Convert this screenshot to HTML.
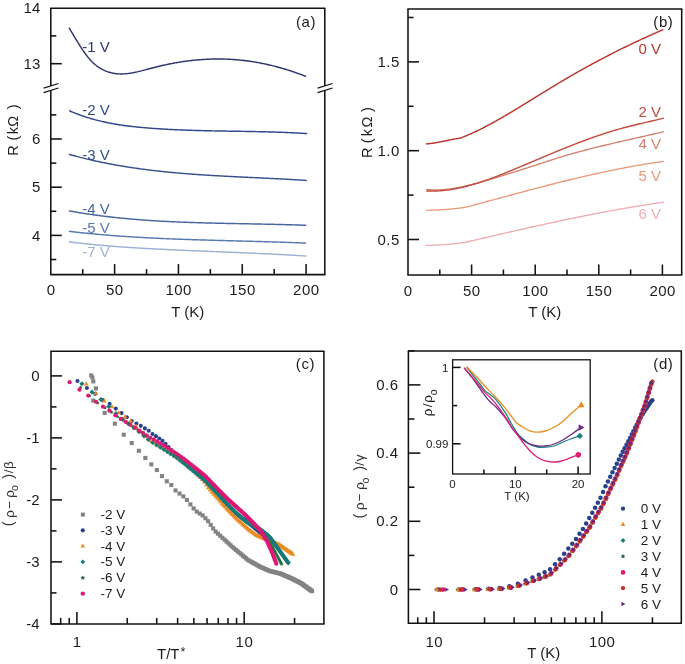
<!DOCTYPE html>
<html><head><meta charset="utf-8"><style>
html,body{margin:0;padding:0;background:#fff;}
svg{display:block;font-family:"Liberation Sans", sans-serif;will-change:transform;}
</style></head><body>
<svg width="685" height="664" viewBox="0 0 685 664">
<rect width="685" height="664" fill="#fff"/>
<line x1="50.15" y1="8.20" x2="325.45" y2="8.20" stroke="#121212" stroke-width="1.55"/>
<line x1="50.15" y1="274.60" x2="325.45" y2="274.60" stroke="#121212" stroke-width="1.55"/>
<line x1="50.80" y1="8.20" x2="50.80" y2="85.90" stroke="#121212" stroke-width="1.55"/>
<line x1="50.80" y1="90.30" x2="50.80" y2="274.60" stroke="#121212" stroke-width="1.55"/>
<line x1="324.80" y1="8.20" x2="324.80" y2="85.90" stroke="#121212" stroke-width="1.55"/>
<line x1="324.80" y1="90.30" x2="324.80" y2="274.60" stroke="#121212" stroke-width="1.55"/>
<line x1="43.60" y1="88.20" x2="58.50" y2="83.50" stroke="#121212" stroke-width="1.3"/>
<line x1="43.60" y1="92.70" x2="58.50" y2="88.00" stroke="#121212" stroke-width="1.3"/>
<line x1="317.60" y1="88.20" x2="332.50" y2="83.50" stroke="#121212" stroke-width="1.3"/>
<line x1="317.60" y1="92.70" x2="332.50" y2="88.00" stroke="#121212" stroke-width="1.3"/>
<line x1="82.71" y1="274.60" x2="82.71" y2="269.10" stroke="#121212" stroke-width="1.55"/>
<line x1="114.62" y1="274.60" x2="114.62" y2="264.10" stroke="#121212" stroke-width="1.55"/>
<line x1="146.53" y1="274.60" x2="146.53" y2="269.10" stroke="#121212" stroke-width="1.55"/>
<line x1="178.44" y1="274.60" x2="178.44" y2="264.10" stroke="#121212" stroke-width="1.55"/>
<line x1="210.35" y1="274.60" x2="210.35" y2="269.10" stroke="#121212" stroke-width="1.55"/>
<line x1="242.26" y1="274.60" x2="242.26" y2="264.10" stroke="#121212" stroke-width="1.55"/>
<line x1="274.17" y1="274.60" x2="274.17" y2="269.10" stroke="#121212" stroke-width="1.55"/>
<line x1="306.08" y1="274.60" x2="306.08" y2="264.10" stroke="#121212" stroke-width="1.55"/>
<text x="51.05" y="295.30" font-size="15" text-anchor="middle" fill="#1c1c1c"  letter-spacing="0.5">0</text>
<text x="114.87" y="295.30" font-size="15" text-anchor="middle" fill="#1c1c1c"  letter-spacing="0.5">50</text>
<text x="178.69" y="295.30" font-size="15" text-anchor="middle" fill="#1c1c1c"  letter-spacing="0.5">100</text>
<text x="242.51" y="295.30" font-size="15" text-anchor="middle" fill="#1c1c1c"  letter-spacing="0.5">150</text>
<text x="306.33" y="295.30" font-size="15" text-anchor="middle" fill="#1c1c1c"  letter-spacing="0.5">200</text>
<text x="187.80" y="317.20" font-size="15" text-anchor="middle" fill="#1c1c1c" >T (K)</text>
<line x1="50.80" y1="63.70" x2="61.80" y2="63.70" stroke="#121212" stroke-width="1.55"/>
<line x1="50.80" y1="35.90" x2="56.30" y2="35.90" stroke="#121212" stroke-width="1.55"/>
<line x1="50.80" y1="139.00" x2="61.80" y2="139.00" stroke="#121212" stroke-width="1.55"/>
<line x1="50.80" y1="187.20" x2="61.80" y2="187.20" stroke="#121212" stroke-width="1.55"/>
<line x1="50.80" y1="235.40" x2="61.80" y2="235.40" stroke="#121212" stroke-width="1.55"/>
<line x1="50.80" y1="114.90" x2="56.30" y2="114.90" stroke="#121212" stroke-width="1.55"/>
<line x1="50.80" y1="163.10" x2="56.30" y2="163.10" stroke="#121212" stroke-width="1.55"/>
<line x1="50.80" y1="211.30" x2="56.30" y2="211.30" stroke="#121212" stroke-width="1.55"/>
<line x1="50.80" y1="259.50" x2="56.30" y2="259.50" stroke="#121212" stroke-width="1.55"/>
<text x="40.30" y="13.20" font-size="15" text-anchor="end" fill="#1c1c1c" >14</text>
<text x="40.30" y="68.80" font-size="15" text-anchor="end" fill="#1c1c1c" >13</text>
<text x="40.30" y="144.10" font-size="15" text-anchor="end" fill="#1c1c1c" >6</text>
<text x="40.30" y="192.30" font-size="15" text-anchor="end" fill="#1c1c1c" >5</text>
<text x="40.30" y="240.50" font-size="15" text-anchor="end" fill="#1c1c1c" >4</text>
<text transform="translate(17.89,155.64) rotate(-90)" font-size="14.5" fill="#1c1c1c">R</text>
<text transform="translate(17.75,140.52) rotate(-90)" font-size="14.5" fill="#1c1c1c">(</text>
<text transform="translate(17.65,134.17) rotate(-90)" font-size="14.5" fill="#1c1c1c">k</text>
<text transform="translate(17.91,126.67) rotate(-90)" font-size="14.5" fill="#1c1c1c">Ω</text>
<text transform="translate(17.95,109.21) rotate(-90)" font-size="14.5" fill="#1c1c1c">)</text>
<text x="295.90" y="26.60" font-size="15" text-anchor="start" fill="#1c1c1c"  letter-spacing="0.6">(a)</text>
<path d="M69.30,28.25 L70.30,29.90 L71.30,31.56 L72.30,33.22 L73.30,34.89 L74.30,36.55 L75.30,38.21 L76.30,39.86 L77.30,41.49 L78.30,43.11 L79.30,44.71 L80.30,46.29 L81.30,47.84 L82.30,49.35 L83.30,50.83 L84.30,52.28 L85.30,53.68 L86.30,55.03 L87.30,56.33 L88.30,57.58 L89.30,58.78 L90.30,59.91 L91.30,60.98 L92.30,62.00 L93.30,62.97 L94.30,63.88 L95.30,64.74 L96.30,65.55 L97.30,66.31 L98.30,67.03 L99.30,67.70 L100.30,68.32 L101.30,68.91 L102.30,69.45 L103.30,69.96 L104.30,70.43 L105.30,70.87 L106.30,71.27 L107.30,71.64 L108.30,71.97 L109.30,72.28 L110.30,72.56 L111.30,72.82 L112.30,73.04 L113.30,73.24 L114.30,73.41 L115.30,73.55 L116.30,73.67 L117.30,73.77 L118.30,73.85 L119.30,73.90 L120.30,73.93 L121.30,73.94 L122.30,73.93 L123.30,73.90 L124.30,73.85 L125.30,73.78 L126.30,73.70 L127.30,73.60 L128.30,73.49 L129.30,73.36 L130.30,73.21 L131.30,73.05 L132.30,72.88 L133.30,72.70 L134.30,72.51 L135.30,72.30 L136.30,72.09 L137.30,71.87 L138.30,71.64 L139.30,71.40 L140.30,71.16 L141.30,70.91 L142.30,70.65 L143.30,70.39 L144.30,70.13 L145.30,69.86 L146.30,69.59 L147.30,69.32 L148.30,69.05 L149.30,68.78 L150.30,68.51 L151.30,68.25 L152.30,67.98 L153.30,67.72 L154.30,67.46 L155.30,67.20 L156.30,66.95 L157.30,66.71 L158.30,66.46 L159.30,66.22 L160.30,65.98 L161.30,65.75 L162.30,65.52 L163.30,65.30 L164.30,65.07 L165.30,64.85 L166.30,64.64 L167.30,64.43 L168.30,64.22 L169.30,64.02 L170.30,63.82 L171.30,63.63 L172.30,63.43 L173.30,63.25 L174.30,63.06 L175.30,62.88 L176.30,62.71 L177.30,62.53 L178.30,62.37 L179.30,62.20 L180.30,62.04 L181.30,61.88 L182.30,61.73 L183.30,61.58 L184.30,61.44 L185.30,61.30 L186.30,61.16 L187.30,61.03 L188.30,60.90 L189.30,60.78 L190.30,60.66 L191.30,60.54 L192.30,60.43 L193.30,60.32 L194.30,60.22 L195.30,60.12 L196.30,60.02 L197.30,59.93 L198.30,59.84 L199.30,59.76 L200.30,59.68 L201.30,59.60 L202.30,59.53 L203.30,59.47 L204.30,59.41 L205.30,59.35 L206.30,59.29 L207.30,59.25 L208.30,59.20 L209.30,59.16 L210.30,59.12 L211.30,59.09 L212.30,59.06 L213.30,59.04 L214.30,59.02 L215.30,59.01 L216.30,59.00 L217.30,58.99 L218.30,58.99 L219.30,58.99 L220.30,59.00 L221.30,59.01 L222.30,59.03 L223.30,59.05 L224.30,59.08 L225.30,59.11 L226.30,59.14 L227.30,59.18 L228.30,59.22 L229.30,59.27 L230.30,59.32 L231.30,59.38 L232.30,59.44 L233.30,59.51 L234.30,59.58 L235.30,59.66 L236.30,59.74 L237.30,59.82 L238.30,59.91 L239.30,60.01 L240.30,60.11 L241.30,60.21 L242.30,60.32 L243.30,60.43 L244.30,60.55 L245.30,60.67 L246.30,60.79 L247.30,60.92 L248.30,61.06 L249.30,61.20 L250.30,61.34 L251.30,61.49 L252.30,61.65 L253.30,61.80 L254.30,61.97 L255.30,62.13 L256.30,62.31 L257.30,62.48 L258.30,62.66 L259.30,62.85 L260.30,63.04 L261.30,63.23 L262.30,63.43 L263.30,63.63 L264.30,63.84 L265.30,64.05 L266.30,64.27 L267.30,64.49 L268.30,64.72 L269.30,64.95 L270.30,65.18 L271.30,65.42 L272.30,65.66 L273.30,65.91 L274.30,66.17 L275.30,66.42 L276.30,66.68 L277.30,66.95 L278.30,67.22 L279.30,67.49 L280.30,67.77 L281.30,68.06 L282.30,68.35 L283.30,68.64 L284.30,68.94 L285.30,69.24 L286.30,69.54 L287.30,69.85 L288.30,70.17 L289.30,70.49 L290.30,70.81 L291.30,71.14 L292.30,71.47 L293.30,71.81 L294.30,72.15 L295.30,72.50 L296.30,72.85 L297.30,73.20 L298.30,73.56 L299.30,73.92 L300.30,74.29 L301.30,74.66 L302.30,75.04 L303.30,75.42 L304.30,75.80 L305.30,76.19 L305.50,76.27" fill="none" stroke="#2d3673" stroke-width="1.45" stroke-linecap="round" stroke-linejoin="round"/>
<path d="M69.60,110.86 L70.60,111.29 L71.60,111.72 L72.60,112.14 L73.60,112.55 L74.60,112.95 L75.60,113.35 L76.60,113.74 L77.60,114.12 L78.60,114.49 L79.60,114.86 L80.60,115.22 L81.60,115.58 L82.60,115.93 L83.60,116.27 L84.60,116.60 L85.60,116.93 L86.60,117.25 L87.60,117.57 L88.60,117.88 L89.60,118.18 L90.60,118.48 L91.60,118.77 L92.60,119.05 L93.60,119.33 L94.60,119.61 L95.60,119.88 L96.60,120.14 L97.60,120.40 L98.60,120.65 L99.60,120.90 L100.60,121.14 L101.60,121.37 L102.60,121.60 L103.60,121.83 L104.60,122.05 L105.60,122.27 L106.60,122.48 L107.60,122.68 L108.60,122.89 L109.60,123.08 L110.60,123.28 L111.60,123.46 L112.60,123.65 L113.60,123.83 L114.60,124.00 L115.60,124.18 L116.60,124.34 L117.60,124.51 L118.60,124.67 L119.60,124.82 L120.60,124.98 L121.60,125.12 L122.60,125.27 L123.60,125.41 L124.60,125.55 L125.60,125.68 L126.60,125.82 L127.60,125.95 L128.60,126.07 L129.60,126.19 L130.60,126.31 L131.60,126.43 L132.60,126.54 L133.60,126.65 L134.60,126.76 L135.60,126.87 L136.60,126.97 L137.60,127.07 L138.60,127.17 L139.60,127.27 L140.60,127.37 L141.60,127.46 L142.60,127.55 L143.60,127.64 L144.60,127.72 L145.60,127.81 L146.60,127.89 L147.60,127.98 L148.60,128.06 L149.60,128.13 L150.60,128.21 L151.60,128.29 L152.60,128.36 L153.60,128.44 L154.60,128.51 L155.60,128.58 L156.60,128.65 L157.60,128.71 L158.60,128.78 L159.60,128.84 L160.60,128.91 L161.60,128.97 L162.60,129.03 L163.60,129.09 L164.60,129.15 L165.60,129.21 L166.60,129.26 L167.60,129.32 L168.60,129.37 L169.60,129.43 L170.60,129.48 L171.60,129.53 L172.60,129.58 L173.60,129.62 L174.60,129.67 L175.60,129.72 L176.60,129.76 L177.60,129.81 L178.60,129.85 L179.60,129.89 L180.60,129.93 L181.60,129.97 L182.60,130.01 L183.60,130.05 L184.60,130.09 L185.60,130.13 L186.60,130.16 L187.60,130.20 L188.60,130.23 L189.60,130.26 L190.60,130.30 L191.60,130.33 L192.60,130.36 L193.60,130.39 L194.60,130.42 L195.60,130.45 L196.60,130.48 L197.60,130.51 L198.60,130.53 L199.60,130.56 L200.60,130.59 L201.60,130.61 L202.60,130.64 L203.60,130.66 L204.60,130.68 L205.60,130.71 L206.60,130.73 L207.60,130.75 L208.60,130.77 L209.60,130.79 L210.60,130.82 L211.60,130.84 L212.60,130.86 L213.60,130.88 L214.60,130.90 L215.60,130.91 L216.60,130.93 L217.60,130.95 L218.60,130.97 L219.60,130.99 L220.60,131.01 L221.60,131.02 L222.60,131.04 L223.60,131.06 L224.60,131.07 L225.60,131.09 L226.60,131.11 L227.60,131.12 L228.60,131.14 L229.60,131.16 L230.60,131.17 L231.60,131.19 L232.60,131.20 L233.60,131.22 L234.60,131.24 L235.60,131.25 L236.60,131.27 L237.60,131.29 L238.60,131.30 L239.60,131.32 L240.60,131.33 L241.60,131.35 L242.60,131.37 L243.60,131.38 L244.60,131.40 L245.60,131.42 L246.60,131.44 L247.60,131.45 L248.60,131.47 L249.60,131.49 L250.60,131.51 L251.60,131.53 L252.60,131.55 L253.60,131.57 L254.60,131.59 L255.60,131.61 L256.60,131.63 L257.60,131.65 L258.60,131.67 L259.60,131.69 L260.60,131.71 L261.60,131.74 L262.60,131.76 L263.60,131.78 L264.60,131.81 L265.60,131.83 L266.60,131.86 L267.60,131.88 L268.60,131.91 L269.60,131.94 L270.60,131.97 L271.60,131.99 L272.60,132.02 L273.60,132.05 L274.60,132.08 L275.60,132.12 L276.60,132.15 L277.60,132.18 L278.60,132.21 L279.60,132.25 L280.60,132.28 L281.60,132.32 L282.60,132.36 L283.60,132.39 L284.60,132.43 L285.60,132.47 L286.60,132.51 L287.60,132.55 L288.60,132.60 L289.60,132.64 L290.60,132.69 L291.60,132.73 L292.60,132.78 L293.60,132.82 L294.60,132.87 L295.60,132.92 L296.60,132.97 L297.60,133.02 L298.60,133.08 L299.60,133.13 L300.60,133.19 L301.60,133.24 L302.60,133.30 L303.60,133.36 L304.60,133.42 L305.60,133.48 L306.50,133.54" fill="none" stroke="#30468a" stroke-width="1.45" stroke-linecap="round" stroke-linejoin="round"/>
<path d="M69.40,154.42 L70.40,154.70 L71.40,154.98 L72.40,155.25 L73.40,155.53 L74.40,155.80 L75.40,156.07 L76.40,156.33 L77.40,156.59 L78.40,156.85 L79.40,157.11 L80.40,157.37 L81.40,157.62 L82.40,157.87 L83.40,158.12 L84.40,158.37 L85.40,158.61 L86.40,158.85 L87.40,159.09 L88.40,159.33 L89.40,159.57 L90.40,159.80 L91.40,160.03 L92.40,160.26 L93.40,160.48 L94.40,160.71 L95.40,160.93 L96.40,161.15 L97.40,161.36 L98.40,161.58 L99.40,161.79 L100.40,162.00 L101.40,162.21 L102.40,162.42 L103.40,162.62 L104.40,162.83 L105.40,163.03 L106.40,163.22 L107.40,163.42 L108.40,163.62 L109.40,163.81 L110.40,164.00 L111.40,164.19 L112.40,164.37 L113.40,164.56 L114.40,164.74 L115.40,164.92 L116.40,165.10 L117.40,165.28 L118.40,165.45 L119.40,165.63 L120.40,165.80 L121.40,165.97 L122.40,166.13 L123.40,166.30 L124.40,166.46 L125.40,166.63 L126.40,166.79 L127.40,166.95 L128.40,167.10 L129.40,167.26 L130.40,167.41 L131.40,167.56 L132.40,167.71 L133.40,167.86 L134.40,168.01 L135.40,168.15 L136.40,168.30 L137.40,168.44 L138.40,168.58 L139.40,168.72 L140.40,168.86 L141.40,168.99 L142.40,169.13 L143.40,169.26 L144.40,169.39 L145.40,169.52 L146.40,169.65 L147.40,169.78 L148.40,169.90 L149.40,170.02 L150.40,170.15 L151.40,170.27 L152.40,170.39 L153.40,170.50 L154.40,170.62 L155.40,170.74 L156.40,170.85 L157.40,170.96 L158.40,171.07 L159.40,171.18 L160.40,171.29 L161.40,171.40 L162.40,171.51 L163.40,171.61 L164.40,171.72 L165.40,171.82 L166.40,171.92 L167.40,172.02 L168.40,172.12 L169.40,172.22 L170.40,172.31 L171.40,172.41 L172.40,172.50 L173.40,172.59 L174.40,172.69 L175.40,172.78 L176.40,172.87 L177.40,172.96 L178.40,173.04 L179.40,173.13 L180.40,173.22 L181.40,173.30 L182.40,173.38 L183.40,173.47 L184.40,173.55 L185.40,173.63 L186.40,173.71 L187.40,173.79 L188.40,173.86 L189.40,173.94 L190.40,174.02 L191.40,174.09 L192.40,174.17 L193.40,174.24 L194.40,174.31 L195.40,174.38 L196.40,174.46 L197.40,174.53 L198.40,174.59 L199.40,174.66 L200.40,174.73 L201.40,174.80 L202.40,174.86 L203.40,174.93 L204.40,175.00 L205.40,175.06 L206.40,175.12 L207.40,175.19 L208.40,175.25 L209.40,175.31 L210.40,175.37 L211.40,175.43 L212.40,175.49 L213.40,175.55 L214.40,175.61 L215.40,175.67 L216.40,175.72 L217.40,175.78 L218.40,175.84 L219.40,175.89 L220.40,175.95 L221.40,176.00 L222.40,176.06 L223.40,176.11 L224.40,176.17 L225.40,176.22 L226.40,176.27 L227.40,176.33 L228.40,176.38 L229.40,176.43 L230.40,176.48 L231.40,176.53 L232.40,176.58 L233.40,176.63 L234.40,176.68 L235.40,176.73 L236.40,176.78 L237.40,176.83 L238.40,176.88 L239.40,176.93 L240.40,176.98 L241.40,177.03 L242.40,177.08 L243.40,177.13 L244.40,177.17 L245.40,177.22 L246.40,177.27 L247.40,177.32 L248.40,177.36 L249.40,177.41 L250.40,177.46 L251.40,177.51 L252.40,177.55 L253.40,177.60 L254.40,177.65 L255.40,177.70 L256.40,177.74 L257.40,177.79 L258.40,177.84 L259.40,177.88 L260.40,177.93 L261.40,177.98 L262.40,178.03 L263.40,178.07 L264.40,178.12 L265.40,178.17 L266.40,178.22 L267.40,178.27 L268.40,178.32 L269.40,178.36 L270.40,178.41 L271.40,178.46 L272.40,178.51 L273.40,178.56 L274.40,178.61 L275.40,178.66 L276.40,178.71 L277.40,178.76 L278.40,178.81 L279.40,178.86 L280.40,178.91 L281.40,178.97 L282.40,179.02 L283.40,179.07 L284.40,179.12 L285.40,179.18 L286.40,179.23 L287.40,179.28 L288.40,179.34 L289.40,179.39 L290.40,179.45 L291.40,179.51 L292.40,179.56 L293.40,179.62 L294.40,179.68 L295.40,179.74 L296.40,179.79 L297.40,179.85 L298.40,179.91 L299.40,179.97 L300.40,180.03 L301.40,180.10 L302.40,180.16 L303.40,180.22 L304.40,180.28 L305.40,180.35 L306.30,180.41" fill="none" stroke="#37508f" stroke-width="1.45" stroke-linecap="round" stroke-linejoin="round"/>
<path d="M69.40,210.95 L70.40,211.13 L71.40,211.31 L72.40,211.48 L73.40,211.66 L74.40,211.83 L75.40,212.00 L76.40,212.17 L77.40,212.34 L78.40,212.50 L79.40,212.67 L80.40,212.83 L81.40,212.99 L82.40,213.15 L83.40,213.30 L84.40,213.46 L85.40,213.61 L86.40,213.77 L87.40,213.92 L88.40,214.06 L89.40,214.21 L90.40,214.36 L91.40,214.50 L92.40,214.64 L93.40,214.78 L94.40,214.92 L95.40,215.06 L96.40,215.19 L97.40,215.33 L98.40,215.46 L99.40,215.59 L100.40,215.72 L101.40,215.85 L102.40,215.98 L103.40,216.10 L104.40,216.23 L105.40,216.35 L106.40,216.47 L107.40,216.59 L108.40,216.71 L109.40,216.82 L110.40,216.94 L111.40,217.05 L112.40,217.16 L113.40,217.27 L114.40,217.38 L115.40,217.49 L116.40,217.60 L117.40,217.70 L118.40,217.81 L119.40,217.91 L120.40,218.01 L121.40,218.11 L122.40,218.21 L123.40,218.31 L124.40,218.40 L125.40,218.50 L126.40,218.59 L127.40,218.68 L128.40,218.77 L129.40,218.86 L130.40,218.95 L131.40,219.04 L132.40,219.13 L133.40,219.21 L134.40,219.30 L135.40,219.38 L136.40,219.46 L137.40,219.54 L138.40,219.62 L139.40,219.70 L140.40,219.78 L141.40,219.85 L142.40,219.93 L143.40,220.00 L144.40,220.07 L145.40,220.14 L146.40,220.22 L147.40,220.29 L148.40,220.35 L149.40,220.42 L150.40,220.49 L151.40,220.55 L152.40,220.62 L153.40,220.68 L154.40,220.74 L155.40,220.81 L156.40,220.87 L157.40,220.93 L158.40,220.99 L159.40,221.04 L160.40,221.10 L161.40,221.16 L162.40,221.21 L163.40,221.27 L164.40,221.32 L165.40,221.37 L166.40,221.43 L167.40,221.48 L168.40,221.53 L169.40,221.58 L170.40,221.63 L171.40,221.67 L172.40,221.72 L173.40,221.77 L174.40,221.81 L175.40,221.86 L176.40,221.90 L177.40,221.95 L178.40,221.99 L179.40,222.03 L180.40,222.07 L181.40,222.11 L182.40,222.15 L183.40,222.19 L184.40,222.23 L185.40,222.27 L186.40,222.31 L187.40,222.34 L188.40,222.38 L189.40,222.42 L190.40,222.45 L191.40,222.48 L192.40,222.52 L193.40,222.55 L194.40,222.58 L195.40,222.62 L196.40,222.65 L197.40,222.68 L198.40,222.71 L199.40,222.74 L200.40,222.77 L201.40,222.80 L202.40,222.83 L203.40,222.86 L204.40,222.88 L205.40,222.91 L206.40,222.94 L207.40,222.97 L208.40,222.99 L209.40,223.02 L210.40,223.04 L211.40,223.07 L212.40,223.09 L213.40,223.12 L214.40,223.14 L215.40,223.17 L216.40,223.19 L217.40,223.21 L218.40,223.23 L219.40,223.26 L220.40,223.28 L221.40,223.30 L222.40,223.32 L223.40,223.34 L224.40,223.37 L225.40,223.39 L226.40,223.41 L227.40,223.43 L228.40,223.45 L229.40,223.47 L230.40,223.49 L231.40,223.51 L232.40,223.53 L233.40,223.55 L234.40,223.57 L235.40,223.59 L236.40,223.61 L237.40,223.63 L238.40,223.64 L239.40,223.66 L240.40,223.68 L241.40,223.70 L242.40,223.72 L243.40,223.74 L244.40,223.76 L245.40,223.78 L246.40,223.80 L247.40,223.81 L248.40,223.83 L249.40,223.85 L250.40,223.87 L251.40,223.89 L252.40,223.91 L253.40,223.93 L254.40,223.95 L255.40,223.97 L256.40,223.99 L257.40,224.00 L258.40,224.02 L259.40,224.04 L260.40,224.06 L261.40,224.08 L262.40,224.10 L263.40,224.12 L264.40,224.14 L265.40,224.16 L266.40,224.19 L267.40,224.21 L268.40,224.23 L269.40,224.25 L270.40,224.27 L271.40,224.29 L272.40,224.32 L273.40,224.34 L274.40,224.36 L275.40,224.38 L276.40,224.41 L277.40,224.43 L278.40,224.46 L279.40,224.48 L280.40,224.51 L281.40,224.53 L282.40,224.56 L283.40,224.58 L284.40,224.61 L285.40,224.63 L286.40,224.66 L287.40,224.69 L288.40,224.72 L289.40,224.75 L290.40,224.77 L291.40,224.80 L292.40,224.83 L293.40,224.86 L294.40,224.89 L295.40,224.93 L296.40,224.96 L297.40,224.99 L298.40,225.02 L299.40,225.06 L300.40,225.09 L301.40,225.13 L302.40,225.16 L303.40,225.20 L304.40,225.23 L305.40,225.27 L305.70,225.28" fill="none" stroke="#47659f" stroke-width="1.45" stroke-linecap="round" stroke-linejoin="round"/>
<path d="M69.40,231.36 L70.40,231.48 L71.40,231.59 L72.40,231.71 L73.40,231.82 L74.40,231.94 L75.40,232.05 L76.40,232.16 L77.40,232.27 L78.40,232.38 L79.40,232.49 L80.40,232.60 L81.40,232.71 L82.40,232.81 L83.40,232.91 L84.40,233.02 L85.40,233.12 L86.40,233.22 L87.40,233.32 L88.40,233.42 L89.40,233.52 L90.40,233.62 L91.40,233.71 L92.40,233.81 L93.40,233.90 L94.40,234.00 L95.40,234.09 L96.40,234.18 L97.40,234.27 L98.40,234.36 L99.40,234.45 L100.40,234.54 L101.40,234.63 L102.40,234.71 L103.40,234.80 L104.40,234.88 L105.40,234.97 L106.40,235.05 L107.40,235.13 L108.40,235.21 L109.40,235.29 L110.40,235.37 L111.40,235.45 L112.40,235.53 L113.40,235.61 L114.40,235.68 L115.40,235.76 L116.40,235.83 L117.40,235.91 L118.40,235.98 L119.40,236.05 L120.40,236.12 L121.40,236.19 L122.40,236.26 L123.40,236.33 L124.40,236.40 L125.40,236.47 L126.40,236.53 L127.40,236.60 L128.40,236.67 L129.40,236.73 L130.40,236.79 L131.40,236.86 L132.40,236.92 L133.40,236.98 L134.40,237.04 L135.40,237.10 L136.40,237.16 L137.40,237.22 L138.40,237.28 L139.40,237.34 L140.40,237.40 L141.40,237.45 L142.40,237.51 L143.40,237.57 L144.40,237.62 L145.40,237.67 L146.40,237.73 L147.40,237.78 L148.40,237.83 L149.40,237.89 L150.40,237.94 L151.40,237.99 L152.40,238.04 L153.40,238.09 L154.40,238.14 L155.40,238.18 L156.40,238.23 L157.40,238.28 L158.40,238.33 L159.40,238.37 L160.40,238.42 L161.40,238.46 L162.40,238.51 L163.40,238.55 L164.40,238.60 L165.40,238.64 L166.40,238.68 L167.40,238.73 L168.40,238.77 L169.40,238.81 L170.40,238.85 L171.40,238.89 L172.40,238.93 L173.40,238.97 L174.40,239.01 L175.40,239.05 L176.40,239.09 L177.40,239.13 L178.40,239.16 L179.40,239.20 L180.40,239.24 L181.40,239.28 L182.40,239.31 L183.40,239.35 L184.40,239.38 L185.40,239.42 L186.40,239.45 L187.40,239.49 L188.40,239.52 L189.40,239.56 L190.40,239.59 L191.40,239.62 L192.40,239.66 L193.40,239.69 L194.40,239.72 L195.40,239.75 L196.40,239.79 L197.40,239.82 L198.40,239.85 L199.40,239.88 L200.40,239.91 L201.40,239.94 L202.40,239.97 L203.40,240.00 L204.40,240.03 L205.40,240.06 L206.40,240.09 L207.40,240.12 L208.40,240.15 L209.40,240.18 L210.40,240.21 L211.40,240.24 L212.40,240.26 L213.40,240.29 L214.40,240.32 L215.40,240.35 L216.40,240.38 L217.40,240.40 L218.40,240.43 L219.40,240.46 L220.40,240.49 L221.40,240.51 L222.40,240.54 L223.40,240.57 L224.40,240.59 L225.40,240.62 L226.40,240.65 L227.40,240.67 L228.40,240.70 L229.40,240.73 L230.40,240.75 L231.40,240.78 L232.40,240.81 L233.40,240.83 L234.40,240.86 L235.40,240.89 L236.40,240.91 L237.40,240.94 L238.40,240.97 L239.40,240.99 L240.40,241.02 L241.40,241.05 L242.40,241.07 L243.40,241.10 L244.40,241.12 L245.40,241.15 L246.40,241.18 L247.40,241.20 L248.40,241.23 L249.40,241.26 L250.40,241.28 L251.40,241.31 L252.40,241.34 L253.40,241.37 L254.40,241.39 L255.40,241.42 L256.40,241.45 L257.40,241.48 L258.40,241.50 L259.40,241.53 L260.40,241.56 L261.40,241.59 L262.40,241.62 L263.40,241.65 L264.40,241.67 L265.40,241.70 L266.40,241.73 L267.40,241.76 L268.40,241.79 L269.40,241.82 L270.40,241.85 L271.40,241.88 L272.40,241.91 L273.40,241.94 L274.40,241.97 L275.40,242.00 L276.40,242.04 L277.40,242.07 L278.40,242.10 L279.40,242.13 L280.40,242.16 L281.40,242.20 L282.40,242.23 L283.40,242.26 L284.40,242.30 L285.40,242.33 L286.40,242.36 L287.40,242.40 L288.40,242.43 L289.40,242.47 L290.40,242.51 L291.40,242.54 L292.40,242.58 L293.40,242.61 L294.40,242.65 L295.40,242.69 L296.40,242.73 L297.40,242.76 L298.40,242.80 L299.40,242.84 L300.40,242.88 L301.40,242.92 L302.40,242.96 L303.40,243.00 L304.40,243.04 L305.40,243.09 L305.70,243.10" fill="none" stroke="#5778b0" stroke-width="1.45" stroke-linecap="round" stroke-linejoin="round"/>
<path d="M69.40,241.93 L70.40,242.05 L71.40,242.18 L72.40,242.30 L73.40,242.42 L74.40,242.54 L75.40,242.66 L76.40,242.78 L77.40,242.89 L78.40,243.01 L79.40,243.12 L80.40,243.23 L81.40,243.34 L82.40,243.45 L83.40,243.56 L84.40,243.67 L85.40,243.77 L86.40,243.88 L87.40,243.98 L88.40,244.09 L89.40,244.19 L90.40,244.29 L91.40,244.39 L92.40,244.48 L93.40,244.58 L94.40,244.68 L95.40,244.77 L96.40,244.87 L97.40,244.96 L98.40,245.05 L99.40,245.14 L100.40,245.23 L101.40,245.32 L102.40,245.41 L103.40,245.50 L104.40,245.58 L105.40,245.67 L106.40,245.75 L107.40,245.83 L108.40,245.92 L109.40,246.00 L110.40,246.08 L111.40,246.16 L112.40,246.24 L113.40,246.31 L114.40,246.39 L115.40,246.47 L116.40,246.54 L117.40,246.62 L118.40,246.69 L119.40,246.76 L120.40,246.84 L121.40,246.91 L122.40,246.98 L123.40,247.05 L124.40,247.12 L125.40,247.18 L126.40,247.25 L127.40,247.32 L128.40,247.39 L129.40,247.45 L130.40,247.52 L131.40,247.58 L132.40,247.64 L133.40,247.71 L134.40,247.77 L135.40,247.83 L136.40,247.89 L137.40,247.95 L138.40,248.01 L139.40,248.07 L140.40,248.13 L141.40,248.19 L142.40,248.25 L143.40,248.31 L144.40,248.36 L145.40,248.42 L146.40,248.48 L147.40,248.53 L148.40,248.59 L149.40,248.64 L150.40,248.70 L151.40,248.75 L152.40,248.80 L153.40,248.86 L154.40,248.91 L155.40,248.96 L156.40,249.01 L157.40,249.06 L158.40,249.12 L159.40,249.17 L160.40,249.22 L161.40,249.27 L162.40,249.32 L163.40,249.37 L164.40,249.42 L165.40,249.46 L166.40,249.51 L167.40,249.56 L168.40,249.61 L169.40,249.66 L170.40,249.70 L171.40,249.75 L172.40,249.80 L173.40,249.84 L174.40,249.89 L175.40,249.94 L176.40,249.98 L177.40,250.03 L178.40,250.07 L179.40,250.12 L180.40,250.16 L181.40,250.21 L182.40,250.25 L183.40,250.30 L184.40,250.34 L185.40,250.39 L186.40,250.43 L187.40,250.47 L188.40,250.52 L189.40,250.56 L190.40,250.60 L191.40,250.65 L192.40,250.69 L193.40,250.73 L194.40,250.77 L195.40,250.82 L196.40,250.86 L197.40,250.90 L198.40,250.94 L199.40,250.98 L200.40,251.03 L201.40,251.07 L202.40,251.11 L203.40,251.15 L204.40,251.19 L205.40,251.23 L206.40,251.27 L207.40,251.32 L208.40,251.36 L209.40,251.40 L210.40,251.44 L211.40,251.48 L212.40,251.52 L213.40,251.56 L214.40,251.60 L215.40,251.64 L216.40,251.68 L217.40,251.72 L218.40,251.77 L219.40,251.81 L220.40,251.85 L221.40,251.89 L222.40,251.93 L223.40,251.97 L224.40,252.01 L225.40,252.05 L226.40,252.09 L227.40,252.13 L228.40,252.17 L229.40,252.22 L230.40,252.26 L231.40,252.30 L232.40,252.34 L233.40,252.38 L234.40,252.42 L235.40,252.46 L236.40,252.51 L237.40,252.55 L238.40,252.59 L239.40,252.63 L240.40,252.68 L241.40,252.72 L242.40,252.76 L243.40,252.80 L244.40,252.85 L245.40,252.89 L246.40,252.93 L247.40,252.98 L248.40,253.02 L249.40,253.06 L250.40,253.11 L251.40,253.15 L252.40,253.19 L253.40,253.24 L254.40,253.28 L255.40,253.33 L256.40,253.37 L257.40,253.42 L258.40,253.46 L259.40,253.51 L260.40,253.56 L261.40,253.60 L262.40,253.65 L263.40,253.70 L264.40,253.74 L265.40,253.79 L266.40,253.84 L267.40,253.89 L268.40,253.93 L269.40,253.98 L270.40,254.03 L271.40,254.08 L272.40,254.13 L273.40,254.18 L274.40,254.23 L275.40,254.28 L276.40,254.33 L277.40,254.38 L278.40,254.43 L279.40,254.49 L280.40,254.54 L281.40,254.59 L282.40,254.64 L283.40,254.70 L284.40,254.75 L285.40,254.81 L286.40,254.86 L287.40,254.91 L288.40,254.97 L289.40,255.03 L290.40,255.08 L291.40,255.14 L292.40,255.20 L293.40,255.25 L294.40,255.31 L295.40,255.37 L296.40,255.43 L297.40,255.49 L298.40,255.55 L299.40,255.61 L300.40,255.67 L301.40,255.73 L302.40,255.79 L303.40,255.85 L304.40,255.91 L305.40,255.98 L305.70,256.00" fill="none" stroke="#9cb2d8" stroke-width="1.45" stroke-linecap="round" stroke-linejoin="round"/>
<text x="82.30" y="51.50" font-size="15" text-anchor="start" fill="#2d3673" >-1 V</text>
<text x="82.30" y="115.30" font-size="15" text-anchor="start" fill="#30468a" >-2 V</text>
<text x="82.30" y="159.70" font-size="15" text-anchor="start" fill="#37508f" >-3 V</text>
<text x="82.30" y="213.80" font-size="15" text-anchor="start" fill="#47659f" >-4 V</text>
<text x="82.30" y="232.70" font-size="15" text-anchor="start" fill="#5778b0" >-5 V</text>
<text x="82.30" y="257.20" font-size="15" text-anchor="start" fill="#9cb2d8" >-7 V</text>
<line x1="407.35" y1="9.00" x2="682.35" y2="9.00" stroke="#121212" stroke-width="1.55"/>
<line x1="407.35" y1="275.00" x2="682.35" y2="275.00" stroke="#121212" stroke-width="1.55"/>
<line x1="408.00" y1="9.00" x2="408.00" y2="275.00" stroke="#121212" stroke-width="1.55"/>
<line x1="681.70" y1="9.00" x2="681.70" y2="275.00" stroke="#121212" stroke-width="1.55"/>
<line x1="439.80" y1="275.00" x2="439.80" y2="269.50" stroke="#121212" stroke-width="1.55"/>
<line x1="471.60" y1="275.00" x2="471.60" y2="264.50" stroke="#121212" stroke-width="1.55"/>
<line x1="503.40" y1="275.00" x2="503.40" y2="269.50" stroke="#121212" stroke-width="1.55"/>
<line x1="535.20" y1="275.00" x2="535.20" y2="264.50" stroke="#121212" stroke-width="1.55"/>
<line x1="567.00" y1="275.00" x2="567.00" y2="269.50" stroke="#121212" stroke-width="1.55"/>
<line x1="598.80" y1="275.00" x2="598.80" y2="264.50" stroke="#121212" stroke-width="1.55"/>
<line x1="630.60" y1="275.00" x2="630.60" y2="269.50" stroke="#121212" stroke-width="1.55"/>
<line x1="662.40" y1="275.00" x2="662.40" y2="264.50" stroke="#121212" stroke-width="1.55"/>
<text x="408.25" y="295.80" font-size="15" text-anchor="middle" fill="#1c1c1c"  letter-spacing="0.5">0</text>
<text x="471.85" y="295.80" font-size="15" text-anchor="middle" fill="#1c1c1c"  letter-spacing="0.5">50</text>
<text x="535.45" y="295.80" font-size="15" text-anchor="middle" fill="#1c1c1c"  letter-spacing="0.5">100</text>
<text x="599.05" y="295.80" font-size="15" text-anchor="middle" fill="#1c1c1c"  letter-spacing="0.5">150</text>
<text x="662.65" y="295.80" font-size="15" text-anchor="middle" fill="#1c1c1c"  letter-spacing="0.5">200</text>
<text x="544.85" y="317.20" font-size="15" text-anchor="middle" fill="#1c1c1c" >T (K)</text>
<line x1="408.00" y1="239.50" x2="419.00" y2="239.50" stroke="#121212" stroke-width="1.55"/>
<line x1="408.00" y1="150.70" x2="419.00" y2="150.70" stroke="#121212" stroke-width="1.55"/>
<line x1="408.00" y1="61.90" x2="419.00" y2="61.90" stroke="#121212" stroke-width="1.55"/>
<line x1="408.00" y1="195.10" x2="413.50" y2="195.10" stroke="#121212" stroke-width="1.55"/>
<line x1="408.00" y1="106.30" x2="413.50" y2="106.30" stroke="#121212" stroke-width="1.55"/>
<line x1="408.00" y1="17.50" x2="413.50" y2="17.50" stroke="#121212" stroke-width="1.55"/>
<text x="399.80" y="244.60" font-size="15" text-anchor="end" fill="#1c1c1c"  letter-spacing="0.5">0.5</text>
<text x="399.80" y="155.80" font-size="15" text-anchor="end" fill="#1c1c1c"  letter-spacing="0.5">1.0</text>
<text x="399.80" y="67.00" font-size="15" text-anchor="end" fill="#1c1c1c"  letter-spacing="0.5">1.5</text>
<text transform="translate(371.74,158.09) rotate(-90)" font-size="14.5" fill="#1c1c1c">R</text>
<text transform="translate(371.85,143.27) rotate(-90)" font-size="14.5" fill="#1c1c1c">(</text>
<text transform="translate(371.75,136.22) rotate(-90)" font-size="14.5" fill="#1c1c1c">k</text>
<text transform="translate(372.01,127.57) rotate(-90)" font-size="14.5" fill="#1c1c1c">Ω</text>
<text transform="translate(372.05,111.91) rotate(-90)" font-size="14.5" fill="#1c1c1c">)</text>
<text x="653.30" y="27.30" font-size="15" text-anchor="start" fill="#1c1c1c"  letter-spacing="0.6">(b)</text>
<path d="M426.40,245.50 L427.40,245.47 L428.40,245.43 L429.40,245.39 L430.40,245.36 L431.40,245.32 L432.40,245.28 L433.40,245.23 L434.40,245.19 L435.40,245.14 L436.40,245.10 L437.40,245.05 L438.40,245.00 L439.40,244.94 L440.40,244.89 L441.40,244.83 L442.40,244.76 L443.40,244.70 L444.40,244.63 L445.40,244.56 L446.40,244.49 L447.40,244.41 L448.40,244.33 L449.40,244.25 L450.40,244.16 L451.40,244.07 L452.40,243.97 L453.40,243.87 L454.40,243.76 L455.40,243.66 L456.40,243.54 L457.40,243.42 L458.40,243.30 L459.40,243.17 L460.40,243.04 L461.40,242.90 L462.40,242.76 L463.40,242.61 L464.40,242.46 L465.40,242.30 L466.00,242.20 L467.00,241.97 L468.00,241.73 L469.00,241.50 L470.00,241.26 L471.00,241.03 L472.00,240.79 L473.00,240.56 L474.00,240.32 L475.00,240.09 L476.00,239.86 L477.00,239.62 L478.00,239.39 L479.00,239.15 L480.00,238.92 L481.00,238.69 L482.00,238.45 L483.00,238.22 L484.00,237.99 L485.00,237.75 L486.00,237.52 L487.00,237.29 L488.00,237.05 L489.00,236.82 L490.00,236.59 L491.00,236.36 L492.00,236.12 L493.00,235.89 L494.00,235.66 L495.00,235.43 L496.00,235.20 L497.00,234.96 L498.00,234.73 L499.00,234.50 L500.00,234.27 L501.00,234.04 L502.00,233.81 L503.00,233.58 L504.00,233.35 L505.00,233.12 L506.00,232.89 L507.00,232.66 L508.00,232.43 L509.00,232.20 L510.00,231.97 L511.00,231.74 L512.00,231.52 L513.00,231.29 L514.00,231.06 L515.00,230.83 L516.00,230.60 L517.00,230.38 L518.00,230.15 L519.00,229.92 L520.00,229.70 L521.00,229.47 L522.00,229.24 L523.00,229.02 L524.00,228.79 L525.00,228.57 L526.00,228.34 L527.00,228.12 L528.00,227.90 L529.00,227.67 L530.00,227.45 L531.00,227.23 L532.00,227.00 L533.00,226.78 L534.00,226.56 L535.00,226.34 L536.00,226.11 L537.00,225.89 L538.00,225.67 L539.00,225.45 L540.00,225.23 L541.00,225.01 L542.00,224.79 L543.00,224.57 L544.00,224.35 L545.00,224.14 L546.00,223.92 L547.00,223.70 L548.00,223.48 L549.00,223.27 L550.00,223.05 L551.00,222.83 L552.00,222.62 L553.00,222.40 L554.00,222.19 L555.00,221.98 L556.00,221.76 L557.00,221.55 L558.00,221.33 L559.00,221.12 L560.00,220.91 L561.00,220.70 L562.00,220.49 L563.00,220.28 L564.00,220.07 L565.00,219.86 L566.00,219.65 L567.00,219.44 L568.00,219.23 L569.00,219.02 L570.00,218.81 L571.00,218.61 L572.00,218.40 L573.00,218.19 L574.00,217.99 L575.00,217.78 L576.00,217.58 L577.00,217.38 L578.00,217.17 L579.00,216.97 L580.00,216.77 L581.00,216.57 L582.00,216.36 L583.00,216.16 L584.00,215.96 L585.00,215.76 L586.00,215.56 L587.00,215.37 L588.00,215.17 L589.00,214.97 L590.00,214.77 L591.00,214.58 L592.00,214.38 L593.00,214.19 L594.00,213.99 L595.00,213.80 L596.00,213.60 L597.00,213.41 L598.00,213.22 L599.00,213.03 L600.00,212.84 L601.00,212.65 L602.00,212.46 L603.00,212.27 L604.00,212.08 L605.00,211.89 L606.00,211.71 L607.00,211.52 L608.00,211.33 L609.00,211.15 L610.00,210.96 L611.00,210.78 L612.00,210.60 L613.00,210.41 L614.00,210.23 L615.00,210.05 L616.00,209.87 L617.00,209.69 L618.00,209.51 L619.00,209.33 L620.00,209.16 L621.00,208.98 L622.00,208.80 L623.00,208.63 L624.00,208.45 L625.00,208.28 L626.00,208.10 L627.00,207.93 L628.00,207.76 L629.00,207.59 L630.00,207.42 L631.00,207.25 L632.00,207.08 L633.00,206.91 L634.00,206.74 L635.00,206.58 L636.00,206.41 L637.00,206.25 L638.00,206.08 L639.00,205.92 L640.00,205.76 L641.00,205.60 L642.00,205.43 L643.00,205.27 L644.00,205.11 L645.00,204.96 L646.00,204.80 L647.00,204.64 L648.00,204.48 L649.00,204.33 L650.00,204.17 L651.00,204.02 L652.00,203.87 L653.00,203.72 L654.00,203.56 L655.00,203.41 L656.00,203.26 L657.00,203.12 L658.00,202.97 L659.00,202.82 L660.00,202.68 L661.00,202.53 L662.00,202.39 L663.00,202.24 L663.30,202.20" fill="none" stroke="#efadb2" stroke-width="1.35" stroke-linecap="round" stroke-linejoin="round"/>
<path d="M426.40,210.40 L427.40,210.37 L428.40,210.34 L429.40,210.30 L430.40,210.27 L431.40,210.23 L432.40,210.19 L433.40,210.15 L434.40,210.11 L435.40,210.06 L436.40,210.01 L437.40,209.96 L438.40,209.91 L439.40,209.85 L440.40,209.79 L441.40,209.73 L442.40,209.67 L443.40,209.60 L444.40,209.53 L445.40,209.46 L446.40,209.38 L447.40,209.30 L448.40,209.22 L449.40,209.14 L450.40,209.05 L451.40,208.96 L452.40,208.86 L453.40,208.76 L454.40,208.66 L455.40,208.56 L456.40,208.45 L457.40,208.34 L458.40,208.22 L459.40,208.10 L460.40,207.97 L461.40,207.84 L462.40,207.71 L463.40,207.58 L464.40,207.43 L465.40,207.29 L466.00,207.20 L467.00,206.93 L468.00,206.66 L469.00,206.39 L470.00,206.12 L471.00,205.85 L472.00,205.58 L473.00,205.31 L474.00,205.04 L475.00,204.77 L476.00,204.50 L477.00,204.23 L478.00,203.96 L479.00,203.69 L480.00,203.42 L481.00,203.14 L482.00,202.87 L483.00,202.60 L484.00,202.33 L485.00,202.06 L486.00,201.79 L487.00,201.52 L488.00,201.24 L489.00,200.97 L490.00,200.70 L491.00,200.43 L492.00,200.16 L493.00,199.89 L494.00,199.62 L495.00,199.34 L496.00,199.07 L497.00,198.80 L498.00,198.53 L499.00,198.26 L500.00,197.99 L501.00,197.72 L502.00,197.45 L503.00,197.18 L504.00,196.91 L505.00,196.63 L506.00,196.36 L507.00,196.09 L508.00,195.82 L509.00,195.55 L510.00,195.29 L511.00,195.02 L512.00,194.75 L513.00,194.48 L514.00,194.21 L515.00,193.94 L516.00,193.67 L517.00,193.40 L518.00,193.14 L519.00,192.87 L520.00,192.60 L521.00,192.33 L522.00,192.07 L523.00,191.80 L524.00,191.53 L525.00,191.27 L526.00,191.00 L527.00,190.74 L528.00,190.47 L529.00,190.21 L530.00,189.94 L531.00,189.68 L532.00,189.42 L533.00,189.15 L534.00,188.89 L535.00,188.63 L536.00,188.37 L537.00,188.10 L538.00,187.84 L539.00,187.58 L540.00,187.32 L541.00,187.06 L542.00,186.80 L543.00,186.54 L544.00,186.28 L545.00,186.03 L546.00,185.77 L547.00,185.51 L548.00,185.26 L549.00,185.00 L550.00,184.74 L551.00,184.49 L552.00,184.24 L553.00,183.98 L554.00,183.73 L555.00,183.48 L556.00,183.22 L557.00,182.97 L558.00,182.72 L559.00,182.47 L560.00,182.22 L561.00,181.97 L562.00,181.72 L563.00,181.48 L564.00,181.23 L565.00,180.98 L566.00,180.74 L567.00,180.49 L568.00,180.25 L569.00,180.00 L570.00,179.76 L571.00,179.52 L572.00,179.28 L573.00,179.04 L574.00,178.80 L575.00,178.56 L576.00,178.32 L577.00,178.08 L578.00,177.84 L579.00,177.61 L580.00,177.37 L581.00,177.14 L582.00,176.90 L583.00,176.67 L584.00,176.44 L585.00,176.21 L586.00,175.98 L587.00,175.75 L588.00,175.52 L589.00,175.29 L590.00,175.06 L591.00,174.84 L592.00,174.61 L593.00,174.39 L594.00,174.16 L595.00,173.94 L596.00,173.72 L597.00,173.50 L598.00,173.28 L599.00,173.06 L600.00,172.84 L601.00,172.62 L602.00,172.41 L603.00,172.19 L604.00,171.98 L605.00,171.77 L606.00,171.55 L607.00,171.34 L608.00,171.13 L609.00,170.92 L610.00,170.72 L611.00,170.51 L612.00,170.30 L613.00,170.10 L614.00,169.90 L615.00,169.69 L616.00,169.49 L617.00,169.29 L618.00,169.09 L619.00,168.90 L620.00,168.70 L621.00,168.50 L622.00,168.31 L623.00,168.12 L624.00,167.92 L625.00,167.73 L626.00,167.54 L627.00,167.35 L628.00,167.17 L629.00,166.98 L630.00,166.80 L631.00,166.61 L632.00,166.43 L633.00,166.25 L634.00,166.07 L635.00,165.89 L636.00,165.71 L637.00,165.54 L638.00,165.36 L639.00,165.19 L640.00,165.02 L641.00,164.85 L642.00,164.68 L643.00,164.51 L644.00,164.34 L645.00,164.18 L646.00,164.01 L647.00,163.85 L648.00,163.69 L649.00,163.53 L650.00,163.37 L651.00,163.21 L652.00,163.06 L653.00,162.90 L654.00,162.75 L655.00,162.60 L656.00,162.45 L657.00,162.30 L658.00,162.15 L659.00,162.01 L660.00,161.86 L661.00,161.72 L662.00,161.58 L663.00,161.44 L663.30,161.40" fill="none" stroke="#eb9a7b" stroke-width="1.35" stroke-linecap="round" stroke-linejoin="round"/>
<path d="M426.80,189.49 L427.80,189.59 L428.80,189.67 L429.80,189.74 L430.80,189.80 L431.80,189.85 L432.80,189.88 L433.80,189.91 L434.80,189.92 L435.80,189.92 L436.80,189.91 L437.80,189.90 L438.80,189.87 L439.80,189.83 L440.80,189.78 L441.80,189.73 L442.80,189.66 L443.80,189.58 L444.80,189.50 L445.80,189.40 L446.80,189.30 L447.80,189.19 L448.80,189.07 L449.80,188.94 L450.80,188.81 L451.80,188.67 L452.80,188.52 L453.80,188.36 L454.80,188.20 L455.80,188.02 L456.80,187.85 L457.80,187.66 L458.80,187.47 L459.80,187.28 L460.80,187.07 L461.80,186.86 L462.80,186.65 L463.80,186.43 L464.80,186.21 L465.80,185.98 L466.80,185.74 L467.80,185.51 L468.80,185.26 L469.80,185.02 L470.80,184.76 L471.80,184.51 L472.80,184.25 L473.80,183.99 L474.80,183.72 L475.80,183.46 L476.80,183.18 L477.80,182.91 L478.80,182.63 L479.80,182.35 L480.80,182.07 L481.80,181.79 L482.80,181.50 L483.80,181.21 L484.80,180.92 L485.80,180.63 L486.80,180.34 L487.80,180.04 L488.80,179.75 L489.80,179.45 L490.80,179.15 L491.80,178.85 L492.80,178.56 L493.80,178.26 L494.80,177.96 L495.80,177.66 L496.80,177.35 L497.80,177.05 L498.80,176.75 L499.80,176.45 L500.80,176.15 L501.80,175.85 L502.80,175.55 L503.80,175.24 L504.80,174.94 L505.80,174.63 L506.80,174.33 L507.80,174.02 L508.80,173.72 L509.80,173.41 L510.80,173.10 L511.80,172.79 L512.80,172.48 L513.80,172.17 L514.80,171.86 L515.80,171.55 L516.80,171.23 L517.80,170.92 L518.80,170.60 L519.80,170.28 L520.80,169.96 L521.80,169.64 L522.80,169.32 L523.80,169.00 L524.80,168.67 L525.80,168.35 L526.80,168.02 L527.80,167.70 L528.80,167.37 L529.80,167.04 L530.80,166.72 L531.80,166.39 L532.80,166.06 L533.80,165.73 L534.80,165.40 L535.80,165.07 L536.80,164.75 L537.80,164.42 L538.80,164.09 L539.80,163.76 L540.80,163.43 L541.80,163.10 L542.80,162.78 L543.80,162.45 L544.80,162.12 L545.80,161.80 L546.80,161.47 L547.80,161.15 L548.80,160.83 L549.80,160.51 L550.80,160.18 L551.80,159.86 L552.80,159.55 L553.80,159.23 L554.80,158.91 L555.80,158.60 L556.80,158.28 L557.80,157.97 L558.80,157.66 L559.80,157.35 L560.80,157.05 L561.80,156.74 L562.80,156.44 L563.80,156.14 L564.80,155.84 L565.80,155.54 L566.80,155.25 L567.80,154.95 L568.80,154.66 L569.80,154.37 L570.80,154.09 L571.80,153.80 L572.80,153.52 L573.80,153.24 L574.80,152.96 L575.80,152.68 L576.80,152.40 L577.80,152.13 L578.80,151.86 L579.80,151.59 L580.80,151.32 L581.80,151.05 L582.80,150.78 L583.80,150.52 L584.80,150.25 L585.80,149.99 L586.80,149.73 L587.80,149.47 L588.80,149.22 L589.80,148.96 L590.80,148.71 L591.80,148.45 L592.80,148.20 L593.80,147.95 L594.80,147.70 L595.80,147.45 L596.80,147.20 L597.80,146.96 L598.80,146.71 L599.80,146.47 L600.80,146.23 L601.80,145.98 L602.80,145.74 L603.80,145.50 L604.80,145.26 L605.80,145.02 L606.80,144.79 L607.80,144.55 L608.80,144.31 L609.80,144.08 L610.80,143.85 L611.80,143.61 L612.80,143.38 L613.80,143.15 L614.80,142.92 L615.80,142.68 L616.80,142.45 L617.80,142.22 L618.80,141.99 L619.80,141.77 L620.80,141.54 L621.80,141.31 L622.80,141.08 L623.80,140.85 L624.80,140.63 L625.80,140.40 L626.80,140.17 L627.80,139.95 L628.80,139.72 L629.80,139.50 L630.80,139.27 L631.80,139.04 L632.80,138.82 L633.80,138.59 L634.80,138.37 L635.80,138.14 L636.80,137.92 L637.80,137.69 L638.80,137.46 L639.80,137.24 L640.80,137.01 L641.80,136.78 L642.80,136.56 L643.80,136.33 L644.80,136.10 L645.80,135.87 L646.80,135.65 L647.80,135.42 L648.80,135.19 L649.80,134.96 L650.80,134.73 L651.80,134.50 L652.80,134.26 L653.80,134.03 L654.80,133.80 L655.80,133.56 L656.80,133.33 L657.80,133.09 L658.80,132.86 L659.80,132.62 L660.80,132.38 L661.80,132.14 L662.80,131.90 L663.30,131.78" fill="none" stroke="#d3806f" stroke-width="1.35" stroke-linecap="round" stroke-linejoin="round"/>
<path d="M426.80,190.94 L427.80,190.99 L428.80,191.02 L429.80,191.05 L430.80,191.06 L431.80,191.07 L432.80,191.07 L433.80,191.06 L434.80,191.04 L435.80,191.01 L436.80,190.97 L437.80,190.93 L438.80,190.87 L439.80,190.81 L440.80,190.74 L441.80,190.65 L442.80,190.57 L443.80,190.47 L444.80,190.36 L445.80,190.25 L446.80,190.13 L447.80,190.00 L448.80,189.87 L449.80,189.72 L450.80,189.57 L451.80,189.41 L452.80,189.25 L453.80,189.07 L454.80,188.89 L455.80,188.71 L456.80,188.51 L457.80,188.31 L458.80,188.11 L459.80,187.89 L460.80,187.67 L461.80,187.45 L462.80,187.21 L463.80,186.97 L464.80,186.73 L465.80,186.48 L466.80,186.22 L467.80,185.96 L468.80,185.69 L469.80,185.42 L470.80,185.14 L471.80,184.86 L472.80,184.57 L473.80,184.27 L474.80,183.97 L475.80,183.67 L476.80,183.36 L477.80,183.05 L478.80,182.73 L479.80,182.40 L480.80,182.08 L481.80,181.74 L482.80,181.41 L483.80,181.07 L484.80,180.72 L485.80,180.38 L486.80,180.03 L487.80,179.67 L488.80,179.31 L489.80,178.95 L490.80,178.58 L491.80,178.21 L492.80,177.84 L493.80,177.47 L494.80,177.09 L495.80,176.71 L496.80,176.32 L497.80,175.93 L498.80,175.55 L499.80,175.15 L500.80,174.76 L501.80,174.36 L502.80,173.96 L503.80,173.56 L504.80,173.16 L505.80,172.76 L506.80,172.35 L507.80,171.94 L508.80,171.53 L509.80,171.12 L510.80,170.71 L511.80,170.29 L512.80,169.88 L513.80,169.46 L514.80,169.05 L515.80,168.63 L516.80,168.21 L517.80,167.79 L518.80,167.37 L519.80,166.95 L520.80,166.53 L521.80,166.11 L522.80,165.69 L523.80,165.26 L524.80,164.84 L525.80,164.42 L526.80,164.00 L527.80,163.57 L528.80,163.15 L529.80,162.73 L530.80,162.31 L531.80,161.88 L532.80,161.46 L533.80,161.04 L534.80,160.61 L535.80,160.19 L536.80,159.77 L537.80,159.34 L538.80,158.92 L539.80,158.50 L540.80,158.08 L541.80,157.66 L542.80,157.24 L543.80,156.82 L544.80,156.39 L545.80,155.98 L546.80,155.56 L547.80,155.14 L548.80,154.72 L549.80,154.30 L550.80,153.88 L551.80,153.47 L552.80,153.05 L553.80,152.64 L554.80,152.22 L555.80,151.81 L556.80,151.40 L557.80,150.99 L558.80,150.58 L559.80,150.17 L560.80,149.76 L561.80,149.35 L562.80,148.95 L563.80,148.54 L564.80,148.14 L565.80,147.74 L566.80,147.34 L567.80,146.94 L568.80,146.54 L569.80,146.14 L570.80,145.75 L571.80,145.35 L572.80,144.96 L573.80,144.57 L574.80,144.18 L575.80,143.79 L576.80,143.40 L577.80,143.02 L578.80,142.64 L579.80,142.26 L580.80,141.88 L581.80,141.50 L582.80,141.12 L583.80,140.75 L584.80,140.38 L585.80,140.01 L586.80,139.64 L587.80,139.27 L588.80,138.91 L589.80,138.55 L590.80,138.19 L591.80,137.83 L592.80,137.48 L593.80,137.12 L594.80,136.77 L595.80,136.42 L596.80,136.08 L597.80,135.73 L598.80,135.39 L599.80,135.05 L600.80,134.72 L601.80,134.39 L602.80,134.05 L603.80,133.73 L604.80,133.40 L605.80,133.08 L606.80,132.76 L607.80,132.44 L608.80,132.13 L609.80,131.82 L610.80,131.51 L611.80,131.20 L612.80,130.90 L613.80,130.60 L614.80,130.30 L615.80,130.01 L616.80,129.72 L617.80,129.43 L618.80,129.15 L619.80,128.87 L620.80,128.59 L621.80,128.31 L622.80,128.04 L623.80,127.77 L624.80,127.51 L625.80,127.25 L626.80,126.99 L627.80,126.73 L628.80,126.47 L629.80,126.22 L630.80,125.97 L631.80,125.72 L632.80,125.47 L633.80,125.23 L634.80,124.99 L635.80,124.74 L636.80,124.50 L637.80,124.26 L638.80,124.03 L639.80,123.79 L640.80,123.56 L641.80,123.32 L642.80,123.09 L643.80,122.86 L644.80,122.62 L645.80,122.39 L646.80,122.16 L647.80,121.93 L648.80,121.70 L649.80,121.47 L650.80,121.24 L651.80,121.01 L652.80,120.78 L653.80,120.54 L654.80,120.31 L655.80,120.08 L656.80,119.85 L657.80,119.61 L658.80,119.38 L659.80,119.14 L660.80,118.90 L661.80,118.66 L662.80,118.42 L663.30,118.30" fill="none" stroke="#c24b3d" stroke-width="1.4" stroke-linecap="round" stroke-linejoin="round"/>
<path d="M426.40,143.90 L427.40,143.81 L428.40,143.72 L429.40,143.61 L430.40,143.49 L431.40,143.36 L432.40,143.22 L433.40,143.08 L434.40,142.92 L435.40,142.76 L436.40,142.59 L437.40,142.42 L438.40,142.24 L439.40,142.05 L440.40,141.86 L441.40,141.67 L442.40,141.47 L443.40,141.27 L444.40,141.07 L445.40,140.87 L446.40,140.67 L447.40,140.46 L448.40,140.26 L449.40,140.06 L450.40,139.86 L451.40,139.66 L452.40,139.47 L453.40,139.28 L454.40,139.09 L455.40,138.91 L456.40,138.73 L457.40,138.56 L458.40,138.39 L459.40,138.24 L460.30,138.10 L461.30,137.72 L462.30,137.33 L463.30,136.94 L464.30,136.54 L465.30,136.13 L466.30,135.72 L467.30,135.30 L468.30,134.87 L469.30,134.44 L470.30,134.00 L471.30,133.55 L472.30,133.10 L473.30,132.64 L474.30,132.18 L475.30,131.71 L476.30,131.24 L477.30,130.76 L478.30,130.28 L479.30,129.79 L480.30,129.29 L481.30,128.79 L482.30,128.29 L483.30,127.78 L484.30,127.27 L485.30,126.75 L486.30,126.23 L487.30,125.70 L488.30,125.17 L489.30,124.64 L490.30,124.10 L491.30,123.56 L492.30,123.01 L493.30,122.47 L494.30,121.91 L495.30,121.36 L496.30,120.80 L497.30,120.24 L498.30,119.67 L499.30,119.11 L500.30,118.54 L501.30,117.97 L502.30,117.39 L503.30,116.81 L504.30,116.23 L505.30,115.65 L506.30,115.07 L507.30,114.48 L508.30,113.89 L509.30,113.30 L510.30,112.71 L511.30,112.11 L512.30,111.51 L513.30,110.92 L514.30,110.31 L515.30,109.71 L516.30,109.11 L517.30,108.50 L518.30,107.90 L519.30,107.29 L520.30,106.68 L521.30,106.07 L522.30,105.46 L523.30,104.85 L524.30,104.23 L525.30,103.62 L526.30,103.00 L527.30,102.39 L528.30,101.77 L529.30,101.16 L530.30,100.54 L531.30,99.92 L532.30,99.30 L533.30,98.68 L534.30,98.07 L535.30,97.45 L536.30,96.83 L537.30,96.21 L538.30,95.59 L539.30,94.97 L540.30,94.35 L541.30,93.74 L542.30,93.12 L543.30,92.50 L544.30,91.88 L545.30,91.27 L546.30,90.65 L547.30,90.04 L548.30,89.42 L549.30,88.81 L550.30,88.20 L551.30,87.59 L552.30,86.98 L553.30,86.37 L554.30,85.76 L555.30,85.16 L556.30,84.55 L557.30,83.95 L558.30,83.35 L559.30,82.75 L560.30,82.15 L561.30,81.56 L562.30,80.96 L563.30,80.37 L564.30,79.78 L565.30,79.19 L566.30,78.60 L567.30,78.02 L568.30,77.44 L569.30,76.85 L570.30,76.27 L571.30,75.70 L572.30,75.12 L573.30,74.55 L574.30,73.97 L575.30,73.40 L576.30,72.83 L577.30,72.26 L578.30,71.70 L579.30,71.13 L580.30,70.57 L581.30,70.01 L582.30,69.45 L583.30,68.89 L584.30,68.34 L585.30,67.79 L586.30,67.23 L587.30,66.68 L588.30,66.13 L589.30,65.59 L590.30,65.04 L591.30,64.50 L592.30,63.96 L593.30,63.42 L594.30,62.88 L595.30,62.34 L596.30,61.80 L597.30,61.27 L598.30,60.74 L599.30,60.21 L600.30,59.68 L601.30,59.15 L602.30,58.63 L603.30,58.10 L604.30,57.58 L605.30,57.06 L606.30,56.54 L607.30,56.03 L608.30,55.51 L609.30,55.00 L610.30,54.49 L611.30,53.97 L612.30,53.47 L613.30,52.96 L614.30,52.45 L615.30,51.95 L616.30,51.45 L617.30,50.95 L618.30,50.45 L619.30,49.95 L620.30,49.45 L621.30,48.96 L622.30,48.47 L623.30,47.97 L624.30,47.48 L625.30,47.00 L626.30,46.51 L627.30,46.03 L628.30,45.54 L629.30,45.06 L630.30,44.58 L631.30,44.10 L632.30,43.62 L633.30,43.15 L634.30,42.67 L635.30,42.20 L636.30,41.73 L637.30,41.26 L638.30,40.79 L639.30,40.33 L640.30,39.86 L641.30,39.40 L642.30,38.94 L643.30,38.48 L644.30,38.02 L645.30,37.56 L646.30,37.11 L647.30,36.65 L648.30,36.20 L649.30,35.75 L650.30,35.30 L651.30,34.85 L652.30,34.40 L653.30,33.96 L654.30,33.51 L655.30,33.07 L656.30,32.63 L657.30,32.19 L658.30,31.75 L659.30,31.32 L660.30,30.88 L661.30,30.45 L662.30,30.02 L662.80,29.80" fill="none" stroke="#b8382e" stroke-width="1.45" stroke-linecap="round" stroke-linejoin="round"/>
<text x="638.60" y="53.80" font-size="15" text-anchor="start" fill="#b8382e" >0 V</text>
<text x="638.60" y="117.00" font-size="15" text-anchor="start" fill="#c24b3d" >2 V</text>
<text x="638.60" y="148.50" font-size="15" text-anchor="start" fill="#d3806f" >4 V</text>
<text x="638.60" y="180.60" font-size="15" text-anchor="start" fill="#eb9a7b" >5 V</text>
<text x="638.60" y="219.30" font-size="15" text-anchor="start" fill="#efadb2" >6 V</text>
<line x1="50.35" y1="351.30" x2="324.55" y2="351.30" stroke="#121212" stroke-width="1.55"/>
<line x1="50.35" y1="623.90" x2="324.55" y2="623.90" stroke="#121212" stroke-width="1.55"/>
<line x1="51.00" y1="351.30" x2="51.00" y2="623.90" stroke="#121212" stroke-width="1.55"/>
<line x1="323.90" y1="351.30" x2="323.90" y2="623.90" stroke="#121212" stroke-width="1.55"/>
<line x1="60.69" y1="623.90" x2="60.69" y2="617.90" stroke="#121212" stroke-width="1.55"/>
<line x1="69.24" y1="623.90" x2="69.24" y2="617.90" stroke="#121212" stroke-width="1.55"/>
<line x1="127.26" y1="623.90" x2="127.26" y2="617.90" stroke="#121212" stroke-width="1.55"/>
<line x1="156.72" y1="623.90" x2="156.72" y2="617.90" stroke="#121212" stroke-width="1.55"/>
<line x1="177.62" y1="623.90" x2="177.62" y2="617.90" stroke="#121212" stroke-width="1.55"/>
<line x1="193.84" y1="623.90" x2="193.84" y2="617.90" stroke="#121212" stroke-width="1.55"/>
<line x1="207.08" y1="623.90" x2="207.08" y2="617.90" stroke="#121212" stroke-width="1.55"/>
<line x1="218.28" y1="623.90" x2="218.28" y2="617.90" stroke="#121212" stroke-width="1.55"/>
<line x1="227.99" y1="623.90" x2="227.99" y2="617.90" stroke="#121212" stroke-width="1.55"/>
<line x1="236.54" y1="623.90" x2="236.54" y2="617.90" stroke="#121212" stroke-width="1.55"/>
<line x1="294.56" y1="623.90" x2="294.56" y2="617.90" stroke="#121212" stroke-width="1.55"/>
<line x1="76.90" y1="623.90" x2="76.90" y2="611.90" stroke="#121212" stroke-width="1.55"/>
<line x1="244.20" y1="623.90" x2="244.20" y2="611.90" stroke="#121212" stroke-width="1.55"/>
<text x="76.90" y="646.50" font-size="15" text-anchor="middle" fill="#1c1c1c" >1</text>
<text x="244.45" y="646.50" font-size="15" text-anchor="middle" fill="#1c1c1c"  letter-spacing="0.5">10</text>
<text x="157.0" y="658.5" font-size="15" fill="#1c1c1c">T/T<tspan font-size="12.5" dx="1.0" dy="-2.9">*</tspan></text>
<line x1="51.00" y1="375.90" x2="62.00" y2="375.90" stroke="#121212" stroke-width="1.55"/>
<line x1="51.00" y1="437.90" x2="62.00" y2="437.90" stroke="#121212" stroke-width="1.55"/>
<line x1="51.00" y1="499.90" x2="62.00" y2="499.90" stroke="#121212" stroke-width="1.55"/>
<line x1="51.00" y1="561.90" x2="62.00" y2="561.90" stroke="#121212" stroke-width="1.55"/>
<line x1="51.00" y1="623.90" x2="62.00" y2="623.90" stroke="#121212" stroke-width="1.55"/>
<line x1="51.00" y1="406.90" x2="56.50" y2="406.90" stroke="#121212" stroke-width="1.55"/>
<line x1="51.00" y1="468.90" x2="56.50" y2="468.90" stroke="#121212" stroke-width="1.55"/>
<line x1="51.00" y1="530.90" x2="56.50" y2="530.90" stroke="#121212" stroke-width="1.55"/>
<line x1="51.00" y1="592.90" x2="56.50" y2="592.90" stroke="#121212" stroke-width="1.55"/>
<text x="39.60" y="381.00" font-size="15" text-anchor="end" fill="#1c1c1c" >0</text>
<text x="39.60" y="443.00" font-size="15" text-anchor="end" fill="#1c1c1c" >-1</text>
<text x="39.60" y="505.00" font-size="15" text-anchor="end" fill="#1c1c1c" >-2</text>
<text x="39.60" y="567.00" font-size="15" text-anchor="end" fill="#1c1c1c" >-3</text>
<text x="39.60" y="629.00" font-size="15" text-anchor="end" fill="#1c1c1c" >-4</text>
<text x="295.80" y="369.20" font-size="15" text-anchor="start" fill="#1c1c1c"  letter-spacing="0.6">(c)</text>
<text transform="translate(13.10,526.22) rotate(-90)" font-size="14.5" fill="#333">(</text>
<text transform="translate(13.53,517.65) rotate(-90)" font-size="13.5" fill="#333">ρ</text>
<text transform="translate(13.99,508.85) rotate(-90)" font-size="13.5" fill="#333">−</text>
<text transform="translate(13.53,497.75) rotate(-90)" font-size="13.5" fill="#333">ρ</text>
<text transform="translate(18.47,491.02) rotate(-90)" font-size="10.5" fill="#333">o</text>
<text transform="translate(13.25,478.71) rotate(-90)" font-size="14.5" fill="#333">)</text>
<text transform="translate(12.98,473.33) rotate(-90)" font-size="13.5" fill="#333">/</text>
<text transform="translate(13.29,469.03) rotate(-90)" font-size="13.5" fill="#333">β</text>
<rect x="89.15" y="373.35" width="4.1" height="4.1" fill="#838383"/>
<rect x="90.35" y="375.45" width="4.1" height="4.1" fill="#838383"/>
<rect x="91.25" y="379.35" width="4.1" height="4.1" fill="#838383"/>
<rect x="93.85" y="386.35" width="4.1" height="4.1" fill="#838383"/>
<rect x="91.20" y="398.50" width="4.2" height="4.2" fill="#858585"/>
<rect x="102.65" y="410.85" width="4.1" height="4.1" fill="#838383"/>
<rect x="112.81" y="421.59" width="4.1" height="4.1" fill="#838383"/>
<rect x="121.72" y="432.67" width="4.1" height="4.1" fill="#838383"/>
<rect x="129.66" y="441.01" width="4.1" height="4.1" fill="#838383"/>
<rect x="136.81" y="448.76" width="4.1" height="4.1" fill="#838383"/>
<rect x="143.32" y="455.90" width="4.1" height="4.1" fill="#838383"/>
<rect x="149.30" y="462.30" width="4.1" height="4.1" fill="#838383"/>
<rect x="154.82" y="467.99" width="4.1" height="4.1" fill="#838383"/>
<rect x="159.95" y="474.04" width="4.1" height="4.1" fill="#838383"/>
<rect x="164.75" y="479.24" width="4.1" height="4.1" fill="#838383"/>
<rect x="169.24" y="483.02" width="4.1" height="4.1" fill="#838383"/>
<rect x="173.48" y="488.36" width="4.1" height="4.1" fill="#838383"/>
<rect x="177.48" y="491.51" width="4.1" height="4.1" fill="#838383"/>
<rect x="181.27" y="494.32" width="4.1" height="4.1" fill="#838383"/>
<rect x="184.87" y="497.89" width="4.1" height="4.1" fill="#838383"/>
<rect x="188.31" y="502.38" width="4.1" height="4.1" fill="#838383"/>
<rect x="191.59" y="506.34" width="4.1" height="4.1" fill="#838383"/>
<rect x="194.72" y="509.58" width="4.1" height="4.1" fill="#838383"/>
<rect x="197.73" y="511.51" width="4.1" height="4.1" fill="#838383"/>
<rect x="200.62" y="513.36" width="4.1" height="4.1" fill="#838383"/>
<rect x="203.40" y="516.25" width="4.1" height="4.1" fill="#838383"/>
<rect x="206.07" y="519.12" width="4.1" height="4.1" fill="#838383"/>
<rect x="208.65" y="522.81" width="4.1" height="4.1" fill="#838383"/>
<rect x="211.14" y="526.37" width="4.1" height="4.1" fill="#838383"/>
<rect x="213.55" y="529.50" width="4.1" height="4.1" fill="#838383"/>
<rect x="215.88" y="531.63" width="4.1" height="4.1" fill="#838383"/>
<rect x="218.14" y="533.70" width="4.1" height="4.1" fill="#838383"/>
<rect x="220.33" y="535.70" width="4.1" height="4.1" fill="#838383"/>
<rect x="222.46" y="537.65" width="4.1" height="4.1" fill="#838383"/>
<rect x="224.53" y="539.54" width="4.1" height="4.1" fill="#838383"/>
<rect x="226.53" y="541.38" width="4.1" height="4.1" fill="#838383"/>
<rect x="228.49" y="543.17" width="4.1" height="4.1" fill="#838383"/>
<rect x="230.39" y="544.91" width="4.1" height="4.1" fill="#838383"/>
<rect x="232.25" y="546.47" width="4.1" height="4.1" fill="#838383"/>
<rect x="234.06" y="547.99" width="4.1" height="4.1" fill="#838383"/>
<rect x="235.82" y="549.47" width="4.1" height="4.1" fill="#838383"/>
<rect x="237.55" y="550.91" width="4.1" height="4.1" fill="#838383"/>
<rect x="239.23" y="552.32" width="4.1" height="4.1" fill="#838383"/>
<rect x="240.88" y="553.70" width="4.1" height="4.1" fill="#838383"/>
<rect x="242.48" y="555.05" width="4.1" height="4.1" fill="#838383"/>
<rect x="244.06" y="556.37" width="4.1" height="4.1" fill="#838383"/>
<rect x="245.60" y="557.66" width="4.1" height="4.1" fill="#838383"/>
<rect x="247.11" y="558.60" width="4.1" height="4.1" fill="#838383"/>
<rect x="248.59" y="559.43" width="4.1" height="4.1" fill="#838383"/>
<rect x="250.03" y="560.24" width="4.1" height="4.1" fill="#838383"/>
<rect x="251.45" y="561.04" width="4.1" height="4.1" fill="#838383"/>
<rect x="252.85" y="561.82" width="4.1" height="4.1" fill="#838383"/>
<rect x="254.21" y="562.59" width="4.1" height="4.1" fill="#838383"/>
<rect x="255.55" y="563.34" width="4.1" height="4.1" fill="#838383"/>
<rect x="256.87" y="564.08" width="4.1" height="4.1" fill="#838383"/>
<rect x="258.17" y="564.80" width="4.1" height="4.1" fill="#838383"/>
<rect x="259.44" y="565.36" width="4.1" height="4.1" fill="#838383"/>
<rect x="260.69" y="565.90" width="4.1" height="4.1" fill="#838383"/>
<rect x="261.91" y="566.43" width="4.1" height="4.1" fill="#838383"/>
<rect x="263.12" y="566.95" width="4.1" height="4.1" fill="#838383"/>
<rect x="264.31" y="567.47" width="4.1" height="4.1" fill="#838383"/>
<rect x="265.48" y="567.97" width="4.1" height="4.1" fill="#838383"/>
<rect x="266.63" y="568.47" width="4.1" height="4.1" fill="#838383"/>
<rect x="267.76" y="568.95" width="4.1" height="4.1" fill="#838383"/>
<rect x="268.88" y="569.23" width="4.1" height="4.1" fill="#838383"/>
<rect x="269.97" y="569.50" width="4.1" height="4.1" fill="#838383"/>
<rect x="271.06" y="569.77" width="4.1" height="4.1" fill="#838383"/>
<rect x="272.12" y="570.03" width="4.1" height="4.1" fill="#838383"/>
<rect x="273.17" y="570.29" width="4.1" height="4.1" fill="#838383"/>
<rect x="274.21" y="570.55" width="4.1" height="4.1" fill="#838383"/>
<rect x="275.23" y="570.80" width="4.1" height="4.1" fill="#838383"/>
<rect x="276.24" y="571.05" width="4.1" height="4.1" fill="#838383"/>
<rect x="277.23" y="571.30" width="4.1" height="4.1" fill="#838383"/>
<rect x="278.21" y="571.54" width="4.1" height="4.1" fill="#838383"/>
<rect x="279.18" y="571.88" width="4.1" height="4.1" fill="#838383"/>
<rect x="280.13" y="572.29" width="4.1" height="4.1" fill="#838383"/>
<rect x="281.07" y="572.70" width="4.1" height="4.1" fill="#838383"/>
<rect x="282.00" y="573.11" width="4.1" height="4.1" fill="#838383"/>
<rect x="282.92" y="573.51" width="4.1" height="4.1" fill="#838383"/>
<rect x="283.82" y="573.90" width="4.1" height="4.1" fill="#838383"/>
<rect x="284.72" y="574.29" width="4.1" height="4.1" fill="#838383"/>
<rect x="285.60" y="574.68" width="4.1" height="4.1" fill="#838383"/>
<rect x="286.48" y="575.06" width="4.1" height="4.1" fill="#838383"/>
<rect x="287.34" y="575.43" width="4.1" height="4.1" fill="#838383"/>
<rect x="288.19" y="575.80" width="4.1" height="4.1" fill="#838383"/>
<rect x="289.04" y="576.17" width="4.1" height="4.1" fill="#838383"/>
<rect x="289.87" y="576.56" width="4.1" height="4.1" fill="#838383"/>
<rect x="290.70" y="576.98" width="4.1" height="4.1" fill="#838383"/>
<rect x="291.51" y="577.39" width="4.1" height="4.1" fill="#838383"/>
<rect x="292.32" y="577.80" width="4.1" height="4.1" fill="#838383"/>
<rect x="293.11" y="578.20" width="4.1" height="4.1" fill="#838383"/>
<rect x="293.90" y="578.60" width="4.1" height="4.1" fill="#838383"/>
<rect x="294.68" y="578.99" width="4.1" height="4.1" fill="#838383"/>
<rect x="295.45" y="579.38" width="4.1" height="4.1" fill="#838383"/>
<rect x="296.22" y="579.77" width="4.1" height="4.1" fill="#838383"/>
<rect x="296.97" y="580.15" width="4.1" height="4.1" fill="#838383"/>
<rect x="297.72" y="580.53" width="4.1" height="4.1" fill="#838383"/>
<rect x="298.46" y="580.90" width="4.1" height="4.1" fill="#838383"/>
<rect x="299.19" y="581.33" width="4.1" height="4.1" fill="#838383"/>
<rect x="299.92" y="581.85" width="4.1" height="4.1" fill="#838383"/>
<rect x="300.64" y="582.37" width="4.1" height="4.1" fill="#838383"/>
<rect x="301.35" y="582.88" width="4.1" height="4.1" fill="#838383"/>
<rect x="302.05" y="583.39" width="4.1" height="4.1" fill="#838383"/>
<rect x="302.75" y="583.89" width="4.1" height="4.1" fill="#838383"/>
<rect x="303.44" y="584.39" width="4.1" height="4.1" fill="#838383"/>
<rect x="304.12" y="584.88" width="4.1" height="4.1" fill="#838383"/>
<rect x="304.80" y="585.37" width="4.1" height="4.1" fill="#838383"/>
<rect x="305.47" y="585.86" width="4.1" height="4.1" fill="#838383"/>
<rect x="306.14" y="586.34" width="4.1" height="4.1" fill="#838383"/>
<rect x="306.80" y="586.82" width="4.1" height="4.1" fill="#838383"/>
<rect x="307.45" y="587.29" width="4.1" height="4.1" fill="#838383"/>
<rect x="308.10" y="587.75" width="4.1" height="4.1" fill="#838383"/>
<rect x="308.74" y="588.22" width="4.1" height="4.1" fill="#838383"/>
<rect x="309.38" y="588.68" width="4.1" height="4.1" fill="#838383"/>
<rect x="310.01" y="589.13" width="4.1" height="4.1" fill="#838383"/>
<circle cx="77.50" cy="381.00" r="2.05" fill="#27418f"/>
<circle cx="86.95" cy="387.95" r="2.05" fill="#27418f"/>
<circle cx="95.31" cy="393.87" r="2.05" fill="#27418f"/>
<circle cx="102.80" cy="400.10" r="2.05" fill="#27418f"/>
<circle cx="109.59" cy="403.80" r="2.05" fill="#27418f"/>
<circle cx="115.81" cy="408.61" r="2.05" fill="#27418f"/>
<circle cx="121.53" cy="413.11" r="2.05" fill="#27418f"/>
<circle cx="126.84" cy="417.21" r="2.05" fill="#27418f"/>
<circle cx="131.78" cy="421.12" r="2.05" fill="#27418f"/>
<circle cx="136.41" cy="423.50" r="2.05" fill="#27418f"/>
<circle cx="140.76" cy="425.87" r="2.05" fill="#27418f"/>
<circle cx="144.87" cy="428.38" r="2.05" fill="#27418f"/>
<circle cx="148.75" cy="430.75" r="2.05" fill="#27418f"/>
<circle cx="152.44" cy="433.95" r="2.05" fill="#27418f"/>
<circle cx="155.95" cy="436.17" r="2.05" fill="#27418f"/>
<circle cx="159.30" cy="438.56" r="2.05" fill="#27418f"/>
<circle cx="162.50" cy="440.86" r="2.05" fill="#27418f"/>
<circle cx="165.57" cy="443.83" r="2.05" fill="#27418f"/>
<circle cx="168.51" cy="447.00" r="2.05" fill="#27418f"/>
<circle cx="171.33" cy="450.05" r="2.05" fill="#27418f"/>
<circle cx="174.06" cy="452.98" r="2.05" fill="#27418f"/>
<circle cx="176.68" cy="455.30" r="2.05" fill="#27418f"/>
<circle cx="179.21" cy="457.25" r="2.05" fill="#27418f"/>
<circle cx="181.66" cy="459.14" r="2.05" fill="#27418f"/>
<circle cx="184.02" cy="460.97" r="2.05" fill="#27418f"/>
<circle cx="186.32" cy="462.76" r="2.05" fill="#27418f"/>
<circle cx="188.54" cy="464.61" r="2.05" fill="#27418f"/>
<circle cx="190.69" cy="466.40" r="2.05" fill="#27418f"/>
<circle cx="192.79" cy="468.13" r="2.05" fill="#27418f"/>
<circle cx="194.82" cy="469.82" r="2.05" fill="#27418f"/>
<circle cx="196.80" cy="471.51" r="2.05" fill="#27418f"/>
<circle cx="198.73" cy="473.23" r="2.05" fill="#27418f"/>
<circle cx="200.61" cy="474.90" r="2.05" fill="#27418f"/>
<circle cx="202.44" cy="476.52" r="2.05" fill="#27418f"/>
<circle cx="204.22" cy="478.11" r="2.05" fill="#27418f"/>
<circle cx="205.97" cy="479.93" r="2.05" fill="#27418f"/>
<circle cx="207.67" cy="481.92" r="2.05" fill="#27418f"/>
<circle cx="209.33" cy="483.87" r="2.05" fill="#27418f"/>
<circle cx="210.96" cy="485.78" r="2.05" fill="#27418f"/>
<circle cx="212.55" cy="487.61" r="2.05" fill="#27418f"/>
<circle cx="214.10" cy="489.36" r="2.05" fill="#27418f"/>
<circle cx="215.62" cy="491.08" r="2.05" fill="#27418f"/>
<circle cx="217.12" cy="492.76" r="2.05" fill="#27418f"/>
<circle cx="218.58" cy="494.40" r="2.05" fill="#27418f"/>
<circle cx="220.01" cy="496.01" r="2.05" fill="#27418f"/>
<circle cx="221.42" cy="497.55" r="2.05" fill="#27418f"/>
<circle cx="222.80" cy="499.06" r="2.05" fill="#27418f"/>
<circle cx="224.15" cy="500.54" r="2.05" fill="#27418f"/>
<circle cx="225.48" cy="501.99" r="2.05" fill="#27418f"/>
<circle cx="226.78" cy="503.42" r="2.05" fill="#27418f"/>
<circle cx="228.06" cy="504.82" r="2.05" fill="#27418f"/>
<circle cx="229.32" cy="506.20" r="2.05" fill="#27418f"/>
<circle cx="230.56" cy="507.55" r="2.05" fill="#27418f"/>
<circle cx="231.78" cy="508.88" r="2.05" fill="#27418f"/>
<circle cx="232.97" cy="510.19" r="2.05" fill="#27418f"/>
<circle cx="234.15" cy="511.48" r="2.05" fill="#27418f"/>
<circle cx="235.31" cy="512.74" r="2.05" fill="#27418f"/>
<circle cx="236.45" cy="513.84" r="2.05" fill="#27418f"/>
<circle cx="237.57" cy="514.68" r="2.05" fill="#27418f"/>
<circle cx="238.68" cy="515.51" r="2.05" fill="#27418f"/>
<circle cx="239.77" cy="516.33" r="2.05" fill="#27418f"/>
<circle cx="240.84" cy="517.13" r="2.05" fill="#27418f"/>
<circle cx="241.90" cy="517.92" r="2.05" fill="#27418f"/>
<circle cx="242.94" cy="518.71" r="2.05" fill="#27418f"/>
<circle cx="243.97" cy="519.48" r="2.05" fill="#27418f"/>
<circle cx="244.98" cy="520.24" r="2.05" fill="#27418f"/>
<circle cx="245.98" cy="520.99" r="2.05" fill="#27418f"/>
<circle cx="246.97" cy="521.73" r="2.05" fill="#27418f"/>
<circle cx="247.94" cy="522.46" r="2.05" fill="#27418f"/>
<circle cx="248.90" cy="523.18" r="2.05" fill="#27418f"/>
<circle cx="249.85" cy="523.89" r="2.05" fill="#27418f"/>
<circle cx="250.78" cy="524.65" r="2.05" fill="#27418f"/>
<circle cx="251.71" cy="525.42" r="2.05" fill="#27418f"/>
<circle cx="252.62" cy="526.18" r="2.05" fill="#27418f"/>
<circle cx="253.52" cy="526.93" r="2.05" fill="#27418f"/>
<circle cx="254.41" cy="527.67" r="2.05" fill="#27418f"/>
<circle cx="255.29" cy="528.40" r="2.05" fill="#27418f"/>
<circle cx="256.15" cy="529.13" r="2.05" fill="#27418f"/>
<circle cx="257.01" cy="529.84" r="2.05" fill="#27418f"/>
<circle cx="257.86" cy="530.55" r="2.05" fill="#27418f"/>
<circle cx="258.70" cy="531.25" r="2.05" fill="#27418f"/>
<circle cx="259.53" cy="531.94" r="2.05" fill="#27418f"/>
<circle cx="260.34" cy="532.62" r="2.05" fill="#27418f"/>
<circle cx="261.15" cy="533.30" r="2.05" fill="#27418f"/>
<circle cx="261.96" cy="533.96" r="2.05" fill="#27418f"/>
<circle cx="262.75" cy="534.75" r="2.05" fill="#27418f"/>
<circle cx="263.53" cy="535.53" r="2.05" fill="#27418f"/>
<circle cx="264.31" cy="536.31" r="2.05" fill="#27418f"/>
<circle cx="265.07" cy="537.07" r="2.05" fill="#27418f"/>
<circle cx="265.83" cy="537.83" r="2.05" fill="#27418f"/>
<circle cx="266.59" cy="538.59" r="2.05" fill="#27418f"/>
<circle cx="267.33" cy="539.33" r="2.05" fill="#27418f"/>
<circle cx="268.07" cy="540.07" r="2.05" fill="#27418f"/>
<circle cx="268.79" cy="540.79" r="2.05" fill="#27418f"/>
<circle cx="269.52" cy="541.52" r="2.05" fill="#27418f"/>
<path d="M86.30,381.16 L88.65,385.39 L83.95,385.39Z" fill="#ea8c22"/>
<path d="M95.86,390.64 L98.21,394.87 L93.51,394.87Z" fill="#ea8c22"/>
<path d="M104.30,398.16 L106.65,402.39 L101.95,402.39Z" fill="#ea8c22"/>
<path d="M111.87,404.06 L114.22,408.29 L109.52,408.29Z" fill="#ea8c22"/>
<path d="M118.72,410.07 L121.07,414.30 L116.37,414.30Z" fill="#ea8c22"/>
<path d="M124.98,414.31 L127.33,418.54 L122.63,418.54Z" fill="#ea8c22"/>
<path d="M130.74,418.50 L133.09,422.73 L128.39,422.73Z" fill="#ea8c22"/>
<path d="M136.08,423.74 L138.43,427.97 L133.73,427.97Z" fill="#ea8c22"/>
<path d="M141.06,429.00 L143.41,433.23 L138.71,433.23Z" fill="#ea8c22"/>
<path d="M145.71,433.95 L148.06,438.18 L143.36,438.18Z" fill="#ea8c22"/>
<path d="M150.09,437.81 L152.44,442.04 L147.74,442.04Z" fill="#ea8c22"/>
<path d="M154.21,440.34 L156.56,444.57 L151.86,444.57Z" fill="#ea8c22"/>
<path d="M158.12,442.72 L160.47,446.95 L155.77,446.95Z" fill="#ea8c22"/>
<path d="M161.82,444.99 L164.17,449.22 L159.47,449.22Z" fill="#ea8c22"/>
<path d="M165.35,447.14 L167.70,451.37 L163.00,451.37Z" fill="#ea8c22"/>
<path d="M168.71,449.24 L171.06,453.47 L166.36,453.47Z" fill="#ea8c22"/>
<path d="M171.92,451.38 L174.27,455.61 L169.57,455.61Z" fill="#ea8c22"/>
<path d="M175.00,453.43 L177.35,457.66 L172.65,457.66Z" fill="#ea8c22"/>
<path d="M177.95,455.50 L180.30,459.73 L175.60,459.73Z" fill="#ea8c22"/>
<path d="M180.79,457.71 L183.14,461.94 L178.44,461.94Z" fill="#ea8c22"/>
<path d="M183.52,459.83 L185.87,464.06 L181.17,464.06Z" fill="#ea8c22"/>
<path d="M186.15,461.89 L188.50,466.12 L183.80,466.12Z" fill="#ea8c22"/>
<path d="M188.69,464.05 L191.04,468.28 L186.34,468.28Z" fill="#ea8c22"/>
<path d="M191.15,466.14 L193.50,470.37 L188.80,470.37Z" fill="#ea8c22"/>
<path d="M193.52,468.15 L195.87,472.38 L191.17,472.38Z" fill="#ea8c22"/>
<path d="M195.82,470.11 L198.17,474.34 L193.47,474.34Z" fill="#ea8c22"/>
<path d="M198.05,472.37 L200.40,476.60 L195.70,476.60Z" fill="#ea8c22"/>
<path d="M200.21,474.59 L202.56,478.82 L197.86,478.82Z" fill="#ea8c22"/>
<path d="M202.31,476.75 L204.66,480.98 L199.96,480.98Z" fill="#ea8c22"/>
<path d="M204.35,479.37 L206.70,483.60 L202.00,483.60Z" fill="#ea8c22"/>
<path d="M206.33,482.18 L208.68,486.41 L203.98,486.41Z" fill="#ea8c22"/>
<path d="M208.26,484.92 L210.61,489.15 L205.91,489.15Z" fill="#ea8c22"/>
<path d="M210.15,487.28 L212.50,491.51 L207.80,491.51Z" fill="#ea8c22"/>
<path d="M211.98,489.40 L214.33,493.63 L209.63,493.63Z" fill="#ea8c22"/>
<path d="M213.77,491.46 L216.12,495.69 L211.42,495.69Z" fill="#ea8c22"/>
<path d="M215.51,493.48 L217.86,497.71 L213.16,497.71Z" fill="#ea8c22"/>
<path d="M217.22,495.45 L219.57,499.68 L214.87,499.68Z" fill="#ea8c22"/>
<path d="M218.89,497.33 L221.24,501.56 L216.54,501.56Z" fill="#ea8c22"/>
<path d="M220.51,499.14 L222.86,503.37 L218.16,503.37Z" fill="#ea8c22"/>
<path d="M222.11,500.91 L224.46,505.14 L219.76,505.14Z" fill="#ea8c22"/>
<path d="M223.67,502.65 L226.02,506.88 L221.32,506.88Z" fill="#ea8c22"/>
<path d="M225.19,504.34 L227.54,508.57 L222.84,508.57Z" fill="#ea8c22"/>
<path d="M226.69,506.00 L229.04,510.23 L224.34,510.23Z" fill="#ea8c22"/>
<path d="M228.15,507.54 L230.50,511.77 L225.80,511.77Z" fill="#ea8c22"/>
<path d="M229.59,509.00 L231.94,513.23 L227.24,513.23Z" fill="#ea8c22"/>
<path d="M230.99,510.44 L233.34,514.67 L228.64,514.67Z" fill="#ea8c22"/>
<path d="M232.38,511.85 L234.73,516.08 L230.03,516.08Z" fill="#ea8c22"/>
<path d="M233.73,513.24 L236.08,517.47 L231.38,517.47Z" fill="#ea8c22"/>
<path d="M235.06,514.60 L237.41,518.83 L232.71,518.83Z" fill="#ea8c22"/>
<path d="M236.37,515.90 L238.72,520.13 L234.02,520.13Z" fill="#ea8c22"/>
<path d="M237.65,517.04 L240.00,521.27 L235.30,521.27Z" fill="#ea8c22"/>
<path d="M238.91,518.17 L241.26,522.40 L236.56,522.40Z" fill="#ea8c22"/>
<path d="M240.15,519.27 L242.50,523.50 L237.80,523.50Z" fill="#ea8c22"/>
<path d="M241.37,520.35 L243.72,524.58 L239.02,524.58Z" fill="#ea8c22"/>
<path d="M242.57,521.42 L244.92,525.65 L240.22,525.65Z" fill="#ea8c22"/>
<path d="M243.75,522.47 L246.10,526.70 L241.40,526.70Z" fill="#ea8c22"/>
<path d="M244.91,523.50 L247.26,527.73 L242.56,527.73Z" fill="#ea8c22"/>
<path d="M246.05,524.51 L248.40,528.74 L243.70,528.74Z" fill="#ea8c22"/>
<path d="M247.18,525.49 L249.53,529.72 L244.83,529.72Z" fill="#ea8c22"/>
<path d="M248.28,526.46 L250.63,530.69 L245.93,530.69Z" fill="#ea8c22"/>
<path d="M249.37,527.41 L251.72,531.64 L247.02,531.64Z" fill="#ea8c22"/>
<path d="M250.45,528.29 L252.80,532.52 L248.10,532.52Z" fill="#ea8c22"/>
<path d="M251.51,529.06 L253.86,533.29 L249.16,533.29Z" fill="#ea8c22"/>
<path d="M252.55,529.83 L254.90,534.06 L250.20,534.06Z" fill="#ea8c22"/>
<path d="M253.58,530.58 L255.93,534.81 L251.23,534.81Z" fill="#ea8c22"/>
<path d="M254.60,531.32 L256.95,535.55 L252.25,535.55Z" fill="#ea8c22"/>
<path d="M255.60,532.05 L257.95,536.28 L253.25,536.28Z" fill="#ea8c22"/>
<path d="M256.58,532.68 L258.93,536.91 L254.23,536.91Z" fill="#ea8c22"/>
<path d="M257.56,533.09 L259.91,537.32 L255.21,537.32Z" fill="#ea8c22"/>
<path d="M258.52,533.49 L260.87,537.72 L256.17,537.72Z" fill="#ea8c22"/>
<path d="M259.47,533.89 L261.82,538.12 L257.12,538.12Z" fill="#ea8c22"/>
<path d="M260.40,534.28 L262.75,538.51 L258.05,538.51Z" fill="#ea8c22"/>
<path d="M261.33,534.67 L263.68,538.90 L258.98,538.90Z" fill="#ea8c22"/>
<path d="M262.24,535.05 L264.59,539.28 L259.89,539.28Z" fill="#ea8c22"/>
<path d="M263.14,535.43 L265.49,539.66 L260.79,539.66Z" fill="#ea8c22"/>
<path d="M264.03,535.80 L266.38,540.03 L261.68,540.03Z" fill="#ea8c22"/>
<path d="M264.91,536.17 L267.26,540.40 L262.56,540.40Z" fill="#ea8c22"/>
<path d="M265.78,536.53 L268.13,540.76 L263.43,540.76Z" fill="#ea8c22"/>
<path d="M266.64,536.89 L268.99,541.12 L264.29,541.12Z" fill="#ea8c22"/>
<path d="M267.49,537.25 L269.84,541.48 L265.14,541.48Z" fill="#ea8c22"/>
<path d="M268.33,537.59 L270.68,541.82 L265.98,541.82Z" fill="#ea8c22"/>
<path d="M269.15,537.93 L271.50,542.16 L266.80,542.16Z" fill="#ea8c22"/>
<path d="M269.97,538.27 L272.32,542.50 L267.62,542.50Z" fill="#ea8c22"/>
<path d="M270.79,538.60 L273.14,542.83 L268.44,542.83Z" fill="#ea8c22"/>
<path d="M271.59,538.92 L273.94,543.15 L269.24,543.15Z" fill="#ea8c22"/>
<path d="M272.38,539.25 L274.73,543.48 L270.03,543.48Z" fill="#ea8c22"/>
<path d="M273.16,539.56 L275.51,543.79 L270.81,543.79Z" fill="#ea8c22"/>
<path d="M273.94,539.88 L276.29,544.11 L271.59,544.11Z" fill="#ea8c22"/>
<path d="M274.71,540.19 L277.06,544.42 L272.36,544.42Z" fill="#ea8c22"/>
<path d="M275.47,540.50 L277.82,544.73 L273.12,544.73Z" fill="#ea8c22"/>
<path d="M276.22,540.81 L278.57,545.04 L273.87,545.04Z" fill="#ea8c22"/>
<path d="M276.97,541.11 L279.32,545.34 L274.62,545.34Z" fill="#ea8c22"/>
<path d="M277.70,541.41 L280.05,545.64 L275.35,545.64Z" fill="#ea8c22"/>
<path d="M278.43,541.71 L280.78,545.94 L276.08,545.94Z" fill="#ea8c22"/>
<path d="M279.15,542.00 L281.50,546.23 L276.80,546.23Z" fill="#ea8c22"/>
<path d="M279.87,542.46 L282.22,546.69 L277.52,546.69Z" fill="#ea8c22"/>
<path d="M280.58,542.94 L282.93,547.17 L278.23,547.17Z" fill="#ea8c22"/>
<path d="M281.28,543.43 L283.63,547.66 L278.93,547.66Z" fill="#ea8c22"/>
<path d="M281.97,543.91 L284.32,548.14 L279.62,548.14Z" fill="#ea8c22"/>
<path d="M282.66,544.38 L285.01,548.61 L280.31,548.61Z" fill="#ea8c22"/>
<path d="M283.34,544.86 L285.69,549.09 L280.99,549.09Z" fill="#ea8c22"/>
<path d="M284.02,545.32 L286.37,549.55 L281.67,549.55Z" fill="#ea8c22"/>
<path d="M284.69,545.78 L287.04,550.01 L282.34,550.01Z" fill="#ea8c22"/>
<path d="M285.35,546.24 L287.70,550.47 L283.00,550.47Z" fill="#ea8c22"/>
<path d="M286.01,546.70 L288.36,550.93 L283.66,550.93Z" fill="#ea8c22"/>
<path d="M286.66,547.15 L289.01,551.38 L284.31,551.38Z" fill="#ea8c22"/>
<path d="M287.30,547.59 L289.65,551.82 L284.95,551.82Z" fill="#ea8c22"/>
<path d="M287.94,548.03 L290.29,552.26 L285.59,552.26Z" fill="#ea8c22"/>
<path d="M288.58,548.47 L290.93,552.70 L286.23,552.70Z" fill="#ea8c22"/>
<path d="M289.20,548.91 L291.55,553.14 L286.85,553.14Z" fill="#ea8c22"/>
<path d="M289.83,549.34 L292.18,553.57 L287.48,553.57Z" fill="#ea8c22"/>
<path d="M290.44,549.77 L292.79,554.00 L288.09,554.00Z" fill="#ea8c22"/>
<path d="M291.06,550.19 L293.41,554.42 L288.71,554.42Z" fill="#ea8c22"/>
<path d="M291.66,550.61 L294.01,554.84 L289.31,554.84Z" fill="#ea8c22"/>
<path d="M292.27,551.02 L294.62,555.25 L289.92,555.25Z" fill="#ea8c22"/>
<path d="M292.86,551.44 L295.21,555.67 L290.51,555.67Z" fill="#ea8c22"/>
<path d="M81.90,381.15 L84.45,383.70 L81.90,386.25 L79.35,383.70Z" fill="#167b76"/>
<path d="M92.01,389.61 L94.56,392.16 L92.01,394.71 L89.46,392.16Z" fill="#167b76"/>
<path d="M100.89,396.88 L103.44,399.43 L100.89,401.98 L98.34,399.43Z" fill="#167b76"/>
<path d="M108.80,403.95 L111.35,406.50 L108.80,409.05 L106.25,406.50Z" fill="#167b76"/>
<path d="M115.93,410.95 L118.48,413.50 L115.93,416.05 L113.38,413.50Z" fill="#167b76"/>
<path d="M122.43,416.76 L124.98,419.31 L122.43,421.86 L119.88,419.31Z" fill="#167b76"/>
<path d="M128.39,421.19 L130.94,423.74 L128.39,426.29 L125.84,423.74Z" fill="#167b76"/>
<path d="M133.90,425.29 L136.45,427.84 L133.90,430.39 L131.35,427.84Z" fill="#167b76"/>
<path d="M139.02,429.26 L141.57,431.81 L139.02,434.36 L136.47,431.81Z" fill="#167b76"/>
<path d="M143.80,433.16 L146.35,435.71 L143.80,438.26 L141.25,435.71Z" fill="#167b76"/>
<path d="M148.29,436.95 L150.84,439.50 L148.29,442.05 L145.74,439.50Z" fill="#167b76"/>
<path d="M152.52,439.99 L155.07,442.54 L152.52,445.09 L149.97,442.54Z" fill="#167b76"/>
<path d="M156.51,442.43 L159.06,444.98 L156.51,447.53 L153.96,444.98Z" fill="#167b76"/>
<path d="M160.30,444.74 L162.85,447.29 L160.30,449.84 L157.75,447.29Z" fill="#167b76"/>
<path d="M163.89,446.94 L166.44,449.49 L163.89,452.04 L161.34,449.49Z" fill="#167b76"/>
<path d="M167.32,449.04 L169.87,451.59 L167.32,454.14 L164.77,451.59Z" fill="#167b76"/>
<path d="M170.60,451.18 L173.15,453.73 L170.60,456.28 L168.05,453.73Z" fill="#167b76"/>
<path d="M173.73,453.27 L176.28,455.82 L173.73,458.37 L171.18,455.82Z" fill="#167b76"/>
<path d="M176.73,455.27 L179.28,457.82 L176.73,460.37 L174.18,457.82Z" fill="#167b76"/>
<path d="M179.62,457.49 L182.17,460.04 L179.62,462.59 L177.07,460.04Z" fill="#167b76"/>
<path d="M182.39,459.64 L184.94,462.19 L182.39,464.74 L179.84,462.19Z" fill="#167b76"/>
<path d="M185.06,461.72 L187.61,464.27 L185.06,466.82 L182.51,464.27Z" fill="#167b76"/>
<path d="M187.64,463.80 L190.19,466.35 L187.64,468.90 L185.09,466.35Z" fill="#167b76"/>
<path d="M190.13,465.84 L192.68,468.39 L190.13,470.94 L187.58,468.39Z" fill="#167b76"/>
<path d="M192.54,467.81 L195.09,470.36 L192.54,472.91 L189.99,470.36Z" fill="#167b76"/>
<path d="M194.87,469.72 L197.42,472.27 L194.87,474.82 L192.32,472.27Z" fill="#167b76"/>
<path d="M197.12,471.60 L199.67,474.15 L197.12,476.70 L194.57,474.15Z" fill="#167b76"/>
<path d="M199.31,473.45 L201.86,476.00 L199.31,478.55 L196.76,476.00Z" fill="#167b76"/>
<path d="M201.44,475.24 L203.99,477.79 L201.44,480.34 L198.89,477.79Z" fill="#167b76"/>
<path d="M203.50,476.98 L206.05,479.53 L203.50,482.08 L200.95,479.53Z" fill="#167b76"/>
<path d="M205.51,478.77 L208.06,481.32 L205.51,483.87 L202.96,481.32Z" fill="#167b76"/>
<path d="M207.46,480.77 L210.01,483.32 L207.46,485.87 L204.91,483.32Z" fill="#167b76"/>
<path d="M209.36,482.71 L211.91,485.26 L209.36,487.81 L206.81,485.26Z" fill="#167b76"/>
<path d="M211.22,484.61 L213.77,487.16 L211.22,489.71 L208.67,487.16Z" fill="#167b76"/>
<path d="M213.03,486.45 L215.58,489.00 L213.03,491.55 L210.48,489.00Z" fill="#167b76"/>
<path d="M214.79,488.31 L217.34,490.86 L214.79,493.41 L212.24,490.86Z" fill="#167b76"/>
<path d="M216.51,490.19 L219.06,492.74 L216.51,495.29 L213.96,492.74Z" fill="#167b76"/>
<path d="M218.19,492.03 L220.74,494.58 L218.19,497.13 L215.64,494.58Z" fill="#167b76"/>
<path d="M219.84,493.82 L222.39,496.37 L219.84,498.92 L217.29,496.37Z" fill="#167b76"/>
<path d="M221.45,495.58 L224.00,498.13 L221.45,500.68 L218.90,498.13Z" fill="#167b76"/>
<path d="M223.02,497.29 L225.57,499.84 L223.02,502.39 L220.47,499.84Z" fill="#167b76"/>
<path d="M224.56,498.98 L227.11,501.53 L224.56,504.08 L222.01,501.53Z" fill="#167b76"/>
<path d="M226.07,500.62 L228.62,503.17 L226.07,505.72 L223.52,503.17Z" fill="#167b76"/>
<path d="M227.54,502.17 L230.09,504.72 L227.54,507.27 L224.99,504.72Z" fill="#167b76"/>
<path d="M228.99,503.54 L231.54,506.09 L228.99,508.64 L226.44,506.09Z" fill="#167b76"/>
<path d="M230.41,504.88 L232.96,507.43 L230.41,509.98 L227.86,507.43Z" fill="#167b76"/>
<path d="M231.80,506.19 L234.35,508.74 L231.80,511.29 L229.25,508.74Z" fill="#167b76"/>
<path d="M233.17,507.48 L235.72,510.03 L233.17,512.58 L230.62,510.03Z" fill="#167b76"/>
<path d="M234.51,508.75 L237.06,511.30 L234.51,513.85 L231.96,511.30Z" fill="#167b76"/>
<path d="M235.82,509.99 L238.37,512.54 L235.82,515.09 L233.27,512.54Z" fill="#167b76"/>
<path d="M237.12,511.17 L239.67,513.72 L237.12,516.27 L234.57,513.72Z" fill="#167b76"/>
<path d="M238.39,512.31 L240.94,514.86 L238.39,517.41 L235.84,514.86Z" fill="#167b76"/>
<path d="M239.64,513.44 L242.19,515.99 L239.64,518.54 L237.09,515.99Z" fill="#167b76"/>
<path d="M240.86,514.54 L243.41,517.09 L240.86,519.64 L238.31,517.09Z" fill="#167b76"/>
<path d="M242.07,515.63 L244.62,518.18 L242.07,520.73 L239.52,518.18Z" fill="#167b76"/>
<path d="M243.26,516.70 L245.81,519.25 L243.26,521.80 L240.71,519.25Z" fill="#167b76"/>
<path d="M244.43,517.75 L246.98,520.30 L244.43,522.85 L241.88,520.30Z" fill="#167b76"/>
<path d="M245.58,518.67 L248.13,521.22 L245.58,523.77 L243.03,521.22Z" fill="#167b76"/>
<path d="M246.71,519.31 L249.26,521.86 L246.71,524.41 L244.16,521.86Z" fill="#167b76"/>
<path d="M247.82,519.95 L250.37,522.50 L247.82,525.05 L245.27,522.50Z" fill="#167b76"/>
<path d="M248.92,520.58 L251.47,523.13 L248.92,525.68 L246.37,523.13Z" fill="#167b76"/>
<path d="M250.00,521.19 L252.55,523.74 L250.00,526.29 L247.45,523.74Z" fill="#167b76"/>
<path d="M251.07,521.80 L253.62,524.35 L251.07,526.90 L248.52,524.35Z" fill="#167b76"/>
<path d="M252.12,522.40 L254.67,524.95 L252.12,527.50 L249.57,524.95Z" fill="#167b76"/>
<path d="M253.15,522.99 L255.70,525.54 L253.15,528.09 L250.60,525.54Z" fill="#167b76"/>
<path d="M254.17,523.57 L256.72,526.12 L254.17,528.67 L251.62,526.12Z" fill="#167b76"/>
<path d="M255.18,524.13 L257.73,526.68 L255.18,529.23 L252.63,526.68Z" fill="#167b76"/>
<path d="M256.17,524.68 L258.72,527.23 L256.17,529.78 L253.62,527.23Z" fill="#167b76"/>
<path d="M257.15,525.22 L259.70,527.77 L257.15,530.32 L254.60,527.77Z" fill="#167b76"/>
<path d="M258.12,525.76 L260.67,528.31 L258.12,530.86 L255.57,528.31Z" fill="#167b76"/>
<path d="M259.07,526.29 L261.62,528.84 L259.07,531.39 L256.52,528.84Z" fill="#167b76"/>
<path d="M260.01,526.81 L262.56,529.36 L260.01,531.91 L257.46,529.36Z" fill="#167b76"/>
<path d="M260.94,527.33 L263.49,529.88 L260.94,532.43 L258.39,529.88Z" fill="#167b76"/>
<path d="M261.86,527.88 L264.41,530.43 L261.86,532.98 L259.31,530.43Z" fill="#167b76"/>
<path d="M262.76,528.64 L265.31,531.19 L262.76,533.74 L260.21,531.19Z" fill="#167b76"/>
<path d="M263.66,529.40 L266.21,531.95 L263.66,534.50 L261.11,531.95Z" fill="#167b76"/>
<path d="M264.54,530.14 L267.09,532.69 L264.54,535.24 L261.99,532.69Z" fill="#167b76"/>
<path d="M265.42,530.87 L267.97,533.42 L265.42,535.97 L262.87,533.42Z" fill="#167b76"/>
<path d="M266.28,531.60 L268.83,534.15 L266.28,536.70 L263.73,534.15Z" fill="#167b76"/>
<path d="M267.13,532.31 L269.68,534.86 L267.13,537.41 L264.58,534.86Z" fill="#167b76"/>
<path d="M267.98,533.02 L270.53,535.57 L267.98,538.12 L265.43,535.57Z" fill="#167b76"/>
<path d="M268.81,533.72 L271.36,536.27 L268.81,538.82 L266.26,536.27Z" fill="#167b76"/>
<path d="M269.63,534.41 L272.18,536.96 L269.63,539.51 L267.08,536.96Z" fill="#167b76"/>
<path d="M270.45,535.45 L273.00,538.00 L270.45,540.55 L267.90,538.00Z" fill="#167b76"/>
<path d="M271.25,536.58 L273.80,539.13 L271.25,541.68 L268.70,539.13Z" fill="#167b76"/>
<path d="M272.05,537.69 L274.60,540.24 L272.05,542.79 L269.50,540.24Z" fill="#167b76"/>
<path d="M272.84,538.79 L275.39,541.34 L272.84,543.89 L270.29,541.34Z" fill="#167b76"/>
<path d="M273.62,539.88 L276.17,542.43 L273.62,544.98 L271.07,542.43Z" fill="#167b76"/>
<path d="M274.39,540.96 L276.94,543.51 L274.39,546.06 L271.84,543.51Z" fill="#167b76"/>
<path d="M275.15,542.03 L277.70,544.58 L275.15,547.13 L272.60,544.58Z" fill="#167b76"/>
<path d="M275.91,543.08 L278.46,545.63 L275.91,548.18 L273.36,545.63Z" fill="#167b76"/>
<path d="M276.66,544.13 L279.21,546.68 L276.66,549.23 L274.11,546.68Z" fill="#167b76"/>
<path d="M277.40,545.16 L279.95,547.71 L277.40,550.26 L274.85,547.71Z" fill="#167b76"/>
<path d="M278.13,546.18 L280.68,548.73 L278.13,551.28 L275.58,548.73Z" fill="#167b76"/>
<path d="M278.85,547.20 L281.40,549.75 L278.85,552.30 L276.30,549.75Z" fill="#167b76"/>
<path d="M279.57,548.20 L282.12,550.75 L279.57,553.30 L277.02,550.75Z" fill="#167b76"/>
<path d="M280.28,549.19 L282.83,551.74 L280.28,554.29 L277.73,551.74Z" fill="#167b76"/>
<path d="M280.99,550.18 L283.54,552.73 L280.99,555.28 L278.44,552.73Z" fill="#167b76"/>
<path d="M281.68,551.15 L284.23,553.70 L281.68,556.25 L279.13,553.70Z" fill="#167b76"/>
<path d="M282.37,552.12 L284.92,554.67 L282.37,557.22 L279.82,554.67Z" fill="#167b76"/>
<path d="M283.06,553.07 L285.61,555.62 L283.06,558.17 L280.51,555.62Z" fill="#167b76"/>
<path d="M283.74,554.01 L286.29,556.56 L283.74,559.11 L281.19,556.56Z" fill="#167b76"/>
<path d="M284.41,554.93 L286.96,557.48 L284.41,560.03 L281.86,557.48Z" fill="#167b76"/>
<path d="M285.07,555.84 L287.62,558.39 L285.07,560.94 L282.52,558.39Z" fill="#167b76"/>
<path d="M285.73,556.75 L288.28,559.30 L285.73,561.85 L283.18,559.30Z" fill="#167b76"/>
<path d="M286.39,557.64 L288.94,560.19 L286.39,562.74 L283.84,560.19Z" fill="#167b76"/>
<path d="M287.03,558.53 L289.58,561.08 L287.03,563.63 L284.48,561.08Z" fill="#167b76"/>
<path d="M287.67,559.41 L290.22,561.96 L287.67,564.51 L285.12,561.96Z" fill="#167b76"/>
<path d="M288.31,560.28 L290.86,562.83 L288.31,565.38 L285.76,562.83Z" fill="#167b76"/>
<polygon points="80.50,385.45 81.19,386.44 82.35,386.80 81.62,387.77 81.65,388.98 80.50,388.58 79.35,388.98 79.38,387.77 78.65,386.80 79.81,386.44" fill="#2a6e40"/>
<polygon points="89.59,393.89 90.28,394.88 91.44,395.24 90.71,396.20 90.73,397.42 89.59,397.02 88.44,397.42 88.46,396.20 87.73,395.24 88.89,394.88" fill="#2a6e40"/>
<polygon points="97.66,400.92 98.36,401.92 99.52,402.27 98.79,403.24 98.81,404.45 97.66,404.05 96.52,404.45 96.54,403.24 95.81,402.27 96.97,401.92" fill="#2a6e40"/>
<polygon points="104.93,405.75 105.63,406.74 106.79,407.10 106.06,408.06 106.08,409.28 104.93,408.88 103.79,409.28 103.81,408.06 103.08,407.10 104.24,406.74" fill="#2a6e40"/>
<polygon points="111.54,410.27 112.23,411.26 113.39,411.61 112.66,412.58 112.68,413.80 111.54,413.40 110.39,413.80 110.41,412.58 109.68,411.61 110.84,411.26" fill="#2a6e40"/>
<polygon points="117.59,414.70 118.29,415.69 119.45,416.04 118.72,417.01 118.74,418.22 117.59,417.83 116.45,418.22 116.47,417.01 115.74,416.04 116.90,415.69" fill="#2a6e40"/>
<polygon points="123.18,418.46 123.88,419.45 125.04,419.80 124.31,420.77 124.33,421.98 123.18,421.59 122.04,421.98 122.06,420.77 121.33,419.80 122.49,419.45" fill="#2a6e40"/>
<polygon points="128.37,421.64 129.07,422.63 130.23,422.99 129.50,423.95 129.52,425.17 128.37,424.77 127.23,425.17 127.25,423.95 126.52,422.99 127.68,422.63" fill="#2a6e40"/>
<polygon points="133.22,424.73 133.91,425.72 135.07,426.07 134.34,427.04 134.36,428.26 133.22,427.86 132.07,428.26 132.09,427.04 131.36,426.07 132.52,425.72" fill="#2a6e40"/>
<polygon points="137.76,427.75 138.45,428.75 139.61,429.10 138.88,430.07 138.90,431.28 137.76,430.89 136.61,431.28 136.63,430.07 135.90,429.10 137.06,428.75" fill="#2a6e40"/>
<polygon points="142.03,430.58 142.73,431.58 143.89,431.93 143.16,432.90 143.18,434.11 142.03,433.71 140.88,434.11 140.91,432.90 140.18,431.93 141.34,431.58" fill="#2a6e40"/>
<polygon points="146.07,433.10 146.76,434.09 147.92,434.45 147.19,435.41 147.21,436.63 146.07,436.23 144.92,436.63 144.94,435.41 144.21,434.45 145.37,434.09" fill="#2a6e40"/>
<polygon points="149.89,435.48 150.59,436.48 151.75,436.83 151.02,437.80 151.04,439.01 149.89,438.61 148.75,439.01 148.77,437.80 148.04,436.83 149.20,436.48" fill="#2a6e40"/>
<polygon points="153.52,437.51 154.22,438.50 155.38,438.86 154.65,439.82 154.67,441.04 153.52,440.64 152.38,441.04 152.40,439.82 151.67,438.86 152.83,438.50" fill="#2a6e40"/>
<polygon points="156.98,439.43 157.68,440.42 158.84,440.78 158.11,441.74 158.13,442.96 156.98,442.56 155.84,442.96 155.86,441.74 155.13,440.78 156.29,440.42" fill="#2a6e40"/>
<polygon points="160.29,441.34 160.98,442.33 162.14,442.68 161.41,443.65 161.43,444.86 160.29,444.47 159.14,444.86 159.16,443.65 158.43,442.68 159.59,442.33" fill="#2a6e40"/>
<polygon points="163.44,443.27 164.14,444.26 165.30,444.61 164.57,445.58 164.59,446.79 163.44,446.40 162.30,446.79 162.32,445.58 161.59,444.61 162.75,444.26" fill="#2a6e40"/>
<polygon points="166.47,445.12 167.17,446.11 168.33,446.46 167.60,447.43 167.62,448.64 166.47,448.25 165.33,448.64 165.35,447.43 164.62,446.46 165.78,446.11" fill="#2a6e40"/>
<polygon points="169.38,446.97 170.07,447.96 171.23,448.32 170.50,449.28 170.52,450.50 169.38,450.10 168.23,450.50 168.25,449.28 167.52,448.32 168.68,447.96" fill="#2a6e40"/>
<polygon points="172.17,448.83 172.87,449.83 174.03,450.18 173.30,451.15 173.32,452.36 172.17,451.96 171.03,452.36 171.05,451.15 170.32,450.18 171.48,449.83" fill="#2a6e40"/>
<polygon points="174.86,450.63 175.56,451.62 176.72,451.97 175.99,452.94 176.01,454.15 174.86,453.76 173.72,454.15 173.74,452.94 173.01,451.97 174.17,451.62" fill="#2a6e40"/>
<polygon points="177.46,452.38 178.15,453.37 179.31,453.73 178.58,454.70 178.60,455.91 177.46,455.51 176.31,455.91 176.33,454.70 175.60,453.73 176.76,453.37" fill="#2a6e40"/>
<polygon points="179.96,454.19 180.66,455.18 181.82,455.54 181.09,456.50 181.11,457.72 179.96,457.32 178.82,457.72 178.84,456.50 178.11,455.54 179.27,455.18" fill="#2a6e40"/>
<polygon points="182.38,455.94 183.08,456.93 184.24,457.29 183.51,458.25 183.53,459.47 182.38,459.07 181.24,459.47 181.26,458.25 180.53,457.29 181.69,456.93" fill="#2a6e40"/>
<polygon points="184.73,457.63 185.42,458.62 186.58,458.98 185.85,459.95 185.87,461.16 184.73,460.76 183.58,461.16 183.60,459.95 182.87,458.98 184.03,458.62" fill="#2a6e40"/>
<polygon points="187.00,459.34 187.69,460.33 188.85,460.69 188.12,461.65 188.14,462.87 187.00,462.47 185.85,462.87 185.87,461.65 185.14,460.69 186.30,460.33" fill="#2a6e40"/>
<polygon points="189.20,461.08 189.89,462.07 191.05,462.43 190.32,463.39 190.35,464.61 189.20,464.21 188.05,464.61 188.08,463.39 187.34,462.43 188.50,462.07" fill="#2a6e40"/>
<polygon points="191.34,462.77 192.03,463.76 193.19,464.11 192.46,465.08 192.48,466.29 191.34,465.90 190.19,466.29 190.21,465.08 189.48,464.11 190.64,463.76" fill="#2a6e40"/>
<polygon points="193.41,464.41 194.11,465.40 195.27,465.75 194.54,466.72 194.56,467.93 193.41,467.54 192.27,467.93 192.29,466.72 191.56,465.75 192.72,465.40" fill="#2a6e40"/>
<polygon points="195.43,466.00 196.12,466.99 197.28,467.35 196.55,468.32 196.58,469.53 195.43,469.13 194.28,469.53 194.31,468.32 193.58,467.35 194.74,466.99" fill="#2a6e40"/>
<polygon points="197.39,467.60 198.09,468.59 199.25,468.94 198.52,469.91 198.54,471.12 197.39,470.73 196.25,471.12 196.27,469.91 195.54,468.94 196.70,468.59" fill="#2a6e40"/>
<polygon points="199.31,469.17 200.00,470.16 201.16,470.52 200.43,471.48 200.45,472.70 199.31,472.30 198.16,472.70 198.18,471.48 197.45,470.52 198.61,470.16" fill="#2a6e40"/>
<polygon points="201.17,470.70 201.86,471.69 203.02,472.05 202.29,473.01 202.31,474.23 201.17,473.83 200.02,474.23 200.04,473.01 199.31,472.05 200.47,471.69" fill="#2a6e40"/>
<polygon points="202.98,472.19 203.68,473.19 204.84,473.54 204.11,474.51 204.13,475.72 202.98,475.32 201.84,475.72 201.86,474.51 201.13,473.54 202.29,473.19" fill="#2a6e40"/>
<polygon points="204.76,473.65 205.45,474.64 206.61,475.00 205.88,475.97 205.90,477.18 204.76,476.78 203.61,477.18 203.63,475.97 202.90,475.00 204.06,474.64" fill="#2a6e40"/>
<polygon points="206.49,475.37 207.18,476.36 208.34,476.72 207.61,477.68 207.63,478.90 206.49,478.50 205.34,478.90 205.36,477.68 204.63,476.72 205.79,476.36" fill="#2a6e40"/>
<polygon points="208.18,477.10 208.87,478.09 210.03,478.44 209.30,479.41 209.32,480.62 208.18,480.23 207.03,480.62 207.05,479.41 206.32,478.44 207.48,478.09" fill="#2a6e40"/>
<polygon points="209.83,478.78 210.52,479.78 211.68,480.13 210.95,481.10 210.97,482.31 209.83,481.92 208.68,482.31 208.70,481.10 207.97,480.13 209.13,479.78" fill="#2a6e40"/>
<polygon points="211.44,480.43 212.14,481.43 213.30,481.78 212.57,482.75 212.59,483.96 211.44,483.57 210.30,483.96 210.32,482.75 209.59,481.78 210.75,481.43" fill="#2a6e40"/>
<polygon points="213.02,482.05 213.72,483.04 214.88,483.40 214.14,484.36 214.17,485.58 213.02,485.18 211.87,485.58 211.90,484.36 211.17,483.40 212.33,483.04" fill="#2a6e40"/>
<polygon points="214.57,483.64 215.26,484.64 216.42,484.99 215.69,485.96 215.71,487.17 214.57,486.78 213.42,487.17 213.44,485.96 212.71,484.99 213.87,484.64" fill="#2a6e40"/>
<polygon points="216.08,485.23 216.77,486.23 217.93,486.58 217.20,487.55 217.23,488.76 216.08,488.36 214.93,488.76 214.96,487.55 214.23,486.58 215.39,486.23" fill="#2a6e40"/>
<polygon points="217.56,486.79 218.26,487.78 219.42,488.13 218.69,489.10 218.71,490.31 217.56,489.92 216.42,490.31 216.44,489.10 215.71,488.13 216.87,487.78" fill="#2a6e40"/>
<polygon points="219.02,488.28 219.71,489.27 220.87,489.62 220.14,490.59 220.16,491.80 219.02,491.41 217.87,491.80 217.89,490.59 217.16,489.62 218.32,489.27" fill="#2a6e40"/>
<polygon points="220.44,489.72 221.14,490.71 222.30,491.06 221.56,492.03 221.59,493.24 220.44,492.85 219.29,493.24 219.32,492.03 218.59,491.06 219.75,490.71" fill="#2a6e40"/>
<polygon points="221.84,491.13 222.53,492.12 223.69,492.48 222.96,493.44 222.98,494.66 221.84,494.26 220.69,494.66 220.71,493.44 219.98,492.48 221.14,492.12" fill="#2a6e40"/>
<polygon points="223.21,492.52 223.90,493.51 225.06,493.86 224.33,494.83 224.35,496.04 223.21,495.65 222.06,496.04 222.08,494.83 221.35,493.86 222.51,493.51" fill="#2a6e40"/>
<polygon points="224.55,493.88 225.25,494.87 226.41,495.22 225.68,496.19 225.70,497.40 224.55,497.01 223.41,497.40 223.43,496.19 222.70,495.22 223.86,494.87" fill="#2a6e40"/>
<polygon points="225.87,495.21 226.57,496.21 227.73,496.56 227.00,497.53 227.02,498.74 225.87,498.34 224.73,498.74 224.75,497.53 224.02,496.56 225.18,496.21" fill="#2a6e40"/>
<polygon points="227.17,496.52 227.87,497.51 229.03,497.86 228.30,498.83 228.32,500.04 227.17,499.65 226.03,500.04 226.05,498.83 225.32,497.86 226.48,497.51" fill="#2a6e40"/>
<polygon points="228.45,497.68 229.14,498.67 230.30,499.02 229.57,499.99 229.59,501.20 228.45,500.81 227.30,501.20 227.32,499.99 226.59,499.02 227.75,498.67" fill="#2a6e40"/>
<polygon points="229.70,498.82 230.39,499.81 231.55,500.17 230.82,501.13 230.85,502.35 229.70,501.95 228.55,502.35 228.58,501.13 227.84,500.17 229.00,499.81" fill="#2a6e40"/>
<polygon points="230.93,499.94 231.63,500.93 232.79,501.29 232.05,502.26 232.08,503.47 230.93,503.07 229.78,503.47 229.81,502.26 229.08,501.29 230.24,500.93" fill="#2a6e40"/>
<polygon points="232.14,501.04 232.84,502.04 234.00,502.39 233.27,503.36 233.29,504.57 232.14,504.18 231.00,504.57 231.02,503.36 230.29,502.39 231.45,502.04" fill="#2a6e40"/>
<polygon points="233.33,502.13 234.03,503.12 235.19,503.48 234.46,504.44 234.48,505.66 233.33,505.26 232.19,505.66 232.21,504.44 231.48,503.48 232.64,503.12" fill="#2a6e40"/>
<polygon points="234.50,503.20 235.20,504.19 236.36,504.54 235.63,505.51 235.65,506.72 234.50,506.33 233.36,506.72 233.38,505.51 232.65,504.54 233.81,504.19" fill="#2a6e40"/>
<polygon points="235.66,504.25 236.35,505.24 237.51,505.59 236.78,506.56 236.80,507.77 235.66,507.38 234.51,507.77 234.53,506.56 233.80,505.59 234.96,505.24" fill="#2a6e40"/>
<polygon points="236.79,505.27 237.49,506.27 238.65,506.62 237.92,507.59 237.94,508.80 236.79,508.41 235.65,508.80 235.67,507.59 234.94,506.62 236.10,506.27" fill="#2a6e40"/>
<polygon points="237.91,506.28 238.61,507.28 239.77,507.63 239.03,508.60 239.06,509.81 237.91,509.41 236.76,509.81 236.79,508.60 236.06,507.63 237.22,507.28" fill="#2a6e40"/>
<polygon points="239.01,507.27 239.71,508.27 240.87,508.62 240.14,509.59 240.16,510.80 239.01,510.41 237.87,510.80 237.89,509.59 237.16,508.62 238.32,508.27" fill="#2a6e40"/>
<polygon points="240.10,508.25 240.79,509.24 241.95,509.60 241.22,510.57 241.24,511.78 240.10,511.38 238.95,511.78 238.97,510.57 238.24,509.60 239.40,509.24" fill="#2a6e40"/>
<polygon points="241.16,509.21 241.86,510.21 243.02,510.56 242.29,511.53 242.31,512.74 241.16,512.35 240.02,512.74 240.04,511.53 239.31,510.56 240.47,510.21" fill="#2a6e40"/>
<polygon points="242.22,510.16 242.91,511.16 244.07,511.51 243.34,512.48 243.36,513.69 242.22,513.29 241.07,513.69 241.09,512.48 240.36,511.51 241.52,511.16" fill="#2a6e40"/>
<polygon points="243.26,511.10 243.95,512.09 245.11,512.44 244.38,513.41 244.40,514.63 243.26,514.23 242.11,514.63 242.13,513.41 241.40,512.44 242.56,512.09" fill="#2a6e40"/>
<polygon points="244.28,512.02 244.97,513.01 246.13,513.37 245.40,514.33 245.42,515.55 244.28,515.15 243.13,515.55 243.15,514.33 242.42,513.37 243.58,513.01" fill="#2a6e40"/>
<polygon points="245.29,512.94 245.98,513.93 247.14,514.29 246.41,515.25 246.43,516.47 245.29,516.07 244.14,516.47 244.16,515.25 243.43,514.29 244.59,513.93" fill="#2a6e40"/>
<polygon points="246.28,513.96 246.98,514.95 248.14,515.30 247.41,516.27 247.43,517.48 246.28,517.09 245.14,517.48 245.16,516.27 244.43,515.30 245.59,514.95" fill="#2a6e40"/>
<polygon points="247.26,514.96 247.96,515.95 249.12,516.31 248.39,517.28 248.41,518.49 247.26,518.09 246.12,518.49 246.14,517.28 245.41,516.31 246.57,515.95" fill="#2a6e40"/>
<polygon points="248.23,515.95 248.93,516.94 250.09,517.30 249.36,518.27 249.38,519.48 248.23,519.08 247.09,519.48 247.11,518.27 246.38,517.30 247.54,516.94" fill="#2a6e40"/>
<polygon points="249.19,516.93 249.88,517.92 251.04,518.28 250.31,519.24 250.34,520.46 249.19,520.06 248.04,520.46 248.07,519.24 247.33,518.28 248.49,517.92" fill="#2a6e40"/>
<polygon points="250.13,517.89 250.83,518.89 251.99,519.24 251.26,520.21 251.28,521.42 250.13,521.02 248.99,521.42 249.01,520.21 248.28,519.24 249.44,518.89" fill="#2a6e40"/>
<polygon points="251.06,518.84 251.76,519.84 252.92,520.19 252.19,521.16 252.21,522.37 251.06,521.98 249.92,522.37 249.94,521.16 249.21,520.19 250.37,519.84" fill="#2a6e40"/>
<polygon points="251.98,519.78 252.68,520.78 253.84,521.13 253.11,522.10 253.13,523.31 251.98,522.92 250.84,523.31 250.86,522.10 250.13,521.13 251.29,520.78" fill="#2a6e40"/>
<polygon points="252.89,520.71 253.59,521.71 254.75,522.06 254.02,523.03 254.04,524.24 252.89,523.84 251.75,524.24 251.77,523.03 251.04,522.06 252.20,521.71" fill="#2a6e40"/>
<polygon points="253.79,521.63 254.48,522.62 255.64,522.98 254.91,523.95 254.94,525.16 253.79,524.76 252.64,525.16 252.66,523.95 251.93,522.98 253.09,522.62" fill="#2a6e40"/>
<polygon points="254.67,522.57 255.37,523.56 256.53,523.92 255.80,524.89 255.82,526.10 254.67,525.70 253.53,526.10 253.55,524.89 252.82,523.92 253.98,523.56" fill="#2a6e40"/>
<polygon points="255.55,523.53 256.24,524.52 257.40,524.88 256.67,525.85 256.70,527.06 255.55,526.66 254.40,527.06 254.43,525.85 253.70,524.88 254.86,524.52" fill="#2a6e40"/>
<polygon points="256.42,524.48 257.11,525.47 258.27,525.83 257.54,526.79 257.56,528.01 256.42,527.61 255.27,528.01 255.29,526.79 254.56,525.83 255.72,525.47" fill="#2a6e40"/>
<polygon points="257.27,525.42 257.96,526.41 259.12,526.76 258.39,527.73 258.42,528.94 257.27,528.55 256.12,528.94 256.15,527.73 255.42,526.76 256.58,526.41" fill="#2a6e40"/>
<polygon points="258.11,526.34 258.81,527.34 259.97,527.69 259.24,528.66 259.26,529.87 258.11,529.48 256.97,529.87 256.99,528.66 256.26,527.69 257.42,527.34" fill="#2a6e40"/>
<polygon points="258.95,527.26 259.64,528.25 260.80,528.61 260.07,529.57 260.10,530.79 258.95,530.39 257.80,530.79 257.83,529.57 257.10,528.61 258.26,528.25" fill="#2a6e40"/>
<polygon points="259.78,528.17 260.47,529.16 261.63,529.51 260.90,530.48 260.92,531.69 259.78,531.30 258.63,531.69 258.65,530.48 257.92,529.51 259.08,529.16" fill="#2a6e40"/>
<polygon points="260.59,529.11 261.29,530.11 262.45,530.46 261.72,531.43 261.74,532.64 260.59,532.25 259.45,532.64 259.47,531.43 258.74,530.46 259.90,530.11" fill="#2a6e40"/>
<polygon points="261.40,530.22 262.09,531.22 263.25,531.57 262.52,532.54 262.55,533.75 261.40,533.36 260.25,533.75 260.28,532.54 259.54,531.57 260.70,531.22" fill="#2a6e40"/>
<polygon points="262.20,531.32 262.89,532.32 264.05,532.67 263.32,533.64 263.34,534.85 262.20,534.45 261.05,534.85 261.07,533.64 260.34,532.67 261.50,532.32" fill="#2a6e40"/>
<polygon points="262.99,532.41 263.68,533.40 264.84,533.75 264.11,534.72 264.13,535.93 262.99,535.54 261.84,535.93 261.86,534.72 261.13,533.75 262.29,533.40" fill="#2a6e40"/>
<polygon points="263.77,533.48 264.46,534.48 265.62,534.83 264.89,535.80 264.91,537.01 263.77,536.61 262.62,537.01 262.64,535.80 261.91,534.83 263.07,534.48" fill="#2a6e40"/>
<polygon points="264.54,534.54 265.24,535.54 266.40,535.89 265.67,536.86 265.69,538.07 264.54,537.68 263.40,538.07 263.42,536.86 262.69,535.89 263.85,535.54" fill="#2a6e40"/>
<polygon points="265.31,535.60 266.00,536.59 267.16,536.94 266.43,537.91 266.45,539.12 265.31,538.73 264.16,539.12 264.18,537.91 263.45,536.94 264.61,536.59" fill="#2a6e40"/>
<polygon points="266.06,536.63 266.76,537.62 267.92,537.98 267.19,538.94 267.21,540.16 266.06,539.76 264.92,540.16 264.94,538.94 264.21,537.98 265.37,537.62" fill="#2a6e40"/>
<polygon points="266.81,537.56 267.51,538.56 268.67,538.91 267.94,539.88 267.96,541.09 266.81,540.70 265.67,541.09 265.69,539.88 264.96,538.91 266.12,538.56" fill="#2a6e40"/>
<polygon points="267.55,538.49 268.25,539.49 269.41,539.84 268.68,540.81 268.70,542.02 267.55,541.62 266.41,542.02 266.43,540.81 265.70,539.84 266.86,539.49" fill="#2a6e40"/>
<polygon points="268.29,539.41 268.98,540.40 270.14,540.76 269.41,541.72 269.43,542.94 268.29,542.54 267.14,542.94 267.16,541.72 266.43,540.76 267.59,540.40" fill="#2a6e40"/>
<polygon points="269.01,540.32 269.71,541.31 270.87,541.66 270.14,542.63 270.16,543.84 269.01,543.45 267.87,543.84 267.89,542.63 267.16,541.66 268.32,541.31" fill="#2a6e40"/>
<polygon points="269.73,541.22 270.43,542.21 271.59,542.56 270.86,543.53 270.88,544.74 269.73,544.35 268.59,544.74 268.61,543.53 267.88,542.56 269.04,542.21" fill="#2a6e40"/>
<polygon points="270.45,542.11 271.14,543.10 272.30,543.45 271.57,544.42 271.59,545.63 270.45,545.24 269.30,545.63 269.32,544.42 268.59,543.45 269.75,543.10" fill="#2a6e40"/>
<polygon points="271.15,542.99 271.85,543.98 273.01,544.34 272.27,545.30 272.30,546.52 271.15,546.12 270.00,546.52 270.03,545.30 269.30,544.34 270.46,543.98" fill="#2a6e40"/>
<polygon points="271.85,543.86 272.54,544.86 273.70,545.21 272.97,546.18 273.00,547.39 271.85,546.99 270.70,547.39 270.73,546.18 269.99,545.21 271.15,544.86" fill="#2a6e40"/>
<polygon points="272.54,545.07 273.24,546.07 274.40,546.42 273.67,547.39 273.69,548.60 272.54,548.21 271.40,548.60 271.42,547.39 270.69,546.42 271.85,546.07" fill="#2a6e40"/>
<polygon points="273.23,546.37 273.92,547.36 275.08,547.72 274.35,548.69 274.37,549.90 273.23,549.50 272.08,549.90 272.10,548.69 271.37,547.72 272.53,547.36" fill="#2a6e40"/>
<polygon points="273.91,547.65 274.60,548.65 275.76,549.00 275.03,549.97 275.05,551.18 273.91,550.79 272.76,551.18 272.78,549.97 272.05,549.00 273.21,548.65" fill="#2a6e40"/>
<polygon points="274.58,548.93 275.27,549.92 276.43,550.27 275.70,551.24 275.72,552.45 274.58,552.06 273.43,552.45 273.45,551.24 272.72,550.27 273.88,549.92" fill="#2a6e40"/>
<polygon points="275.24,550.19 275.94,551.18 277.10,551.53 276.37,552.50 276.39,553.71 275.24,553.32 274.10,553.71 274.12,552.50 273.39,551.53 274.55,551.18" fill="#2a6e40"/>
<polygon points="275.91,551.44 276.60,552.43 277.76,552.78 277.03,553.75 277.05,554.96 275.91,554.57 274.76,554.96 274.78,553.75 274.05,552.78 275.21,552.43" fill="#2a6e40"/>
<polygon points="276.56,552.67 277.25,553.67 278.41,554.02 277.68,554.99 277.71,556.20 276.56,555.81 275.41,556.20 275.44,554.99 274.71,554.02 275.87,553.67" fill="#2a6e40"/>
<polygon points="277.21,553.90 277.90,554.89 279.06,555.25 278.33,556.21 278.35,557.43 277.21,557.03 276.06,557.43 276.08,556.21 275.35,555.25 276.51,554.89" fill="#2a6e40"/>
<polygon points="277.85,555.11 278.55,556.11 279.71,556.46 278.98,557.43 279.00,558.64 277.85,558.25 276.71,558.64 276.73,557.43 276.00,556.46 277.16,556.11" fill="#2a6e40"/>
<polygon points="278.49,556.32 279.18,557.31 280.34,557.67 279.61,558.63 279.64,559.85 278.49,559.45 277.34,559.85 277.37,558.63 276.63,557.67 277.79,557.31" fill="#2a6e40"/>
<polygon points="279.12,557.51 279.82,558.51 280.98,558.86 280.24,559.83 280.27,561.04 279.12,560.64 277.97,561.04 278.00,559.83 277.27,558.86 278.43,558.51" fill="#2a6e40"/>
<polygon points="279.75,558.69 280.44,559.69 281.60,560.04 280.87,561.01 280.89,562.22 279.75,561.83 278.60,562.22 278.62,561.01 277.89,560.04 279.05,559.69" fill="#2a6e40"/>
<polygon points="280.37,559.87 281.06,560.86 282.22,561.21 281.49,562.18 281.51,563.40 280.37,563.00 279.22,563.40 279.24,562.18 278.51,561.21 279.67,560.86" fill="#2a6e40"/>
<polygon points="280.98,561.03 281.68,562.02 282.84,562.38 282.11,563.35 282.13,564.56 280.98,564.16 279.84,564.56 279.86,563.35 279.13,562.38 280.29,562.02" fill="#2a6e40"/>
<polygon points="281.59,562.18 282.29,563.18 283.45,563.53 282.72,564.50 282.74,565.71 281.59,565.32 280.45,565.71 280.47,564.50 279.74,563.53 280.90,563.18" fill="#2a6e40"/>
<circle cx="69.60" cy="382.20" r="2.1" fill="#db1a74"/>
<circle cx="79.50" cy="389.70" r="2.1" fill="#db1a74"/>
<circle cx="88.21" cy="395.57" r="2.1" fill="#db1a74"/>
<circle cx="95.99" cy="401.76" r="2.1" fill="#db1a74"/>
<circle cx="103.01" cy="406.66" r="2.1" fill="#db1a74"/>
<circle cx="109.41" cy="410.68" r="2.1" fill="#db1a74"/>
<circle cx="115.30" cy="415.27" r="2.1" fill="#db1a74"/>
<circle cx="120.74" cy="418.91" r="2.1" fill="#db1a74"/>
<circle cx="125.81" cy="421.96" r="2.1" fill="#db1a74"/>
<circle cx="130.54" cy="424.92" r="2.1" fill="#db1a74"/>
<circle cx="134.99" cy="427.80" r="2.1" fill="#db1a74"/>
<circle cx="139.18" cy="430.63" r="2.1" fill="#db1a74"/>
<circle cx="143.14" cy="433.22" r="2.1" fill="#db1a74"/>
<circle cx="146.89" cy="435.56" r="2.1" fill="#db1a74"/>
<circle cx="150.46" cy="437.76" r="2.1" fill="#db1a74"/>
<circle cx="153.87" cy="439.65" r="2.1" fill="#db1a74"/>
<circle cx="157.12" cy="441.45" r="2.1" fill="#db1a74"/>
<circle cx="160.23" cy="443.25" r="2.1" fill="#db1a74"/>
<circle cx="163.21" cy="445.08" r="2.1" fill="#db1a74"/>
<circle cx="166.08" cy="446.83" r="2.1" fill="#db1a74"/>
<circle cx="168.84" cy="448.56" r="2.1" fill="#db1a74"/>
<circle cx="171.50" cy="450.33" r="2.1" fill="#db1a74"/>
<circle cx="174.06" cy="452.04" r="2.1" fill="#db1a74"/>
<circle cx="176.53" cy="453.69" r="2.1" fill="#db1a74"/>
<circle cx="178.93" cy="455.39" r="2.1" fill="#db1a74"/>
<circle cx="181.25" cy="457.07" r="2.1" fill="#db1a74"/>
<circle cx="183.49" cy="458.69" r="2.1" fill="#db1a74"/>
<circle cx="185.67" cy="460.26" r="2.1" fill="#db1a74"/>
<circle cx="187.79" cy="461.91" r="2.1" fill="#db1a74"/>
<circle cx="189.84" cy="463.53" r="2.1" fill="#db1a74"/>
<circle cx="191.84" cy="465.11" r="2.1" fill="#db1a74"/>
<circle cx="193.79" cy="466.65" r="2.1" fill="#db1a74"/>
<circle cx="195.68" cy="468.15" r="2.1" fill="#db1a74"/>
<circle cx="197.53" cy="469.66" r="2.1" fill="#db1a74"/>
<circle cx="199.33" cy="471.14" r="2.1" fill="#db1a74"/>
<circle cx="201.08" cy="472.58" r="2.1" fill="#db1a74"/>
<circle cx="202.80" cy="473.99" r="2.1" fill="#db1a74"/>
<circle cx="204.48" cy="475.37" r="2.1" fill="#db1a74"/>
<circle cx="206.11" cy="476.94" r="2.1" fill="#db1a74"/>
<circle cx="207.72" cy="478.58" r="2.1" fill="#db1a74"/>
<circle cx="209.28" cy="480.18" r="2.1" fill="#db1a74"/>
<circle cx="210.82" cy="481.75" r="2.1" fill="#db1a74"/>
<circle cx="212.32" cy="483.28" r="2.1" fill="#db1a74"/>
<circle cx="213.79" cy="484.79" r="2.1" fill="#db1a74"/>
<circle cx="215.24" cy="486.30" r="2.1" fill="#db1a74"/>
<circle cx="216.65" cy="487.78" r="2.1" fill="#db1a74"/>
<circle cx="218.04" cy="489.24" r="2.1" fill="#db1a74"/>
<circle cx="219.40" cy="490.62" r="2.1" fill="#db1a74"/>
<circle cx="220.74" cy="491.97" r="2.1" fill="#db1a74"/>
<circle cx="222.05" cy="493.29" r="2.1" fill="#db1a74"/>
<circle cx="223.34" cy="494.60" r="2.1" fill="#db1a74"/>
<circle cx="224.61" cy="495.88" r="2.1" fill="#db1a74"/>
<circle cx="225.85" cy="497.14" r="2.1" fill="#db1a74"/>
<circle cx="227.08" cy="498.38" r="2.1" fill="#db1a74"/>
<circle cx="228.28" cy="499.48" r="2.1" fill="#db1a74"/>
<circle cx="229.47" cy="500.55" r="2.1" fill="#db1a74"/>
<circle cx="230.63" cy="501.62" r="2.1" fill="#db1a74"/>
<circle cx="231.78" cy="502.66" r="2.1" fill="#db1a74"/>
<circle cx="232.91" cy="503.69" r="2.1" fill="#db1a74"/>
<circle cx="234.02" cy="504.70" r="2.1" fill="#db1a74"/>
<circle cx="235.11" cy="505.70" r="2.1" fill="#db1a74"/>
<circle cx="236.19" cy="506.68" r="2.1" fill="#db1a74"/>
<circle cx="237.26" cy="507.64" r="2.1" fill="#db1a74"/>
<circle cx="238.30" cy="508.58" r="2.1" fill="#db1a74"/>
<circle cx="239.34" cy="509.52" r="2.1" fill="#db1a74"/>
<circle cx="240.35" cy="510.43" r="2.1" fill="#db1a74"/>
<circle cx="241.36" cy="511.34" r="2.1" fill="#db1a74"/>
<circle cx="242.35" cy="512.23" r="2.1" fill="#db1a74"/>
<circle cx="243.33" cy="513.11" r="2.1" fill="#db1a74"/>
<circle cx="244.29" cy="513.98" r="2.1" fill="#db1a74"/>
<circle cx="245.24" cy="514.84" r="2.1" fill="#db1a74"/>
<circle cx="246.18" cy="515.80" r="2.1" fill="#db1a74"/>
<circle cx="247.11" cy="516.75" r="2.1" fill="#db1a74"/>
<circle cx="248.02" cy="517.69" r="2.1" fill="#db1a74"/>
<circle cx="248.93" cy="518.61" r="2.1" fill="#db1a74"/>
<circle cx="249.82" cy="519.52" r="2.1" fill="#db1a74"/>
<circle cx="250.70" cy="520.43" r="2.1" fill="#db1a74"/>
<circle cx="251.58" cy="521.32" r="2.1" fill="#db1a74"/>
<circle cx="252.44" cy="522.20" r="2.1" fill="#db1a74"/>
<circle cx="253.29" cy="523.07" r="2.1" fill="#db1a74"/>
<circle cx="254.13" cy="523.93" r="2.1" fill="#db1a74"/>
<circle cx="254.96" cy="524.80" r="2.1" fill="#db1a74"/>
<circle cx="255.78" cy="525.66" r="2.1" fill="#db1a74"/>
<circle cx="256.60" cy="526.51" r="2.1" fill="#db1a74"/>
<circle cx="257.40" cy="527.36" r="2.1" fill="#db1a74"/>
<circle cx="258.20" cy="528.19" r="2.1" fill="#db1a74"/>
<circle cx="258.98" cy="529.01" r="2.1" fill="#db1a74"/>
<circle cx="259.76" cy="529.83" r="2.1" fill="#db1a74"/>
<circle cx="260.53" cy="530.71" r="2.1" fill="#db1a74"/>
<circle cx="261.29" cy="531.95" r="2.1" fill="#db1a74"/>
<circle cx="262.05" cy="533.17" r="2.1" fill="#db1a74"/>
<circle cx="262.79" cy="534.37" r="2.1" fill="#db1a74"/>
<circle cx="263.53" cy="535.57" r="2.1" fill="#db1a74"/>
<circle cx="264.26" cy="536.75" r="2.1" fill="#db1a74"/>
<circle cx="264.99" cy="537.92" r="2.1" fill="#db1a74"/>
<circle cx="265.71" cy="539.08" r="2.1" fill="#db1a74"/>
<circle cx="266.41" cy="540.23" r="2.1" fill="#db1a74"/>
<circle cx="267.12" cy="541.37" r="2.1" fill="#db1a74"/>
<circle cx="267.81" cy="542.88" r="2.1" fill="#db1a74"/>
<circle cx="268.50" cy="544.43" r="2.1" fill="#db1a74"/>
<circle cx="269.19" cy="545.96" r="2.1" fill="#db1a74"/>
<circle cx="269.86" cy="547.48" r="2.1" fill="#db1a74"/>
<circle cx="270.53" cy="548.99" r="2.1" fill="#db1a74"/>
<circle cx="271.20" cy="550.48" r="2.1" fill="#db1a74"/>
<circle cx="271.86" cy="551.96" r="2.1" fill="#db1a74"/>
<circle cx="272.51" cy="553.43" r="2.1" fill="#db1a74"/>
<circle cx="273.16" cy="555.18" r="2.1" fill="#db1a74"/>
<circle cx="273.80" cy="556.91" r="2.1" fill="#db1a74"/>
<circle cx="274.43" cy="558.63" r="2.1" fill="#db1a74"/>
<circle cx="275.06" cy="560.34" r="2.1" fill="#db1a74"/>
<circle cx="275.69" cy="562.03" r="2.1" fill="#db1a74"/>
<circle cx="276.31" cy="563.71" r="2.1" fill="#db1a74"/>
<rect x="80.90" y="512.60" width="4.0" height="4.0" fill="#838383"/>
<circle cx="82.80" cy="530.30" r="2.1" fill="#27418f"/>
<path d="M82.80,543.42 L85.10,547.56 L80.50,547.56Z" fill="#ea8c22"/>
<path d="M82.80,559.40 L85.20,561.80 L82.80,564.20 L80.40,561.80Z" fill="#167b76"/>
<polygon points="82.80,575.50 83.62,576.67 84.99,577.09 84.13,578.23 84.15,579.66 82.80,579.19 81.45,579.66 81.47,578.23 80.61,577.09 81.98,576.67" fill="#2a6e40"/>
<circle cx="82.80" cy="593.60" r="2.2" fill="#db1a74"/>
<text x="100.40" y="519.20" font-size="13.5" text-anchor="start" fill="#1c1c1c" >-2 V</text>
<text x="100.40" y="534.90" font-size="13.5" text-anchor="start" fill="#1c1c1c" >-3 V</text>
<text x="100.40" y="550.50" font-size="13.5" text-anchor="start" fill="#1c1c1c" >-4 V</text>
<text x="100.40" y="566.40" font-size="13.5" text-anchor="start" fill="#1c1c1c" >-5 V</text>
<text x="100.40" y="582.40" font-size="13.5" text-anchor="start" fill="#1c1c1c" >-6 V</text>
<text x="100.40" y="598.20" font-size="13.5" text-anchor="start" fill="#1c1c1c" >-7 V</text>
<line x1="407.75" y1="351.00" x2="681.95" y2="351.00" stroke="#121212" stroke-width="1.55"/>
<line x1="407.75" y1="623.30" x2="681.95" y2="623.30" stroke="#121212" stroke-width="1.55"/>
<line x1="408.40" y1="351.00" x2="408.40" y2="623.30" stroke="#121212" stroke-width="1.55"/>
<line x1="681.30" y1="351.00" x2="681.30" y2="623.30" stroke="#121212" stroke-width="1.55"/>
<line x1="417.73" y1="623.30" x2="417.73" y2="617.30" stroke="#121212" stroke-width="1.55"/>
<line x1="426.32" y1="623.30" x2="426.32" y2="617.30" stroke="#121212" stroke-width="1.55"/>
<line x1="484.54" y1="623.30" x2="484.54" y2="617.30" stroke="#121212" stroke-width="1.55"/>
<line x1="514.11" y1="623.30" x2="514.11" y2="617.30" stroke="#121212" stroke-width="1.55"/>
<line x1="535.09" y1="623.30" x2="535.09" y2="617.30" stroke="#121212" stroke-width="1.55"/>
<line x1="551.36" y1="623.30" x2="551.36" y2="617.30" stroke="#121212" stroke-width="1.55"/>
<line x1="564.65" y1="623.30" x2="564.65" y2="617.30" stroke="#121212" stroke-width="1.55"/>
<line x1="575.89" y1="623.30" x2="575.89" y2="617.30" stroke="#121212" stroke-width="1.55"/>
<line x1="585.63" y1="623.30" x2="585.63" y2="617.30" stroke="#121212" stroke-width="1.55"/>
<line x1="594.22" y1="623.30" x2="594.22" y2="617.30" stroke="#121212" stroke-width="1.55"/>
<line x1="652.44" y1="623.30" x2="652.44" y2="617.30" stroke="#121212" stroke-width="1.55"/>
<line x1="434.00" y1="623.30" x2="434.00" y2="611.30" stroke="#121212" stroke-width="1.55"/>
<line x1="601.90" y1="623.30" x2="601.90" y2="611.30" stroke="#121212" stroke-width="1.55"/>
<text x="434.25" y="646.60" font-size="15" text-anchor="middle" fill="#1c1c1c"  letter-spacing="0.5">10</text>
<text x="602.15" y="646.60" font-size="15" text-anchor="middle" fill="#1c1c1c"  letter-spacing="0.5">100</text>
<text x="543.85" y="658.30" font-size="15" text-anchor="middle" fill="#1c1c1c" >T (K)</text>
<line x1="408.40" y1="589.50" x2="420.40" y2="589.50" stroke="#121212" stroke-width="1.55"/>
<line x1="408.40" y1="521.30" x2="420.40" y2="521.30" stroke="#121212" stroke-width="1.55"/>
<line x1="408.40" y1="453.10" x2="420.40" y2="453.10" stroke="#121212" stroke-width="1.55"/>
<line x1="408.40" y1="384.90" x2="420.40" y2="384.90" stroke="#121212" stroke-width="1.55"/>
<line x1="408.40" y1="555.40" x2="414.40" y2="555.40" stroke="#121212" stroke-width="1.55"/>
<line x1="408.40" y1="487.20" x2="414.40" y2="487.20" stroke="#121212" stroke-width="1.55"/>
<line x1="408.40" y1="419.00" x2="414.40" y2="419.00" stroke="#121212" stroke-width="1.55"/>
<line x1="408.40" y1="350.80" x2="414.40" y2="350.80" stroke="#121212" stroke-width="1.55"/>
<text x="398.50" y="594.60" font-size="15" text-anchor="end" fill="#1c1c1c"  letter-spacing="0.5">0</text>
<text x="398.50" y="526.40" font-size="15" text-anchor="end" fill="#1c1c1c"  letter-spacing="0.5">0.2</text>
<text x="398.50" y="458.20" font-size="15" text-anchor="end" fill="#1c1c1c"  letter-spacing="0.5">0.4</text>
<text x="398.50" y="390.00" font-size="15" text-anchor="end" fill="#1c1c1c"  letter-spacing="0.5">0.6</text>
<text x="653.30" y="369.00" font-size="15" text-anchor="start" fill="#1c1c1c"  letter-spacing="0.6">(d)</text>
<text transform="translate(363.55,518.52) rotate(-90)" font-size="14.5" fill="#333">(</text>
<text transform="translate(364.28,509.95) rotate(-90)" font-size="13.5" fill="#333">ρ</text>
<text transform="translate(364.49,501.30) rotate(-90)" font-size="13.5" fill="#333">−</text>
<text transform="translate(364.28,489.75) rotate(-90)" font-size="13.5" fill="#333">ρ</text>
<text transform="translate(369.07,483.47) rotate(-90)" font-size="10.5" fill="#333">o</text>
<text transform="translate(364.00,470.86) rotate(-90)" font-size="14.5" fill="#333">)</text>
<text transform="translate(363.73,465.73) rotate(-90)" font-size="13.5" fill="#333">/</text>
<text transform="translate(364.07,461.32) rotate(-90)" font-size="13.5" fill="#333">γ</text>
<circle cx="438.25" cy="589.58" r="2.25" fill="#27418f"/>
<circle cx="459.05" cy="589.44" r="2.25" fill="#27418f"/>
<circle cx="475.22" cy="589.33" r="2.25" fill="#27418f"/>
<circle cx="488.45" cy="588.75" r="2.25" fill="#27418f"/>
<circle cx="499.64" cy="588.02" r="2.25" fill="#27418f"/>
<circle cx="509.34" cy="586.13" r="2.25" fill="#27418f"/>
<circle cx="517.90" cy="583.74" r="2.25" fill="#27418f"/>
<circle cx="525.56" cy="580.43" r="2.25" fill="#27418f"/>
<circle cx="532.49" cy="577.44" r="2.25" fill="#27418f"/>
<circle cx="538.82" cy="574.76" r="2.25" fill="#27418f"/>
<circle cx="544.64" cy="572.15" r="2.25" fill="#27418f"/>
<circle cx="550.03" cy="569.34" r="2.25" fill="#27418f"/>
<circle cx="555.05" cy="564.24" r="2.25" fill="#27418f"/>
<circle cx="559.75" cy="559.26" r="2.25" fill="#27418f"/>
<circle cx="564.16" cy="553.75" r="2.25" fill="#27418f"/>
<circle cx="568.32" cy="548.55" r="2.25" fill="#27418f"/>
<circle cx="572.26" cy="543.64" r="2.25" fill="#27418f"/>
<circle cx="576.00" cy="538.96" r="2.25" fill="#27418f"/>
<circle cx="579.55" cy="533.85" r="2.25" fill="#27418f"/>
<circle cx="582.94" cy="528.98" r="2.25" fill="#27418f"/>
<circle cx="586.17" cy="523.40" r="2.25" fill="#27418f"/>
<circle cx="589.27" cy="517.97" r="2.25" fill="#27418f"/>
<circle cx="592.25" cy="512.80" r="2.25" fill="#27418f"/>
<circle cx="595.10" cy="507.84" r="2.25" fill="#27418f"/>
<circle cx="597.85" cy="502.66" r="2.25" fill="#27418f"/>
<circle cx="600.50" cy="497.63" r="2.25" fill="#27418f"/>
<circle cx="603.06" cy="492.02" r="2.25" fill="#27418f"/>
<circle cx="605.53" cy="486.33" r="2.25" fill="#27418f"/>
<circle cx="607.92" cy="481.43" r="2.25" fill="#27418f"/>
<circle cx="610.23" cy="476.75" r="2.25" fill="#27418f"/>
<circle cx="612.47" cy="472.30" r="2.25" fill="#27418f"/>
<circle cx="614.65" cy="467.99" r="2.25" fill="#27418f"/>
<circle cx="616.76" cy="463.70" r="2.25" fill="#27418f"/>
<circle cx="618.81" cy="459.46" r="2.25" fill="#27418f"/>
<circle cx="620.81" cy="455.47" r="2.25" fill="#27418f"/>
<circle cx="622.75" cy="451.78" r="2.25" fill="#27418f"/>
<circle cx="624.64" cy="448.18" r="2.25" fill="#27418f"/>
<circle cx="626.49" cy="444.67" r="2.25" fill="#27418f"/>
<circle cx="628.29" cy="441.26" r="2.25" fill="#27418f"/>
<circle cx="630.04" cy="437.92" r="2.25" fill="#27418f"/>
<circle cx="631.76" cy="434.49" r="2.25" fill="#27418f"/>
<circle cx="633.43" cy="431.14" r="2.25" fill="#27418f"/>
<circle cx="635.07" cy="427.86" r="2.25" fill="#27418f"/>
<circle cx="636.67" cy="424.66" r="2.25" fill="#27418f"/>
<circle cx="638.24" cy="421.52" r="2.25" fill="#27418f"/>
<circle cx="639.77" cy="418.45" r="2.25" fill="#27418f"/>
<circle cx="641.28" cy="416.09" r="2.25" fill="#27418f"/>
<circle cx="642.75" cy="413.89" r="2.25" fill="#27418f"/>
<circle cx="644.19" cy="411.73" r="2.25" fill="#27418f"/>
<circle cx="645.61" cy="409.61" r="2.25" fill="#27418f"/>
<circle cx="646.99" cy="407.54" r="2.25" fill="#27418f"/>
<circle cx="648.36" cy="405.50" r="2.25" fill="#27418f"/>
<circle cx="649.69" cy="403.50" r="2.25" fill="#27418f"/>
<circle cx="651.01" cy="401.54" r="2.25" fill="#27418f"/>
<circle cx="652.30" cy="400.20" r="2.25" fill="#27418f"/>
<polygon points="436.16,587.50 436.90,588.57 438.15,588.95 437.37,589.99 437.39,591.30 436.16,590.87 434.92,591.30 434.94,589.99 434.16,588.95 435.41,588.57" fill="#2a6e40"/>
<polygon points="457.49,587.45 458.23,588.52 459.48,588.90 458.70,589.94 458.72,591.25 457.49,590.82 456.25,591.25 456.28,589.94 455.49,588.90 456.74,588.52" fill="#2a6e40"/>
<polygon points="473.97,587.41 474.72,588.48 475.97,588.86 475.18,589.91 475.20,591.21 473.97,590.79 472.73,591.21 472.76,589.91 471.97,588.86 473.22,588.48" fill="#2a6e40"/>
<polygon points="487.40,587.21 488.15,588.29 489.40,588.67 488.61,589.71 488.64,591.01 487.40,590.59 486.17,591.01 486.19,589.71 485.41,588.67 486.65,588.29" fill="#2a6e40"/>
<polygon points="498.74,586.93 499.49,588.00 500.74,588.38 499.95,589.42 499.98,590.73 498.74,590.30 497.51,590.73 497.53,589.42 496.75,588.38 498.00,588.00" fill="#2a6e40"/>
<polygon points="508.56,585.76 509.30,586.83 510.55,587.21 509.77,588.25 509.79,589.56 508.56,589.13 507.32,589.56 507.34,588.25 506.56,587.21 507.81,586.83" fill="#2a6e40"/>
<polygon points="517.20,584.17 517.95,585.24 519.20,585.62 518.41,586.66 518.44,587.96 517.20,587.54 515.97,587.96 515.99,586.66 515.20,585.62 516.45,585.24" fill="#2a6e40"/>
<polygon points="524.93,581.59 525.68,582.66 526.93,583.04 526.14,584.08 526.17,585.39 524.93,584.96 523.70,585.39 523.72,584.08 522.93,583.04 524.18,582.66" fill="#2a6e40"/>
<polygon points="531.92,579.23 532.67,580.30 533.92,580.68 533.13,581.72 533.15,583.03 531.92,582.60 530.68,583.03 530.71,581.72 529.92,580.68 531.17,580.30" fill="#2a6e40"/>
<polygon points="538.30,577.00 539.04,578.07 540.29,578.45 539.51,579.49 539.53,580.80 538.30,580.37 537.06,580.80 537.09,579.49 536.30,578.45 537.55,578.07" fill="#2a6e40"/>
<polygon points="544.16,574.87 544.91,575.94 546.16,576.32 545.37,577.36 545.39,578.67 544.16,578.24 542.92,578.67 542.95,577.36 542.16,576.32 543.41,575.94" fill="#2a6e40"/>
<polygon points="549.59,572.82 550.33,573.89 551.58,574.27 550.80,575.31 550.82,576.62 549.59,576.19 548.35,576.62 548.38,575.31 547.59,574.27 548.84,573.89" fill="#2a6e40"/>
<polygon points="554.64,567.97 555.38,569.04 556.63,569.42 555.85,570.46 555.87,571.77 554.64,571.34 553.40,571.77 553.43,570.46 552.64,569.42 553.89,569.04" fill="#2a6e40"/>
<polygon points="559.36,563.44 560.11,564.51 561.36,564.89 560.57,565.93 560.59,567.24 559.36,566.81 558.13,567.24 558.15,565.93 557.36,564.89 558.61,564.51" fill="#2a6e40"/>
<polygon points="563.80,558.81 564.54,559.88 565.79,560.26 565.01,561.30 565.03,562.61 563.80,562.18 562.56,562.61 562.59,561.30 561.80,560.26 563.05,559.88" fill="#2a6e40"/>
<polygon points="567.98,554.45 568.73,555.52 569.97,555.90 569.19,556.94 569.21,558.24 567.98,557.82 566.74,558.24 566.77,556.94 565.98,555.90 567.23,555.52" fill="#2a6e40"/>
<polygon points="571.93,549.49 572.68,550.56 573.93,550.94 573.14,551.99 573.17,553.29 571.93,552.87 570.70,553.29 570.72,551.99 569.93,550.94 571.18,550.56" fill="#2a6e40"/>
<polygon points="575.68,544.68 576.43,545.75 577.68,546.13 576.89,547.17 576.92,548.48 575.68,548.05 574.45,548.48 574.47,547.17 573.69,546.13 574.94,545.75" fill="#2a6e40"/>
<polygon points="579.25,539.76 580.00,540.83 581.25,541.21 580.46,542.26 580.49,543.56 579.25,543.14 578.02,543.56 578.04,542.26 577.25,541.21 578.50,540.83" fill="#2a6e40"/>
<polygon points="582.65,535.06 583.40,536.13 584.65,536.51 583.86,537.55 583.89,538.86 582.65,538.43 581.42,538.86 581.44,537.55 580.65,536.51 581.90,536.13" fill="#2a6e40"/>
<polygon points="585.90,530.48 586.65,531.55 587.90,531.93 587.11,532.97 587.14,534.28 585.90,533.85 584.67,534.28 584.69,532.97 583.90,531.93 585.15,531.55" fill="#2a6e40"/>
<polygon points="589.01,526.08 589.76,527.15 591.01,527.53 590.22,528.57 590.25,529.88 589.01,529.45 587.78,529.88 587.80,528.57 587.02,527.53 588.26,527.15" fill="#2a6e40"/>
<polygon points="592.00,521.25 592.74,522.32 593.99,522.70 593.21,523.74 593.23,525.05 592.00,524.62 590.76,525.05 590.79,523.74 590.00,522.70 591.25,522.32" fill="#2a6e40"/>
<polygon points="594.86,516.22 595.61,517.29 596.86,517.67 596.07,518.71 596.10,520.02 594.86,519.59 593.63,520.02 593.65,518.71 592.87,517.67 594.11,517.29" fill="#2a6e40"/>
<polygon points="597.62,511.53 598.37,512.60 599.62,512.98 598.83,514.03 598.85,515.33 597.62,514.91 596.39,515.33 596.41,514.03 595.62,512.98 596.87,512.60" fill="#2a6e40"/>
<polygon points="600.28,507.10 601.03,508.17 602.28,508.55 601.49,509.60 601.51,510.90 600.28,510.48 599.04,510.90 599.07,509.60 598.28,508.55 599.53,508.17" fill="#2a6e40"/>
<polygon points="602.84,502.58 603.59,503.65 604.84,504.03 604.05,505.07 604.08,506.38 602.84,505.95 601.61,506.38 601.63,505.07 600.84,504.03 602.09,503.65" fill="#2a6e40"/>
<polygon points="605.32,497.47 606.07,498.54 607.32,498.92 606.53,499.97 606.55,501.27 605.32,500.84 604.08,501.27 604.11,499.97 603.32,498.92 604.57,498.54" fill="#2a6e40"/>
<polygon points="607.71,492.52 608.46,493.59 609.71,493.97 608.92,495.02 608.95,496.32 607.71,495.90 606.48,496.32 606.50,495.02 605.72,493.97 606.97,493.59" fill="#2a6e40"/>
<polygon points="610.03,487.70 610.78,488.77 612.03,489.15 611.24,490.20 611.27,491.50 610.03,491.08 608.80,491.50 608.82,490.20 608.04,489.15 609.29,488.77" fill="#2a6e40"/>
<polygon points="612.28,483.03 613.03,484.10 614.28,484.48 613.49,485.52 613.52,486.83 612.28,486.40 611.05,486.83 611.07,485.52 610.28,484.48 611.53,484.10" fill="#2a6e40"/>
<polygon points="614.46,478.44 615.21,479.51 616.46,479.89 615.67,480.93 615.70,482.24 614.46,481.81 613.23,482.24 613.25,480.93 612.46,479.89 613.71,479.51" fill="#2a6e40"/>
<polygon points="616.58,473.99 617.33,475.06 618.58,475.44 617.79,476.48 617.81,477.78 616.58,477.36 615.34,477.78 615.37,476.48 614.58,475.44 615.83,475.06" fill="#2a6e40"/>
<polygon points="618.64,469.24 619.38,470.31 620.63,470.69 619.85,471.74 619.87,473.04 618.64,472.62 617.40,473.04 617.43,471.74 616.64,470.69 617.89,470.31" fill="#2a6e40"/>
<polygon points="620.64,464.53 621.39,465.60 622.63,465.98 621.85,467.02 621.87,468.33 620.64,467.90 619.40,468.33 619.43,467.02 618.64,465.98 619.89,465.60" fill="#2a6e40"/>
<polygon points="622.58,460.23 623.33,461.30 624.58,461.68 623.80,462.72 623.82,464.03 622.58,463.60 621.35,464.03 621.37,462.72 620.59,461.68 621.84,461.30" fill="#2a6e40"/>
<polygon points="624.48,456.16 625.23,457.23 626.48,457.61 625.69,458.65 625.72,459.96 624.48,459.53 623.25,459.96 623.27,458.65 622.48,457.61 623.73,457.23" fill="#2a6e40"/>
<polygon points="626.33,452.05 627.08,453.13 628.33,453.51 627.54,454.55 627.57,455.85 626.33,455.43 625.10,455.85 625.12,454.55 624.33,453.51 625.58,453.13" fill="#2a6e40"/>
<polygon points="628.13,447.45 628.88,448.52 630.13,448.90 629.34,449.94 629.37,451.25 628.13,450.82 626.90,451.25 626.92,449.94 626.14,448.90 627.39,448.52" fill="#2a6e40"/>
<polygon points="629.89,442.95 630.64,444.02 631.89,444.40 631.10,445.44 631.13,446.75 629.89,446.32 628.66,446.75 628.68,445.44 627.90,444.40 629.15,444.02" fill="#2a6e40"/>
<polygon points="631.61,438.56 632.36,439.63 633.61,440.01 632.82,441.05 632.85,442.36 631.61,441.93 630.38,442.36 630.40,441.05 629.61,440.01 630.86,439.63" fill="#2a6e40"/>
<polygon points="633.29,434.27 634.04,435.34 635.29,435.72 634.50,436.76 634.52,438.07 633.29,437.64 632.06,438.07 632.08,436.76 631.29,435.72 632.54,435.34" fill="#2a6e40"/>
<polygon points="634.93,430.08 635.68,431.15 636.93,431.53 636.14,432.57 636.17,433.88 634.93,433.45 633.70,433.88 633.72,432.57 632.93,431.53 634.18,431.15" fill="#2a6e40"/>
<polygon points="636.54,425.75 637.28,426.82 638.53,427.21 637.75,428.25 637.77,429.55 636.54,429.13 635.30,429.55 635.32,428.25 634.54,427.21 635.79,426.82" fill="#2a6e40"/>
<polygon points="638.11,421.52 638.85,422.59 640.10,422.97 639.32,424.01 639.34,425.31 638.11,424.89 636.87,425.31 636.90,424.01 636.11,422.97 637.36,422.59" fill="#2a6e40"/>
<polygon points="639.64,417.37 640.39,418.44 641.64,418.82 640.85,419.86 640.88,421.16 639.64,420.74 638.41,421.16 638.43,419.86 637.65,418.82 638.89,418.44" fill="#2a6e40"/>
<polygon points="641.15,413.30 641.90,414.37 643.15,414.75 642.36,415.79 642.38,417.10 641.15,416.67 639.91,417.10 639.94,415.79 639.15,414.75 640.40,414.37" fill="#2a6e40"/>
<polygon points="642.62,409.32 643.37,410.39 644.62,410.77 643.83,411.81 643.86,413.12 642.62,412.69 641.39,413.12 641.41,411.81 640.63,410.77 641.87,410.39" fill="#2a6e40"/>
<polygon points="644.07,405.42 644.82,406.49 646.07,406.87 645.28,407.91 645.30,409.21 644.07,408.79 642.83,409.21 642.86,407.91 642.07,406.87 643.32,406.49" fill="#2a6e40"/>
<polygon points="645.49,401.25 646.23,402.32 647.48,402.70 646.70,403.75 646.72,405.05 645.49,404.63 644.25,405.05 644.28,403.75 643.49,402.70 644.74,402.32" fill="#2a6e40"/>
<polygon points="646.88,396.54 647.62,397.61 648.87,397.99 648.09,399.03 648.11,400.34 646.88,399.91 645.64,400.34 645.67,399.03 644.88,397.99 646.13,397.61" fill="#2a6e40"/>
<polygon points="648.24,391.91 648.99,392.98 650.24,393.36 649.45,394.40 649.48,395.71 648.24,395.28 647.01,395.71 647.03,394.40 646.24,393.36 647.49,392.98" fill="#2a6e40"/>
<polygon points="649.58,387.37 650.33,388.44 651.58,388.82 650.79,389.86 650.81,391.17 649.58,390.74 648.35,391.17 648.37,389.86 647.58,388.82 648.83,388.44" fill="#2a6e40"/>
<polygon points="650.90,382.91 651.64,383.98 652.89,384.36 652.11,385.40 652.13,386.71 650.90,386.28 649.66,386.71 649.68,385.40 648.90,384.36 650.15,383.98" fill="#2a6e40"/>
<polygon points="652.19,379.50 652.94,380.57 654.18,380.95 653.40,381.99 653.42,383.30 652.19,382.87 650.95,383.30 650.98,381.99 650.19,380.95 651.44,380.57" fill="#2a6e40"/>
<path d="M436.86,587.11 L439.16,591.25 L434.56,591.25Z" fill="#ea8c22"/>
<path d="M458.01,587.07 L460.31,591.21 L455.71,591.21Z" fill="#ea8c22"/>
<path d="M474.39,587.03 L476.69,591.17 L472.09,591.17Z" fill="#ea8c22"/>
<path d="M487.75,586.82 L490.05,590.96 L485.45,590.96Z" fill="#ea8c22"/>
<path d="M499.04,586.54 L501.34,590.68 L496.74,590.68Z" fill="#ea8c22"/>
<path d="M508.82,585.34 L511.12,589.48 L506.52,589.48Z" fill="#ea8c22"/>
<path d="M517.43,583.70 L519.73,587.84 L515.13,587.84Z" fill="#ea8c22"/>
<path d="M525.14,581.14 L527.44,585.28 L522.84,585.28Z" fill="#ea8c22"/>
<path d="M532.11,578.78 L534.41,582.92 L529.81,582.92Z" fill="#ea8c22"/>
<path d="M538.47,576.55 L540.77,580.69 L536.17,580.69Z" fill="#ea8c22"/>
<path d="M544.32,574.42 L546.62,578.56 L542.02,578.56Z" fill="#ea8c22"/>
<path d="M549.73,572.29 L552.03,576.43 L547.43,576.43Z" fill="#ea8c22"/>
<path d="M554.78,567.45 L557.08,571.59 L552.48,571.59Z" fill="#ea8c22"/>
<path d="M559.49,562.92 L561.79,567.06 L557.19,567.06Z" fill="#ea8c22"/>
<path d="M563.92,558.30 L566.22,562.44 L561.62,562.44Z" fill="#ea8c22"/>
<path d="M568.09,553.94 L570.39,558.08 L565.79,558.08Z" fill="#ea8c22"/>
<path d="M572.04,548.97 L574.34,553.11 L569.74,553.11Z" fill="#ea8c22"/>
<path d="M575.79,544.16 L578.09,548.30 L573.49,548.30Z" fill="#ea8c22"/>
<path d="M579.35,539.24 L581.65,543.38 L577.05,543.38Z" fill="#ea8c22"/>
<path d="M582.75,534.54 L585.05,538.68 L580.45,538.68Z" fill="#ea8c22"/>
<path d="M585.99,529.97 L588.29,534.11 L583.69,534.11Z" fill="#ea8c22"/>
<path d="M589.10,525.57 L591.40,529.71 L586.80,529.71Z" fill="#ea8c22"/>
<path d="M592.08,520.72 L594.38,524.86 L589.78,524.86Z" fill="#ea8c22"/>
<path d="M594.94,515.70 L597.24,519.84 L592.64,519.84Z" fill="#ea8c22"/>
<path d="M597.70,511.02 L600.00,515.16 L595.40,515.16Z" fill="#ea8c22"/>
<path d="M600.35,506.60 L602.65,510.74 L598.05,510.74Z" fill="#ea8c22"/>
<path d="M602.91,502.04 L605.21,506.18 L600.61,506.18Z" fill="#ea8c22"/>
<path d="M605.39,496.94 L607.69,501.08 L603.09,501.08Z" fill="#ea8c22"/>
<path d="M607.78,492.00 L610.08,496.14 L605.48,496.14Z" fill="#ea8c22"/>
<path d="M610.10,487.18 L612.40,491.32 L607.80,491.32Z" fill="#ea8c22"/>
<path d="M612.34,482.51 L614.64,486.65 L610.04,486.65Z" fill="#ea8c22"/>
<path d="M614.52,477.93 L616.82,482.07 L612.22,482.07Z" fill="#ea8c22"/>
<path d="M616.64,473.48 L618.94,477.62 L614.34,477.62Z" fill="#ea8c22"/>
<path d="M618.69,468.72 L620.99,472.86 L616.39,472.86Z" fill="#ea8c22"/>
<path d="M620.69,464.01 L622.99,468.15 L618.39,468.15Z" fill="#ea8c22"/>
<path d="M622.64,459.73 L624.94,463.87 L620.34,463.87Z" fill="#ea8c22"/>
<path d="M624.54,455.66 L626.84,459.80 L622.24,459.80Z" fill="#ea8c22"/>
<path d="M626.38,451.54 L628.68,455.68 L624.08,455.68Z" fill="#ea8c22"/>
<path d="M628.18,446.93 L630.48,451.07 L625.88,451.07Z" fill="#ea8c22"/>
<path d="M629.94,442.44 L632.24,446.58 L627.64,446.58Z" fill="#ea8c22"/>
<path d="M631.66,438.05 L633.96,442.19 L629.36,442.19Z" fill="#ea8c22"/>
<path d="M633.34,433.76 L635.64,437.90 L631.04,437.90Z" fill="#ea8c22"/>
<path d="M634.98,429.57 L637.28,433.71 L632.68,433.71Z" fill="#ea8c22"/>
<path d="M636.58,425.25 L638.88,429.39 L634.28,429.39Z" fill="#ea8c22"/>
<path d="M638.15,421.01 L640.45,425.15 L635.85,425.15Z" fill="#ea8c22"/>
<path d="M639.69,416.86 L641.99,421.00 L637.39,421.00Z" fill="#ea8c22"/>
<path d="M641.19,412.80 L643.49,416.94 L638.89,416.94Z" fill="#ea8c22"/>
<path d="M642.66,408.82 L644.96,412.96 L640.36,412.96Z" fill="#ea8c22"/>
<path d="M644.11,404.92 L646.41,409.06 L641.81,409.06Z" fill="#ea8c22"/>
<path d="M645.53,400.73 L647.83,404.87 L643.23,404.87Z" fill="#ea8c22"/>
<path d="M646.92,396.02 L649.22,400.16 L644.62,400.16Z" fill="#ea8c22"/>
<path d="M648.28,391.39 L650.58,395.53 L645.98,395.53Z" fill="#ea8c22"/>
<path d="M649.62,386.85 L651.92,390.99 L647.32,390.99Z" fill="#ea8c22"/>
<path d="M650.93,382.40 L653.23,386.54 L648.63,386.54Z" fill="#ea8c22"/>
<path d="M652.22,379.12 L654.52,383.26 L649.92,383.26Z" fill="#ea8c22"/>
<path d="M440.62,587.39 L442.82,589.59 L440.62,591.79 L438.42,589.59Z" fill="#167b76"/>
<path d="M460.84,587.34 L463.04,589.54 L460.84,591.74 L458.64,589.54Z" fill="#167b76"/>
<path d="M476.66,587.31 L478.86,589.51 L476.66,591.71 L474.46,589.51Z" fill="#167b76"/>
<path d="M489.65,587.06 L491.85,589.26 L489.65,591.46 L487.45,589.26Z" fill="#167b76"/>
<path d="M500.67,586.71 L502.87,588.91 L500.67,591.11 L498.47,588.91Z" fill="#167b76"/>
<path d="M510.24,585.43 L512.44,587.63 L510.24,589.83 L508.04,587.63Z" fill="#167b76"/>
<path d="M518.70,583.57 L520.90,585.77 L518.70,587.97 L516.50,585.77Z" fill="#167b76"/>
<path d="M526.28,581.04 L528.48,583.24 L526.28,585.44 L524.08,583.24Z" fill="#167b76"/>
<path d="M533.15,578.70 L535.35,580.90 L533.15,583.10 L530.95,580.90Z" fill="#167b76"/>
<path d="M539.42,576.50 L541.62,578.70 L539.42,580.90 L537.22,578.70Z" fill="#167b76"/>
<path d="M545.20,574.39 L547.40,576.59 L545.20,578.79 L543.00,576.59Z" fill="#167b76"/>
<path d="M550.55,571.79 L552.75,573.99 L550.55,576.19 L548.35,573.99Z" fill="#167b76"/>
<path d="M555.54,567.01 L557.74,569.21 L555.54,571.41 L553.34,569.21Z" fill="#167b76"/>
<path d="M560.20,562.46 L562.40,564.66 L560.20,566.86 L558.00,564.66Z" fill="#167b76"/>
<path d="M564.59,557.88 L566.79,560.08 L564.59,562.28 L562.39,560.08Z" fill="#167b76"/>
<path d="M568.73,553.51 L570.93,555.71 L568.73,557.91 L566.53,555.71Z" fill="#167b76"/>
<path d="M572.64,548.48 L574.84,550.68 L572.64,552.88 L570.44,550.68Z" fill="#167b76"/>
<path d="M576.36,543.66 L578.56,545.86 L576.36,548.06 L574.16,545.86Z" fill="#167b76"/>
<path d="M579.89,538.77 L582.09,540.97 L579.89,543.17 L577.69,540.97Z" fill="#167b76"/>
<path d="M583.27,534.11 L585.47,536.31 L583.27,538.51 L581.07,536.31Z" fill="#167b76"/>
<path d="M586.49,529.55 L588.69,531.75 L586.49,533.95 L584.29,531.75Z" fill="#167b76"/>
<path d="M589.58,525.18 L591.78,527.38 L589.58,529.58 L587.38,527.38Z" fill="#167b76"/>
<path d="M592.54,520.20 L594.74,522.40 L592.54,524.60 L590.34,522.40Z" fill="#167b76"/>
<path d="M595.38,515.21 L597.58,517.41 L595.38,519.61 L593.18,517.41Z" fill="#167b76"/>
<path d="M598.12,510.60 L600.32,512.80 L598.12,515.00 L595.92,512.80Z" fill="#167b76"/>
<path d="M600.76,506.20 L602.96,508.40 L600.76,510.60 L598.56,508.40Z" fill="#167b76"/>
<path d="M603.31,501.52 L605.51,503.72 L603.31,505.92 L601.11,503.72Z" fill="#167b76"/>
<path d="M605.77,496.44 L607.97,498.64 L605.77,500.84 L603.57,498.64Z" fill="#167b76"/>
<path d="M608.15,491.52 L610.35,493.72 L608.15,495.92 L605.95,493.72Z" fill="#167b76"/>
<path d="M610.46,486.72 L612.66,488.92 L610.46,491.12 L608.26,488.92Z" fill="#167b76"/>
<path d="M612.69,482.07 L614.89,484.27 L612.69,486.47 L610.49,484.27Z" fill="#167b76"/>
<path d="M614.86,477.50 L617.06,479.70 L614.86,481.90 L612.66,479.70Z" fill="#167b76"/>
<path d="M616.97,473.07 L619.17,475.27 L616.97,477.47 L614.77,475.27Z" fill="#167b76"/>
<path d="M619.01,468.26 L621.21,470.46 L619.01,472.66 L616.81,470.46Z" fill="#167b76"/>
<path d="M621.00,463.56 L623.20,465.76 L621.00,467.96 L618.80,465.76Z" fill="#167b76"/>
<path d="M622.94,459.36 L625.14,461.56 L622.94,463.76 L620.74,461.56Z" fill="#167b76"/>
<path d="M624.83,455.31 L627.03,457.51 L624.83,459.71 L622.63,457.51Z" fill="#167b76"/>
<path d="M626.67,451.09 L628.87,453.29 L626.67,455.49 L624.47,453.29Z" fill="#167b76"/>
<path d="M628.46,446.50 L630.66,448.70 L628.46,450.90 L626.26,448.70Z" fill="#167b76"/>
<path d="M630.22,442.03 L632.42,444.23 L630.22,446.43 L628.02,444.23Z" fill="#167b76"/>
<path d="M631.93,437.66 L634.13,439.86 L631.93,442.06 L629.73,439.86Z" fill="#167b76"/>
<path d="M633.60,433.38 L635.80,435.58 L633.60,437.78 L631.40,435.58Z" fill="#167b76"/>
<path d="M635.23,429.18 L637.43,431.38 L635.23,433.58 L633.03,431.38Z" fill="#167b76"/>
<path d="M636.83,424.86 L639.03,427.06 L636.83,429.26 L634.63,427.06Z" fill="#167b76"/>
<path d="M638.39,420.64 L640.59,422.84 L638.39,425.04 L636.19,422.84Z" fill="#167b76"/>
<path d="M639.92,416.50 L642.12,418.70 L639.92,420.90 L637.72,418.70Z" fill="#167b76"/>
<path d="M641.42,412.46 L643.62,414.66 L641.42,416.86 L639.22,414.66Z" fill="#167b76"/>
<path d="M642.89,408.49 L645.09,410.69 L642.89,412.89 L640.69,410.69Z" fill="#167b76"/>
<path d="M644.33,404.60 L646.53,406.80 L644.33,409.00 L642.13,406.80Z" fill="#167b76"/>
<path d="M645.75,400.27 L647.95,402.47 L645.75,404.67 L643.55,402.47Z" fill="#167b76"/>
<path d="M647.13,395.57 L649.33,397.77 L647.13,399.97 L644.93,397.77Z" fill="#167b76"/>
<path d="M648.49,390.96 L650.69,393.16 L648.49,395.36 L646.29,393.16Z" fill="#167b76"/>
<path d="M649.83,386.43 L652.03,388.63 L649.83,390.83 L647.63,388.63Z" fill="#167b76"/>
<path d="M651.14,381.99 L653.34,384.19 L651.14,386.39 L648.94,384.19Z" fill="#167b76"/>
<path d="M652.42,379.40 L654.62,381.60 L652.42,383.80 L650.22,381.60Z" fill="#167b76"/>
<circle cx="442.91" cy="589.58" r="2.45" fill="#d41a6c"/>
<circle cx="462.59" cy="589.54" r="2.45" fill="#d41a6c"/>
<circle cx="478.07" cy="589.50" r="2.45" fill="#d41a6c"/>
<circle cx="490.83" cy="589.23" r="2.45" fill="#d41a6c"/>
<circle cx="501.68" cy="588.78" r="2.45" fill="#d41a6c"/>
<circle cx="511.13" cy="587.52" r="2.45" fill="#d41a6c"/>
<circle cx="519.50" cy="585.50" r="2.45" fill="#d41a6c"/>
<circle cx="527.00" cy="583.00" r="2.45" fill="#d41a6c"/>
<circle cx="533.80" cy="580.67" r="2.45" fill="#d41a6c"/>
<circle cx="540.02" cy="578.49" r="2.45" fill="#d41a6c"/>
<circle cx="545.75" cy="576.38" r="2.45" fill="#d41a6c"/>
<circle cx="551.06" cy="573.50" r="2.45" fill="#d41a6c"/>
<circle cx="556.02" cy="568.75" r="2.45" fill="#d41a6c"/>
<circle cx="560.66" cy="564.19" r="2.45" fill="#d41a6c"/>
<circle cx="565.02" cy="559.64" r="2.45" fill="#d41a6c"/>
<circle cx="569.13" cy="555.19" r="2.45" fill="#d41a6c"/>
<circle cx="573.02" cy="550.19" r="2.45" fill="#d41a6c"/>
<circle cx="576.72" cy="545.36" r="2.45" fill="#d41a6c"/>
<circle cx="580.24" cy="540.50" r="2.45" fill="#d41a6c"/>
<circle cx="583.60" cy="535.84" r="2.45" fill="#d41a6c"/>
<circle cx="586.80" cy="531.30" r="2.45" fill="#d41a6c"/>
<circle cx="589.88" cy="526.96" r="2.45" fill="#d41a6c"/>
<circle cx="592.83" cy="521.89" r="2.45" fill="#d41a6c"/>
<circle cx="595.66" cy="516.92" r="2.45" fill="#d41a6c"/>
<circle cx="598.39" cy="512.35" r="2.45" fill="#d41a6c"/>
<circle cx="601.02" cy="507.97" r="2.45" fill="#d41a6c"/>
<circle cx="603.56" cy="503.20" r="2.45" fill="#d41a6c"/>
<circle cx="606.01" cy="498.14" r="2.45" fill="#d41a6c"/>
<circle cx="608.38" cy="493.23" r="2.45" fill="#d41a6c"/>
<circle cx="610.68" cy="488.45" r="2.45" fill="#d41a6c"/>
<circle cx="612.91" cy="483.80" r="2.45" fill="#d41a6c"/>
<circle cx="615.07" cy="479.25" r="2.45" fill="#d41a6c"/>
<circle cx="617.17" cy="474.79" r="2.45" fill="#d41a6c"/>
<circle cx="619.21" cy="469.98" r="2.45" fill="#d41a6c"/>
<circle cx="621.20" cy="465.30" r="2.45" fill="#d41a6c"/>
<circle cx="623.13" cy="461.15" r="2.45" fill="#d41a6c"/>
<circle cx="625.01" cy="457.11" r="2.45" fill="#d41a6c"/>
<circle cx="626.85" cy="452.83" r="2.45" fill="#d41a6c"/>
<circle cx="628.64" cy="448.25" r="2.45" fill="#d41a6c"/>
<circle cx="630.39" cy="443.79" r="2.45" fill="#d41a6c"/>
<circle cx="632.09" cy="439.42" r="2.45" fill="#d41a6c"/>
<circle cx="633.76" cy="435.16" r="2.45" fill="#d41a6c"/>
<circle cx="635.39" cy="430.94" r="2.45" fill="#d41a6c"/>
<circle cx="636.99" cy="426.63" r="2.45" fill="#d41a6c"/>
<circle cx="638.55" cy="422.42" r="2.45" fill="#d41a6c"/>
<circle cx="640.08" cy="418.30" r="2.45" fill="#d41a6c"/>
<circle cx="641.57" cy="414.25" r="2.45" fill="#d41a6c"/>
<circle cx="643.04" cy="410.30" r="2.45" fill="#d41a6c"/>
<circle cx="644.48" cy="406.41" r="2.45" fill="#d41a6c"/>
<circle cx="645.89" cy="402.00" r="2.45" fill="#d41a6c"/>
<circle cx="647.27" cy="397.31" r="2.45" fill="#d41a6c"/>
<circle cx="648.63" cy="392.70" r="2.45" fill="#d41a6c"/>
<circle cx="649.96" cy="388.18" r="2.45" fill="#d41a6c"/>
<circle cx="651.27" cy="383.75" r="2.45" fill="#d41a6c"/>
<circle cx="440.28" cy="589.59" r="2.1" fill="#c8302c"/>
<circle cx="460.59" cy="589.54" r="2.1" fill="#c8302c"/>
<circle cx="476.45" cy="589.51" r="2.1" fill="#c8302c"/>
<circle cx="489.48" cy="589.26" r="2.1" fill="#c8302c"/>
<circle cx="500.52" cy="588.93" r="2.1" fill="#c8302c"/>
<circle cx="510.11" cy="587.65" r="2.1" fill="#c8302c"/>
<circle cx="518.59" cy="585.80" r="2.1" fill="#c8302c"/>
<circle cx="526.18" cy="583.27" r="2.1" fill="#c8302c"/>
<circle cx="533.05" cy="580.93" r="2.1" fill="#c8302c"/>
<circle cx="539.33" cy="578.73" r="2.1" fill="#c8302c"/>
<circle cx="545.12" cy="576.61" r="2.1" fill="#c8302c"/>
<circle cx="550.48" cy="574.06" r="2.1" fill="#c8302c"/>
<circle cx="555.47" cy="569.27" r="2.1" fill="#c8302c"/>
<circle cx="560.14" cy="564.73" r="2.1" fill="#c8302c"/>
<circle cx="564.53" cy="560.14" r="2.1" fill="#c8302c"/>
<circle cx="568.67" cy="555.78" r="2.1" fill="#c8302c"/>
<circle cx="572.59" cy="550.75" r="2.1" fill="#c8302c"/>
<circle cx="576.31" cy="545.94" r="2.1" fill="#c8302c"/>
<circle cx="579.85" cy="541.04" r="2.1" fill="#c8302c"/>
<circle cx="583.22" cy="536.37" r="2.1" fill="#c8302c"/>
<circle cx="586.44" cy="531.81" r="2.1" fill="#c8302c"/>
<circle cx="589.53" cy="527.44" r="2.1" fill="#c8302c"/>
<circle cx="592.50" cy="522.47" r="2.1" fill="#c8302c"/>
<circle cx="595.34" cy="517.48" r="2.1" fill="#c8302c"/>
<circle cx="598.08" cy="512.86" r="2.1" fill="#c8302c"/>
<circle cx="600.72" cy="508.46" r="2.1" fill="#c8302c"/>
<circle cx="603.27" cy="503.79" r="2.1" fill="#c8302c"/>
<circle cx="605.73" cy="498.71" r="2.1" fill="#c8302c"/>
<circle cx="608.12" cy="493.79" r="2.1" fill="#c8302c"/>
<circle cx="610.42" cy="488.99" r="2.1" fill="#c8302c"/>
<circle cx="612.66" cy="484.33" r="2.1" fill="#c8302c"/>
<circle cx="614.83" cy="479.77" r="2.1" fill="#c8302c"/>
<circle cx="616.94" cy="475.34" r="2.1" fill="#c8302c"/>
<circle cx="618.98" cy="470.52" r="2.1" fill="#c8302c"/>
<circle cx="620.97" cy="465.83" r="2.1" fill="#c8302c"/>
<circle cx="622.91" cy="461.62" r="2.1" fill="#c8302c"/>
<circle cx="624.80" cy="457.57" r="2.1" fill="#c8302c"/>
<circle cx="626.64" cy="453.36" r="2.1" fill="#c8302c"/>
<circle cx="628.44" cy="448.77" r="2.1" fill="#c8302c"/>
<circle cx="630.19" cy="444.29" r="2.1" fill="#c8302c"/>
<circle cx="631.90" cy="439.92" r="2.1" fill="#c8302c"/>
<circle cx="633.57" cy="435.64" r="2.1" fill="#c8302c"/>
<circle cx="635.21" cy="431.44" r="2.1" fill="#c8302c"/>
<circle cx="636.81" cy="427.12" r="2.1" fill="#c8302c"/>
<circle cx="638.37" cy="422.90" r="2.1" fill="#c8302c"/>
<circle cx="639.90" cy="418.76" r="2.1" fill="#c8302c"/>
<circle cx="641.40" cy="414.71" r="2.1" fill="#c8302c"/>
<circle cx="642.87" cy="410.74" r="2.1" fill="#c8302c"/>
<circle cx="644.31" cy="406.85" r="2.1" fill="#c8302c"/>
<circle cx="645.73" cy="402.54" r="2.1" fill="#c8302c"/>
<circle cx="647.11" cy="397.84" r="2.1" fill="#c8302c"/>
<circle cx="648.47" cy="393.23" r="2.1" fill="#c8302c"/>
<circle cx="649.81" cy="388.70" r="2.1" fill="#c8302c"/>
<circle cx="651.12" cy="384.25" r="2.1" fill="#c8302c"/>
<circle cx="652.41" cy="381.60" r="2.1" fill="#c8302c"/>
<path d="M449.01,589.58 L445.14,587.43 L445.14,591.73Z" fill="#5e2a80"/>
<path d="M467.81,589.53 L463.94,587.38 L463.94,591.68Z" fill="#5e2a80"/>
<path d="M482.74,589.49 L478.87,587.34 L478.87,591.64Z" fill="#5e2a80"/>
<path d="M495.13,589.18 L491.26,587.03 L491.26,591.33Z" fill="#5e2a80"/>
<path d="M505.72,588.55 L501.85,586.40 L501.85,590.70Z" fill="#5e2a80"/>
<path d="M514.96,587.32 L511.09,585.17 L511.09,589.47Z" fill="#5e2a80"/>
<path d="M523.16,585.05 L519.29,582.90 L519.29,587.20Z" fill="#5e2a80"/>
<path d="M530.53,582.60 L526.66,580.45 L526.66,584.75Z" fill="#5e2a80"/>
<path d="M537.23,580.28 L533.36,578.13 L533.36,582.43Z" fill="#5e2a80"/>
<path d="M543.36,578.12 L539.49,575.97 L539.49,580.27Z" fill="#5e2a80"/>
<path d="M549.01,576.04 L545.14,573.89 L545.14,578.19Z" fill="#5e2a80"/>
<path d="M554.26,572.66 L550.39,570.51 L550.39,574.81Z" fill="#5e2a80"/>
<path d="M559.16,567.96 L555.29,565.81 L555.29,570.11Z" fill="#5e2a80"/>
<path d="M563.74,563.39 L559.87,561.24 L559.87,565.54Z" fill="#5e2a80"/>
<path d="M568.06,558.88 L564.19,556.73 L564.19,561.03Z" fill="#5e2a80"/>
<path d="M572.13,554.32 L568.26,552.17 L568.26,556.47Z" fill="#5e2a80"/>
<path d="M575.99,549.36 L572.12,547.21 L572.12,551.51Z" fill="#5e2a80"/>
<path d="M579.66,544.51 L575.79,542.36 L575.79,546.66Z" fill="#5e2a80"/>
<path d="M583.15,539.69 L579.28,537.54 L579.28,541.84Z" fill="#5e2a80"/>
<path d="M586.48,535.05 L582.61,532.90 L582.61,537.20Z" fill="#5e2a80"/>
<path d="M589.66,530.54 L585.79,528.39 L585.79,532.69Z" fill="#5e2a80"/>
<path d="M592.71,526.16 L588.84,524.01 L588.84,528.31Z" fill="#5e2a80"/>
<path d="M595.64,521.03 L591.77,518.88 L591.77,523.18Z" fill="#5e2a80"/>
<path d="M598.46,516.11 L594.59,513.96 L594.59,518.26Z" fill="#5e2a80"/>
<path d="M601.17,511.59 L597.30,509.44 L597.30,513.74Z" fill="#5e2a80"/>
<path d="M603.78,507.23 L599.91,505.08 L599.91,509.38Z" fill="#5e2a80"/>
<path d="M606.31,502.32 L602.44,500.17 L602.44,504.47Z" fill="#5e2a80"/>
<path d="M608.75,497.29 L604.88,495.14 L604.88,499.44Z" fill="#5e2a80"/>
<path d="M611.11,492.40 L607.24,490.25 L607.24,494.55Z" fill="#5e2a80"/>
<path d="M613.39,487.65 L609.52,485.50 L609.52,489.80Z" fill="#5e2a80"/>
<path d="M615.61,483.01 L611.74,480.86 L611.74,485.16Z" fill="#5e2a80"/>
<path d="M617.76,478.49 L613.89,476.34 L613.89,480.64Z" fill="#5e2a80"/>
<path d="M619.85,473.96 L615.98,471.81 L615.98,476.11Z" fill="#5e2a80"/>
<path d="M621.88,469.17 L618.01,467.02 L618.01,471.32Z" fill="#5e2a80"/>
<path d="M623.86,464.58 L619.99,462.43 L619.99,466.73Z" fill="#5e2a80"/>
<path d="M625.78,460.45 L621.91,458.30 L621.91,462.60Z" fill="#5e2a80"/>
<path d="M627.65,456.43 L623.78,454.28 L623.78,458.58Z" fill="#5e2a80"/>
<path d="M629.48,452.03 L625.61,449.88 L625.61,454.18Z" fill="#5e2a80"/>
<path d="M631.27,447.48 L627.40,445.33 L627.40,449.63Z" fill="#5e2a80"/>
<path d="M633.01,443.03 L629.14,440.88 L629.14,445.18Z" fill="#5e2a80"/>
<path d="M634.71,438.69 L630.84,436.54 L630.84,440.84Z" fill="#5e2a80"/>
<path d="M636.37,434.44 L632.50,432.29 L632.50,436.59Z" fill="#5e2a80"/>
<path d="M637.99,430.19 L634.12,428.04 L634.12,432.34Z" fill="#5e2a80"/>
<path d="M639.58,425.91 L635.71,423.76 L635.71,428.06Z" fill="#5e2a80"/>
<path d="M641.13,421.71 L637.26,419.56 L637.26,423.86Z" fill="#5e2a80"/>
<path d="M642.66,417.60 L638.79,415.45 L638.79,419.75Z" fill="#5e2a80"/>
<path d="M644.15,413.57 L640.28,411.42 L640.28,415.72Z" fill="#5e2a80"/>
<path d="M645.61,409.62 L641.74,407.47 L641.74,411.77Z" fill="#5e2a80"/>
<path d="M647.04,405.76 L643.17,403.61 L643.17,407.91Z" fill="#5e2a80"/>
<path d="M648.45,401.19 L644.58,399.04 L644.58,403.34Z" fill="#5e2a80"/>
<path d="M649.83,396.51 L645.96,394.36 L645.96,398.66Z" fill="#5e2a80"/>
<path d="M651.18,391.92 L647.31,389.77 L647.31,394.07Z" fill="#5e2a80"/>
<path d="M652.51,387.42 L648.64,385.27 L648.64,389.57Z" fill="#5e2a80"/>
<path d="M653.81,382.99 L649.94,380.84 L649.94,385.14Z" fill="#5e2a80"/>
<circle cx="623.00" cy="508.60" r="2.2" fill="#27418f"/>
<path d="M623.00,521.82 L625.30,525.96 L620.70,525.96Z" fill="#ea8c22"/>
<path d="M623.00,538.10 L625.40,540.50 L623.00,542.90 L620.60,540.50Z" fill="#167b76"/>
<polygon points="623.00,554.10 623.82,555.27 625.19,555.69 624.33,556.83 624.35,558.26 623.00,557.79 621.65,558.26 621.67,556.83 620.81,555.69 622.18,555.27" fill="#2a6e40"/>
<circle cx="623.00" cy="572.40" r="2.35" fill="#db1a74"/>
<circle cx="623.00" cy="588.10" r="2.2" fill="#c8302c"/>
<path d="M625.38,604.00 L621.42,601.80 L621.42,606.20Z" fill="#5e2a80"/>
<text x="640.80" y="513.20" font-size="13.5" text-anchor="start" fill="#1c1c1c" >0 V</text>
<text x="640.80" y="528.90" font-size="13.5" text-anchor="start" fill="#1c1c1c" >1 V</text>
<text x="640.80" y="545.10" font-size="13.5" text-anchor="start" fill="#1c1c1c" >2 V</text>
<text x="640.80" y="561.00" font-size="13.5" text-anchor="start" fill="#1c1c1c" >3 V</text>
<text x="640.80" y="577.00" font-size="13.5" text-anchor="start" fill="#1c1c1c" >4 V</text>
<text x="640.80" y="592.70" font-size="13.5" text-anchor="start" fill="#1c1c1c" >5 V</text>
<text x="640.80" y="608.60" font-size="13.5" text-anchor="start" fill="#1c1c1c" >6 V</text>
<rect x="452.6" y="359.8" width="137.60000000000002" height="114.19999999999999" fill="white" stroke="#121212" stroke-width="1.3"/>
<line x1="483.90" y1="474.00" x2="483.90" y2="469.50" stroke="#121212" stroke-width="1.55"/>
<line x1="546.70" y1="474.00" x2="546.70" y2="469.50" stroke="#121212" stroke-width="1.55"/>
<line x1="515.30" y1="474.00" x2="515.30" y2="466.50" stroke="#121212" stroke-width="1.55"/>
<line x1="578.10" y1="474.00" x2="578.10" y2="466.50" stroke="#121212" stroke-width="1.55"/>
<line x1="452.60" y1="367.40" x2="460.60" y2="367.40" stroke="#121212" stroke-width="1.55"/>
<line x1="452.60" y1="443.80" x2="460.60" y2="443.80" stroke="#121212" stroke-width="1.55"/>
<line x1="452.60" y1="405.60" x2="457.10" y2="405.60" stroke="#121212" stroke-width="1.55"/>
<text x="452.50" y="488.20" font-size="11.5" text-anchor="middle" fill="#1c1c1c" >0</text>
<text x="515.30" y="488.20" font-size="11.5" text-anchor="middle" fill="#1c1c1c" >10</text>
<text x="578.10" y="488.20" font-size="11.5" text-anchor="middle" fill="#1c1c1c" >20</text>
<text x="448.40" y="371.50" font-size="11.5" text-anchor="end" fill="#1c1c1c" >1</text>
<text x="448.40" y="447.90" font-size="11.5" text-anchor="end" fill="#1c1c1c" >0.99</text>
<text x="517.00" y="500.30" font-size="11.5" text-anchor="middle" fill="#1c1c1c" >T (K)</text>
<text transform="translate(432.23,416.30) rotate(-90)" font-size="13.5" fill="#1c1c1c">ρ</text>
<text transform="translate(431.78,407.33) rotate(-90)" font-size="13.5" fill="#1c1c1c">/</text>
<text transform="translate(432.23,402.70) rotate(-90)" font-size="13.5" fill="#1c1c1c">ρ</text>
<text transform="translate(436.72,395.32) rotate(-90)" font-size="10.5" fill="#1c1c1c">o</text>
<path d="M466.90,367.70 C468.10,369.20 471.92,373.98 474.10,376.70 C476.28,379.42 478.20,381.68 480.00,384.00 C481.80,386.32 483.07,388.73 484.90,390.60 C486.73,392.47 489.18,393.73 491.00,395.20 C492.82,396.67 493.40,396.47 495.80,399.40 C498.20,402.33 502.87,408.87 505.40,412.80 C507.93,416.73 508.98,419.58 511.00,423.00 C513.02,426.42 515.57,430.72 517.50,433.30 C519.43,435.88 520.50,436.63 522.60,438.50 C524.70,440.37 527.58,443.08 530.10,444.50 C532.62,445.92 535.18,446.55 537.70,447.00 C540.22,447.45 542.48,447.37 545.20,447.20 C547.92,447.03 550.98,446.87 554.00,446.00 C557.02,445.13 560.30,443.25 563.30,442.00 C566.30,440.75 569.25,439.52 572.00,438.50 C574.75,437.48 578.50,436.33 579.80,435.90" fill="none" stroke="#17817f" stroke-width="1.3" stroke-linecap="round" stroke-linejoin="round"/>
<path d="M464.50,368.30 C466.10,370.30 471.10,376.30 474.10,380.30 C477.10,384.30 479.88,388.77 482.50,392.30 C485.12,395.83 487.58,399.08 489.80,401.50 C492.02,403.92 493.40,404.32 495.80,406.80 C498.20,409.28 501.83,413.37 504.20,416.40 C506.57,419.43 508.18,422.38 510.00,425.00 C511.82,427.62 513.00,429.65 515.10,432.10 C517.20,434.55 520.10,437.68 522.60,439.70 C525.10,441.72 527.58,443.15 530.10,444.20 C532.62,445.25 535.18,445.70 537.70,446.00 C540.22,446.30 542.70,446.25 545.20,446.00 C547.70,445.75 549.68,445.55 552.70,444.50 C555.72,443.45 560.03,441.50 563.30,439.70 C566.57,437.90 569.43,435.68 572.30,433.70 C575.17,431.72 579.13,428.78 580.50,427.80" fill="none" stroke="#6b2a86" stroke-width="1.3" stroke-linecap="round" stroke-linejoin="round"/>
<path d="M464.50,368.30 C466.10,370.10 470.90,375.30 474.10,379.10 C477.30,382.90 480.88,387.88 483.70,391.10 C486.52,394.32 488.58,395.78 491.00,398.40 C493.42,401.02 495.60,403.38 498.20,406.80 C500.80,410.22 504.47,415.70 506.60,418.90 C508.73,422.10 509.38,423.60 511.00,426.00 C512.62,428.40 514.37,430.63 516.30,433.30 C518.23,435.97 520.30,439.05 522.60,442.00 C524.90,444.95 527.58,448.42 530.10,451.00 C532.62,453.58 535.18,455.87 537.70,457.50 C540.22,459.13 542.20,460.05 545.20,460.80 C548.20,461.55 552.43,462.13 555.70,462.00 C558.97,461.87 561.78,460.95 564.80,460.00 C567.82,459.05 571.55,457.17 573.80,456.30 C576.05,455.43 577.55,455.05 578.30,454.80" fill="none" stroke="#df1c78" stroke-width="1.3" stroke-linecap="round" stroke-linejoin="round"/>
<path d="M466.90,367.00 C468.10,368.22 471.92,372.05 474.10,374.30 C476.28,376.55 478.00,378.30 480.00,380.50 C482.00,382.70 483.47,384.72 486.10,387.50 C488.73,390.28 492.78,393.98 495.80,397.20 C498.82,400.42 501.83,403.92 504.20,406.80 C506.57,409.68 507.98,411.88 510.00,414.50 C512.02,417.12 514.20,420.42 516.30,422.50 C518.40,424.58 520.32,425.60 522.60,427.00 C524.88,428.40 527.75,430.03 530.00,430.90 C532.25,431.77 533.57,432.18 536.10,432.20 C538.63,432.22 542.18,431.82 545.20,431.00 C548.22,430.18 551.18,428.98 554.20,427.30 C557.22,425.62 560.28,423.35 563.30,420.90 C566.32,418.45 569.43,415.22 572.30,412.60 C575.17,409.98 579.13,406.43 580.50,405.20" fill="none" stroke="#e8901f" stroke-width="1.3" stroke-linecap="round" stroke-linejoin="round"/>
<path d="M581.30,401.29 L584.55,407.14 L578.05,407.14Z" fill="#ec8a1c"/>
<path d="M584.51,427.50 L578.66,424.25 L578.66,430.75Z" fill="#6b2a86"/>
<path d="M579.80,432.70 L583.00,435.90 L579.80,439.10 L576.60,435.90Z" fill="#17817f"/>
<polygon points="580.98,456.35 578.30,457.90 575.62,456.35 575.62,453.25 578.30,451.70 580.98,453.25" fill="#df1c78"/>
</svg></body></html>
